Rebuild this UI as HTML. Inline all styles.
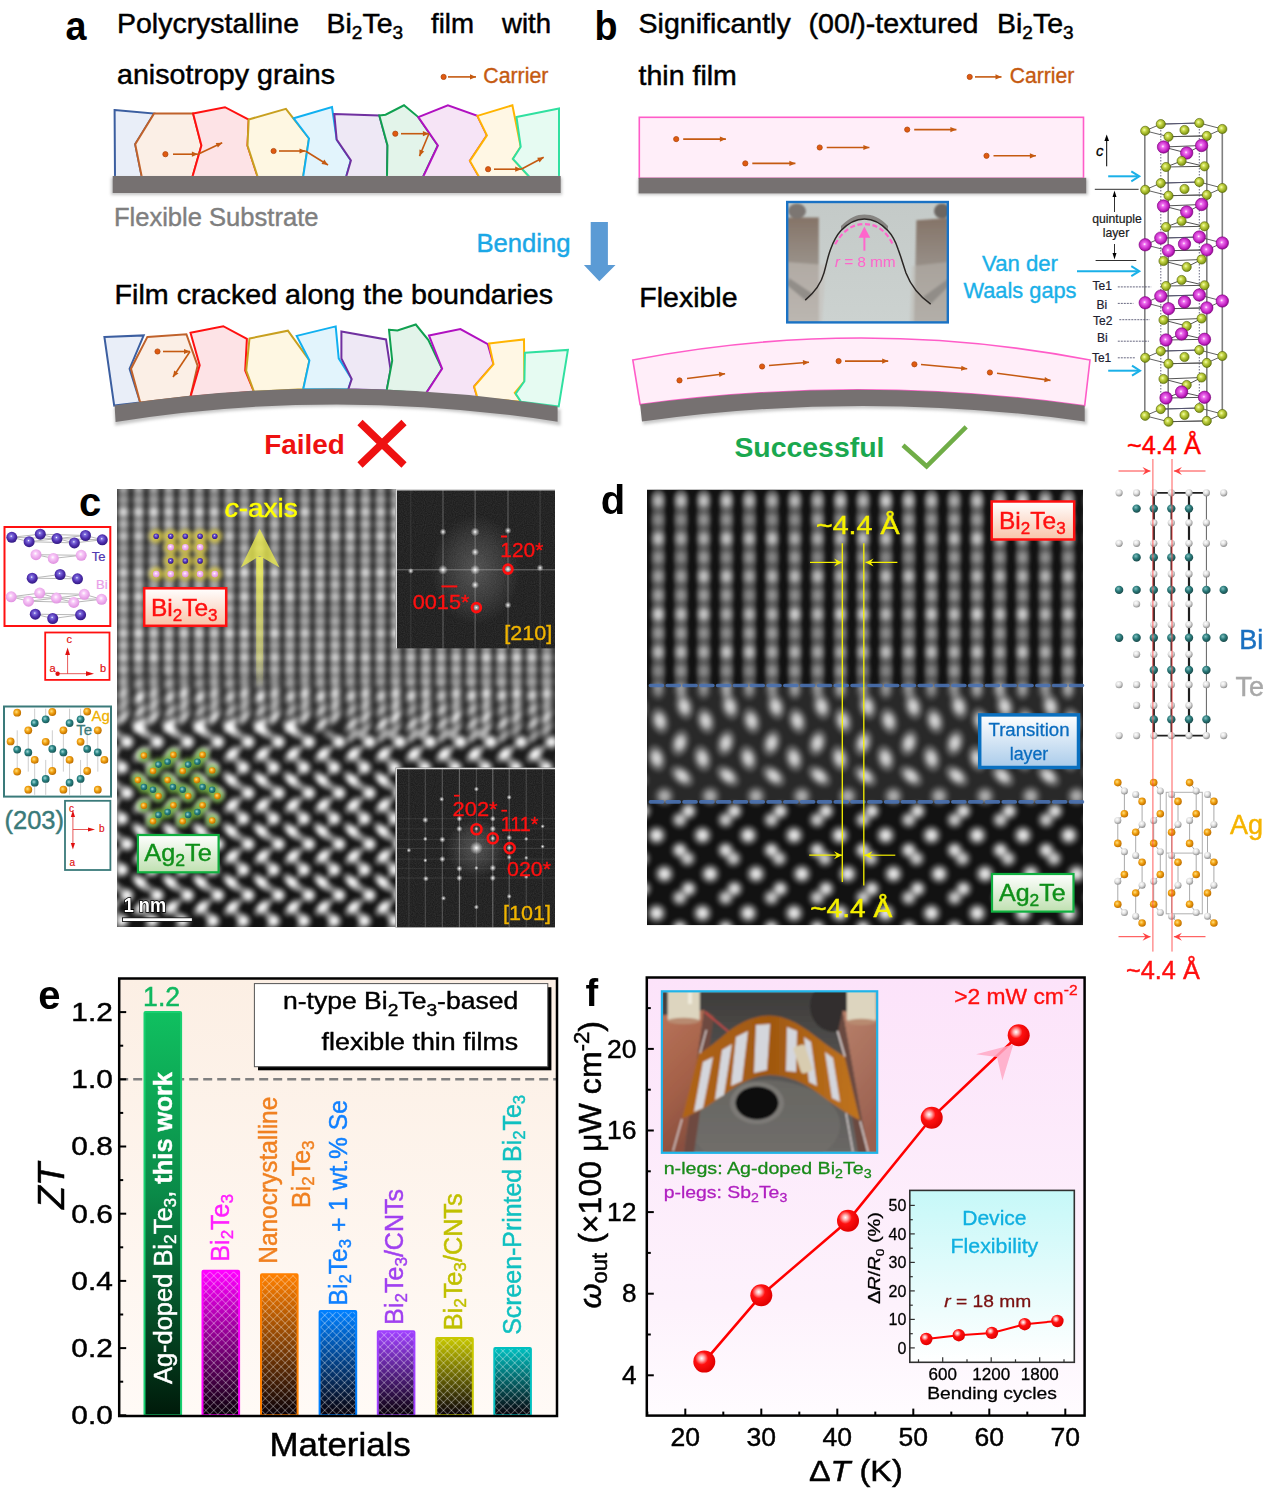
<!DOCTYPE html>
<html><head><meta charset="utf-8"><style>
html,body{margin:0;padding:0;background:#fff;width:1268px;height:1492px;overflow:hidden}
svg{display:block}
text{font-family:"Liberation Sans",sans-serif}
</style></head><body>
<svg width="1268" height="1492" viewBox="0 0 1268 1492">
<text x="65.5" y="40" font-size="40" fill="#000" font-weight="bold" textLength="21" lengthAdjust="spacingAndGlyphs">a</text>
<text x="117" y="33" font-size="28.5" fill="#000" textLength="182" lengthAdjust="spacingAndGlyphs" stroke="#000" stroke-width="0.48">Polycrystalline</text>
<text x="326.5" y="33" font-size="28.5" fill="#000" stroke="#000" stroke-width="0.48">Bi<tspan font-size="19" dy="6">2</tspan><tspan dy="-6">Te</tspan><tspan font-size="19" dy="6">3</tspan></text>
<text x="431" y="33" font-size="28.5" fill="#000" textLength="43" lengthAdjust="spacingAndGlyphs" stroke="#000" stroke-width="0.48">film</text>
<text x="502" y="33" font-size="28.5" fill="#000" textLength="49" lengthAdjust="spacingAndGlyphs" stroke="#000" stroke-width="0.48">with</text>
<text x="117" y="84" font-size="28.5" fill="#000" textLength="218" lengthAdjust="spacingAndGlyphs" stroke="#000" stroke-width="0.48">anisotropy grains</text>
<circle cx="443.6" cy="76.9" r="2.6" fill="#e05a10" stroke="#b04a10" stroke-width="0.8"/><line x1="448" y1="76.9" x2="476" y2="76.9" stroke="#c55a11" stroke-width="1.6"/><polygon points="476,76.9 470.0,79.5 470.0,74.30000000000001" fill="#c55a11"/>
<text x="483.3" y="83.3" font-size="21.3" fill="#c55a11" textLength="65" lengthAdjust="spacingAndGlyphs" stroke="#c55a11" stroke-width="0.36">Carrier</text>
<polygon points="114.6,110 154.1,113.6 135.2,144.3 141.8,177 115,177" fill="#e9eef8" stroke="#3b5ea0" stroke-width="2" stroke-linejoin="miter"/>
<polygon points="154.1,113.6 193.1,113.6 201.4,145.5 192.4,177 141.8,177 135.2,144.3" fill="#fbefe6" stroke="#c0622b" stroke-width="2" stroke-linejoin="miter"/>
<polygon points="193.1,113.6 225,107.2 248.7,119.5 247.5,145.5 257.7,177 192.4,177 201.4,145.5" fill="#fde3e6" stroke="#ff1010" stroke-width="2" stroke-linejoin="miter"/>
<polygon points="248.7,119.5 285.9,108.8 309,138.4 303.1,177 257.7,177 247.5,145.5" fill="#fef7e2" stroke="#c8a020" stroke-width="2" stroke-linejoin="miter"/>
<polygon points="293.7,118.3 332,107 336.7,139.6 350.9,160.4 346.1,177 303.1,177 309,138.4" fill="#e2f4fc" stroke="#10b0f0" stroke-width="2" stroke-linejoin="miter"/>
<polygon points="334.3,114 379.3,115.4 387.5,145.5 387,177 346.1,177 350.9,160.4 336.7,139.6" fill="#eee8f5" stroke="#7030a0" stroke-width="2" stroke-linejoin="miter"/>
<polygon points="379.3,115.4 385.6,114.7 404,105.3 418.3,117.1 437.9,145.5 423,177 387,177 387.5,145.5" fill="#e3f4ea" stroke="#10a050" stroke-width="2" stroke-linejoin="miter"/>
<polygon points="418.3,117.1 447.9,105.3 477.4,115.9 486.9,135.3 469.9,160.9 479.1,177 423,177 437.9,145.5" fill="#f6e4f6" stroke="#b010c0" stroke-width="2" stroke-linejoin="miter"/>
<polygon points="477.4,115.9 512.4,105.3 520.7,146.7 512.9,159 529.5,177 479.1,177 469.9,160.9 486.9,135.3" fill="#fff7e4" stroke="#ffb400" stroke-width="2" stroke-linejoin="miter"/>
<polygon points="516.5,117.1 559,108.4 559,177 529.5,177 512.9,159 520.7,146.7" fill="#e6fbf2" stroke="#30e0a0" stroke-width="2" stroke-linejoin="miter"/>
<defs><filter id="shd" x="-5%" y="-50%" width="110%" height="200%"><feGaussianBlur stdDeviation="1.5"/></filter></defs>
<rect x="111" y="177.5" width="451" height="17.5" fill="#c8c8c8" filter="url(#shd)"/>
<rect x="112.7" y="176" width="448" height="17" fill="#767171"/>
<circle cx="165.4" cy="154.2" r="2.6" fill="#e05a10" stroke="#b04a10" stroke-width="0.8"/><line x1="173" y1="154.2" x2="197.9" y2="154.2" stroke="#c55a11" stroke-width="1.6"/><polygon points="197.9,154.2 191.9,156.79999999999998 191.9,151.6" fill="#c55a11"/><line x1="197.9" y1="154.2" x2="222.2" y2="142.7" stroke="#c55a11" stroke-width="1.6"/><polygon points="222.2,142.7 217.888857380269,147.61671122930144 215.6644714556796,142.91648705821254" fill="#c55a11"/>
<circle cx="273.6" cy="151" r="2.6" fill="#e05a10" stroke="#b04a10" stroke-width="0.8"/><line x1="279" y1="151" x2="305.5" y2="151" stroke="#c55a11" stroke-width="1.6"/><polygon points="305.5,151 299.5,153.6 299.5,148.4" fill="#c55a11"/><line x1="305.5" y1="151" x2="328" y2="165" stroke="#c55a11" stroke-width="1.6"/><polygon points="328,165 321.53207547169814,164.03773584905662 324.2792452830189,159.62264150943395" fill="#c55a11"/>
<circle cx="395.3" cy="133.7" r="2.6" fill="#e05a10" stroke="#b04a10" stroke-width="0.8"/><line x1="401" y1="133.7" x2="428.9" y2="133.7" stroke="#c55a11" stroke-width="1.6"/><polygon points="428.9,133.7 422.9,136.29999999999998 422.9,131.1" fill="#c55a11"/><line x1="428.9" y1="133.7" x2="419.5" y2="156.1" stroke="#c55a11" stroke-width="1.6"/><polygon points="419.5,156.1 419.4242561011752,149.56132560362644 424.21917421808274,151.57347874197157" fill="#c55a11"/>
<circle cx="488.1" cy="169.2" r="2.6" fill="#e05a10" stroke="#b04a10" stroke-width="0.8"/><line x1="494" y1="169.2" x2="521.2" y2="169.2" stroke="#c55a11" stroke-width="1.6"/><polygon points="521.2,169.2 515.2,171.79999999999998 515.2,166.6" fill="#c55a11"/><line x1="521.2" y1="169.2" x2="543.7" y2="157.3" stroke="#c55a11" stroke-width="1.6"/><polygon points="543.7,157.3 539.6116954688488,162.40350527192524 537.1805568527847,157.80681461129976" fill="#c55a11"/>
<text x="113.9" y="226" font-size="25.5" fill="#7f7f7f" textLength="204.6" lengthAdjust="spacingAndGlyphs" stroke="#7f7f7f" stroke-width="0.43">Flexible Substrate</text>
<text x="476.4" y="252" font-size="25.7" fill="#1aa7e6" textLength="94.2" lengthAdjust="spacingAndGlyphs" stroke="#1aa7e6" stroke-width="0.44">Bending</text>
<polygon points="590.7,222 607.9,222 607.9,265 615.5,265 599.3,281.3 583.9,265 590.7,265" fill="#5b9bd5"/>
<text x="114.6" y="304.3" font-size="28.5" fill="#000" textLength="438.4" lengthAdjust="spacingAndGlyphs" stroke="#000" stroke-width="0.48">Film cracked along the boundaries</text>
<polygon points="104.4,336.9 143.7,335.4 129.6,368.7 140.2,402.5 114.2,405.6" fill="#e9eef8" stroke="#3b5ea0" stroke-width="2" stroke-linejoin="miter"/>
<polygon points="147.4,336.9 186.4,334.2 197.6,365.6 190.5,396.7 140.2,402.5 131,368.7" fill="#fbefe6" stroke="#c0622b" stroke-width="2" stroke-linejoin="miter"/>
<polygon points="190.5,332.8 223.3,326.2 246.9,338.9 245.2,370.7 254,391.8 190.5,396.7 199.7,365.2" fill="#fde3e6" stroke="#ff1010" stroke-width="2" stroke-linejoin="miter"/>
<polygon points="249.5,338.5 287.9,330.7 309.4,360.5 303.2,389.2 254,391.8 246.2,370.7" fill="#fef7e2" stroke="#c8a020" stroke-width="2" stroke-linejoin="miter"/>
<polygon points="296.7,335.9 335.7,326.4 338.7,358.4 351.7,379 348.3,389.3 303.2,389.2 309.4,360.5" fill="#e2f4fc" stroke="#10b0f0" stroke-width="2" stroke-linejoin="miter"/>
<polygon points="341.4,331.4 386,339.4 390.6,369.8 386.7,390.4 348.3,389.3 351.7,379 341.4,358.4" fill="#eee8f5" stroke="#7030a0" stroke-width="2" stroke-linejoin="miter"/>
<polygon points="389,329.8 397.5,330.5 415.8,324.5 428.4,340.1 442.1,368.7 426,393.4 386.7,390.4 392.2,360.7" fill="#e3f4ea" stroke="#10a050" stroke-width="2" stroke-linejoin="miter"/>
<polygon points="429,335.5 460.4,329.1 487.8,344.2 493.5,364.1 474.1,386.5 477.5,398 426,393.4 442.1,368.7" fill="#f6e4f6" stroke="#b010c0" stroke-width="2" stroke-linejoin="miter"/>
<polygon points="489,343.5 524,339.4 524.4,381.3 514.8,392.7 521,401.8 477.5,398 474.1,386.5 493.5,364.1" fill="#fff7e4" stroke="#ffb400" stroke-width="2" stroke-linejoin="miter"/>
<polygon points="524.9,352.7 567.9,349.9 558.7,406.4 521,401.8 515.7,393.8 524.4,381.3" fill="#e6fbf2" stroke="#30e0a0" stroke-width="2" stroke-linejoin="miter"/>
<path d="M113,407 Q335,370 559.5,408 L559.5,424 Q335,386 114,424 Z" fill="#c8c8c8" filter="url(#shd)" transform="translate(1,1.5)"/>
<path d="M114.6,405.6 Q335,371 557.6,406.4 L557.6,421.7 Q335,387 115.6,422 Z" fill="#767171"/>
<circle cx="157.5" cy="351.5" r="2.6" fill="#e05a10" stroke="#b04a10" stroke-width="0.8"/><line x1="163" y1="351.5" x2="190" y2="351.5" stroke="#c55a11" stroke-width="1.6"/><polygon points="190,351.5 184.0,354.1 184.0,348.9" fill="#c55a11"/><line x1="190" y1="351.5" x2="173" y2="377" stroke="#c55a11" stroke-width="1.6"/><polygon points="173,377 174.16487041207296,370.5654777237873 178.49153194262976,373.44991874415854" fill="#c55a11"/>
<text x="264.3" y="453.8" font-size="27.9" fill="#ee1111" font-weight="bold" textLength="80.6" lengthAdjust="spacingAndGlyphs">Failed</text>
<path d="M360,422.5 L404,465 M404,422.5 L360,465" stroke="#ee1111" stroke-width="7.5"/>
<text x="594.5" y="39.5" font-size="40" fill="#000" font-weight="bold" textLength="23" lengthAdjust="spacingAndGlyphs">b</text>
<text x="638.6" y="33" font-size="28.5" fill="#000" stroke="#000" stroke-width="0.48">Significantly</text>
<text x="808.5" y="33" font-size="28.5" fill="#000" textLength="170" lengthAdjust="spacingAndGlyphs" stroke="#000" stroke-width="0.48">(00<tspan font-style="italic">l</tspan>)-textured</text>
<text x="997" y="33" font-size="28.5" fill="#000" stroke="#000" stroke-width="0.48">Bi<tspan font-size="19" dy="6">2</tspan><tspan dy="-6">Te</tspan><tspan font-size="19" dy="6">3</tspan></text>
<text x="638.6" y="85" font-size="28.5" fill="#000" stroke="#000" stroke-width="0.48">thin film</text>
<circle cx="969.7" cy="76.9" r="2.6" fill="#e05a10" stroke="#b04a10" stroke-width="0.8"/><line x1="975" y1="76.9" x2="1001.5" y2="76.9" stroke="#c55a11" stroke-width="1.6"/><polygon points="1001.5,76.9 995.5,79.5 995.5,74.30000000000001" fill="#c55a11"/>
<text x="1009.7" y="83.3" font-size="21.3" fill="#c55a11" textLength="64.6" lengthAdjust="spacingAndGlyphs" stroke="#c55a11" stroke-width="0.36">Carrier</text>
<rect x="639.3" y="117.3" width="444.2" height="61" fill="#ffeef9" stroke="#ff5cc8" stroke-width="1.6"/>
<rect x="638" y="179" width="450" height="16" fill="#c8c8c8" filter="url(#shd)"/>
<rect x="638.6" y="177.8" width="447.6" height="15.6" fill="#767171"/>
<circle cx="676.2" cy="139.1" r="2.6" fill="#e05a10" stroke="#b04a10" stroke-width="0.8"/><line x1="683.2" y1="139.1" x2="725.9" y2="139.1" stroke="#c55a11" stroke-width="1.6"/><polygon points="725.9,139.1 719.9,141.7 719.9,136.5" fill="#c55a11"/>
<circle cx="745.3" cy="163.4" r="2.6" fill="#e05a10" stroke="#b04a10" stroke-width="0.8"/><line x1="752.3" y1="163.4" x2="795.4" y2="163.4" stroke="#c55a11" stroke-width="1.6"/><polygon points="795.4,163.4 789.4,166.0 789.4,160.8" fill="#c55a11"/>
<circle cx="819.7" cy="147.5" r="2.6" fill="#e05a10" stroke="#b04a10" stroke-width="0.8"/><line x1="826.7" y1="147.5" x2="869.4" y2="147.5" stroke="#c55a11" stroke-width="1.6"/><polygon points="869.4,147.5 863.4,150.1 863.4,144.9" fill="#c55a11"/>
<circle cx="907.2" cy="129.6" r="2.6" fill="#e05a10" stroke="#b04a10" stroke-width="0.8"/><line x1="914.2" y1="129.6" x2="956.4" y2="129.6" stroke="#c55a11" stroke-width="1.6"/><polygon points="956.4,129.6 950.4,132.2 950.4,127.0" fill="#c55a11"/>
<circle cx="986.5" cy="155.8" r="2.6" fill="#e05a10" stroke="#b04a10" stroke-width="0.8"/><line x1="993.5" y1="155.8" x2="1035.9" y2="155.8" stroke="#c55a11" stroke-width="1.6"/><polygon points="1035.9,155.8 1029.9,158.4 1029.9,153.20000000000002" fill="#c55a11"/>
<defs><clipPath id="phc"><rect x="787.2" y="202" width="160.5999999999999" height="120.39999999999998"/></clipPath><linearGradient id="phbg" x1="0" y1="0" x2="0" y2="1"><stop offset="0" stop-color="#c4cac8"/><stop offset="1" stop-color="#ccd2d0"/></linearGradient><linearGradient id="blkL" x1="0" y1="0" x2="0" y2="1"><stop offset="0" stop-color="#857468"/><stop offset="0.45" stop-color="#9a928a"/><stop offset="1" stop-color="#b0aca6"/></linearGradient><linearGradient id="blkR" x1="0" y1="0" x2="0" y2="1"><stop offset="0" stop-color="#857468"/><stop offset="0.4" stop-color="#958c84"/><stop offset="1" stop-color="#aaa6a0"/></linearGradient><filter id="phb" x="-10%" y="-10%" width="120%" height="120%"><feGaussianBlur stdDeviation="1.3"/></filter></defs>
<g clip-path="url(#phc)">
<rect x="787.2" y="202" width="160.5999999999999" height="120.39999999999998" fill="url(#phbg)"/>
<g filter="url(#phb)">
<polygon points="787,217.6 818.8,217.6 818.8,322.4 787,322.4" fill="url(#blkL)"/>
<polygon points="787,262 826,265 822,322.4 787,322.4" fill="#c4c0ba" opacity="0.55"/>
<polygon points="916.4,220.2 947.8,218 947.8,322.4 914,322.4" fill="url(#blkR)"/>
<polygon points="912,266 947.8,262 947.8,322.4 910,322.4" fill="#bcb8b2" opacity="0.5"/>
<ellipse cx="797" cy="211" rx="9" ry="7.5" fill="#7c7672"/>
<ellipse cx="942" cy="211" rx="8" ry="7.5" fill="#6c6662"/>
<path d="M787,285 L805.2,300.2 L813,294 L789,278 Z" fill="#8c8884" opacity="0.85"/>
<path d="M947.8,287 L930.7,304.1 L923,297 L947.8,279 Z" fill="#8c8884" opacity="0.85"/>
</g>
<path d="M841,226 C850,217 857,214.5 864.4,214.5 C872,214.5 880,217 888,226 L887.8,230.6 C880,222 872,218.9 864.4,218.9 C857,218.9 849,222 841,230.6 Z" fill="#777370" opacity="0.8"/>
<path d="M805.2,300.2 C815,292 821,284 824,272.9 C827,262 828,256 830.5,249.4 C834,240 837,235 841,230.6 C849,222 857,218.9 864.4,218.9 C872,218.9 880,222 887.8,230.6 C892,235 895,240 898.2,249.4 C901,257 903,264 906,272.9 C911,286 918,295 930.7,304.1" fill="none" stroke="#2a2624" stroke-width="1.5"/>
</g>
<rect x="787.2" y="202" width="160.5999999999999" height="120.39999999999998" fill="none" stroke="#1a72c4" stroke-width="2.4"/>
<path d="M835.1,244.3 C843,230 853,224.1 864.4,224.1 C876,224.1 886,230 893,244.9" fill="none" stroke="#ff66cc" stroke-width="2.2" stroke-dasharray="5,2.6"/>
<line x1="864.4" y1="250.7" x2="864.4" y2="234" stroke="#ff66cc" stroke-width="2"/>
<polygon points="864.4,226.5 870.2,237.7 858.6,237.7" fill="#ff66cc"/>
<text x="835.1" y="267" font-size="15.5" fill="#ff66cc" textLength="60.5" lengthAdjust="spacingAndGlyphs"><tspan font-style="italic">r</tspan> = 8 mm</text>
<text x="639.3" y="306.5" font-size="28.5" fill="#000" stroke="#000" stroke-width="0.48">Flexible</text>
<path d="M632.8,360 Q861,316 1090,360 L1084.7,405.7 Q862,374.6 640.1,404.5 Z" fill="#ffeef9" stroke="#ff5cc8" stroke-width="1.6"/>
<path d="M641,406 Q861,375 1086,407 L1086,423 Q861,391 642,423 Z" fill="#c8c8c8" filter="url(#shd)" transform="translate(1,1.5)"/>
<path d="M640.1,404.5 Q862,374.6 1084.7,405.7 L1084.7,421.5 Q862,390.3 642,421.5 Z" fill="#767171"/>
<circle cx="679.5" cy="380.4" r="2.6" fill="#e05a10" stroke="#b04a10" stroke-width="0.8"/><line x1="687" y1="378.5" x2="725.1" y2="373.7" stroke="#c55a11" stroke-width="1.6"/><polygon points="725.1,373.7 719.4720467488825,377.02958589065287 718.8220665844002,371.8703683350753" fill="#c55a11"/>
<circle cx="762.1" cy="366.5" r="2.6" fill="#e05a10" stroke="#b04a10" stroke-width="0.8"/><line x1="769" y1="365.5" x2="809" y2="362.2" stroke="#c55a11" stroke-width="1.6"/><polygon points="809,362.2 803.2340888412978,365.2845207909745 802.8065413714019,360.1021272164777" fill="#c55a11"/>
<circle cx="838.6" cy="361.1" r="2.6" fill="#e05a10" stroke="#b04a10" stroke-width="0.8"/><line x1="845" y1="361.1" x2="888.2" y2="361.1" stroke="#c55a11" stroke-width="1.6"/><polygon points="888.2,361.1 882.2,363.70000000000005 882.2,358.5" fill="#c55a11"/>
<circle cx="914.4" cy="364.3" r="2.6" fill="#e05a10" stroke="#b04a10" stroke-width="0.8"/><line x1="921" y1="364.5" x2="967.2" y2="368.8" stroke="#c55a11" stroke-width="1.6"/><polygon points="967.2,368.8 960.9848704911994,370.8327727833764 961.4667704004053,365.6551505030717" fill="#c55a11"/>
<circle cx="989.9" cy="372.5" r="2.6" fill="#e05a10" stroke="#b04a10" stroke-width="0.8"/><line x1="997" y1="373.2" x2="1050.5" y2="380.4" stroke="#c55a11" stroke-width="1.6"/><polygon points="1050.5,380.4 1044.20682751571,382.1765078336377 1044.9003880296975,377.0229679033143" fill="#c55a11"/>
<text x="734.4" y="457.3" font-size="28.4" fill="#1aa84f" font-weight="bold" textLength="150" lengthAdjust="spacingAndGlyphs">Successful</text>
<path d="M903,445.2 L926.6,466.3 L966.2,426.8" fill="none" stroke="#70ad47" stroke-width="4.5"/>
<defs><radialGradient id="gTe" cx="0.4" cy="0.4" r="0.6"><stop offset="0" stop-color="#f4ffb0"/><stop offset="0.35" stop-color="#c8d848"/><stop offset="1" stop-color="#7a9010"/></radialGradient><radialGradient id="gBi" cx="0.45" cy="0.45" r="0.6"><stop offset="0" stop-color="#ffffff"/><stop offset="0.2" stop-color="#f070f0"/><stop offset="0.7" stop-color="#c020c0"/><stop offset="1" stop-color="#800080"/></radialGradient></defs>
<g stroke="#808080" stroke-width="1.6"><line x1="1144.8" y1="131" x2="1144.8" y2="415"/><line x1="1222.3" y1="129" x2="1222.3" y2="414"/><line x1="1168.2" y1="137" x2="1168.2" y2="421"/><line x1="1206.8" y1="136" x2="1206.8" y2="420"/></g>
<g stroke="#404060" stroke-width="0.8" stroke-dasharray="1.5,1.5"><line x1="1160.8" y1="124" x2="1160.8" y2="408"/><line x1="1199.3" y1="123" x2="1199.3" y2="407"/></g>
<polyline points="1145.2,130.8 1160.8,124.1 1199.3,123 1222.3,129 1206.8,135.9 1168.5,136.7 1145.2,130.8" fill="none" stroke="#505050" stroke-width="0.9"/>
<line x1="1160.8" y1="124.1" x2="1199.3" y2="123" stroke="#505070" stroke-width="0.9"/>
<line x1="1168.5" y1="136.7" x2="1206.8" y2="135.9" stroke="#505050" stroke-width="0.9"/>
<polygon points="1163.5,147 1201.6,145.5 1186.7,153" fill="none" stroke="#404040" stroke-width="0.9"/>
<polygon points="1181.6,161 1166,167 1204.5,166.3" fill="none" stroke="#404040" stroke-width="0.9"/>
<polyline points="1145.2,189.8 1160.8,183.1 1199.3,182 1222.3,188 1206.8,194.9 1168.5,195.7 1145.2,189.8" fill="none" stroke="#505050" stroke-width="0.9"/>
<line x1="1160.8" y1="183.1" x2="1199.3" y2="182" stroke="#505070" stroke-width="0.9"/>
<line x1="1168.5" y1="195.7" x2="1206.8" y2="194.9" stroke="#505050" stroke-width="0.9"/>
<polygon points="1163.5,206 1201.6,204.5 1186.7,212" fill="none" stroke="#404040" stroke-width="0.9"/>
<polygon points="1181.6,221 1166,227 1204.5,226.3" fill="none" stroke="#404040" stroke-width="0.9"/>
<polyline points="1145.2,244.8 1160.8,238.1 1199.3,237 1222.3,243 1206.8,249.9 1168.5,250.7 1145.2,244.8" fill="none" stroke="#505050" stroke-width="0.9"/>
<line x1="1160.8" y1="238.1" x2="1199.3" y2="237" stroke="#505070" stroke-width="0.9"/>
<line x1="1168.5" y1="250.7" x2="1206.8" y2="249.9" stroke="#505050" stroke-width="0.9"/>
<polygon points="1163.5,261 1201.6,259.5 1186.7,267" fill="none" stroke="#404040" stroke-width="0.9"/>
<polygon points="1181.6,280 1166,286 1204.5,285.3" fill="none" stroke="#404040" stroke-width="0.9"/>
<polyline points="1145.2,302.8 1160.8,296.1 1199.3,295 1222.3,301 1206.8,307.9 1168.5,308.7 1145.2,302.8" fill="none" stroke="#505050" stroke-width="0.9"/>
<line x1="1160.8" y1="296.1" x2="1199.3" y2="295" stroke="#505070" stroke-width="0.9"/>
<line x1="1168.5" y1="308.7" x2="1206.8" y2="307.9" stroke="#505050" stroke-width="0.9"/>
<polygon points="1163.5,320 1201.6,318.5 1186.7,326" fill="none" stroke="#404040" stroke-width="0.9"/>
<polygon points="1181.6,334 1166,340 1204.5,339.3" fill="none" stroke="#404040" stroke-width="0.9"/>
<polyline points="1145.2,357.8 1160.8,351.1 1199.3,350 1222.3,356 1206.8,362.9 1168.5,363.7 1145.2,357.8" fill="none" stroke="#505050" stroke-width="0.9"/>
<line x1="1160.8" y1="351.1" x2="1199.3" y2="350" stroke="#505070" stroke-width="0.9"/>
<line x1="1168.5" y1="363.7" x2="1206.8" y2="362.9" stroke="#505050" stroke-width="0.9"/>
<polygon points="1163.5,379 1201.6,377.5 1186.7,385" fill="none" stroke="#404040" stroke-width="0.9"/>
<polygon points="1181.6,392 1166,398 1204.5,397.3" fill="none" stroke="#404040" stroke-width="0.9"/>
<polyline points="1145.2,415.8 1160.8,409.1 1199.3,408 1222.3,414 1206.8,420.9 1168.5,421.7 1145.2,415.8" fill="none" stroke="#505050" stroke-width="0.9"/>
<line x1="1160.8" y1="409.1" x2="1199.3" y2="408" stroke="#505070" stroke-width="0.9"/>
<line x1="1168.5" y1="421.7" x2="1206.8" y2="420.9" stroke="#505050" stroke-width="0.9"/>
<circle cx="1145.2" cy="130.8" r="4.6" fill="url(#gTe)" stroke="#506000" stroke-width="0.6"/>
<circle cx="1160.8" cy="124.1" r="4.6" fill="url(#gTe)" stroke="#506000" stroke-width="0.6"/>
<circle cx="1199.3" cy="123" r="4.6" fill="url(#gTe)" stroke="#506000" stroke-width="0.6"/>
<circle cx="1222.3" cy="129" r="4.6" fill="url(#gTe)" stroke="#506000" stroke-width="0.6"/>
<circle cx="1206.8" cy="135.9" r="4.6" fill="url(#gTe)" stroke="#506000" stroke-width="0.6"/>
<circle cx="1168.5" cy="136.7" r="4.6" fill="url(#gTe)" stroke="#506000" stroke-width="0.6"/>
<circle cx="1184.5" cy="130" r="4.6" fill="url(#gTe)" stroke="#506000" stroke-width="0.6"/>
<circle cx="1163.5" cy="147" r="6.2" fill="url(#gBi)" stroke="#7a007a" stroke-width="0.6"/>
<circle cx="1201.6" cy="145.5" r="6.2" fill="url(#gBi)" stroke="#7a007a" stroke-width="0.6"/>
<circle cx="1186.7" cy="153" r="6.2" fill="url(#gBi)" stroke="#7a007a" stroke-width="0.6"/>
<circle cx="1181.6" cy="161" r="4.6" fill="url(#gTe)" stroke="#506000" stroke-width="0.6"/>
<circle cx="1166" cy="167" r="4.6" fill="url(#gTe)" stroke="#506000" stroke-width="0.6"/>
<circle cx="1204.5" cy="166.3" r="4.6" fill="url(#gTe)" stroke="#506000" stroke-width="0.6"/>
<circle cx="1145.2" cy="189.8" r="4.6" fill="url(#gTe)" stroke="#506000" stroke-width="0.6"/>
<circle cx="1160.8" cy="183.1" r="4.6" fill="url(#gTe)" stroke="#506000" stroke-width="0.6"/>
<circle cx="1199.3" cy="182" r="4.6" fill="url(#gTe)" stroke="#506000" stroke-width="0.6"/>
<circle cx="1222.3" cy="188" r="4.6" fill="url(#gTe)" stroke="#506000" stroke-width="0.6"/>
<circle cx="1206.8" cy="194.9" r="4.6" fill="url(#gTe)" stroke="#506000" stroke-width="0.6"/>
<circle cx="1168.5" cy="195.7" r="4.6" fill="url(#gTe)" stroke="#506000" stroke-width="0.6"/>
<circle cx="1184.5" cy="189" r="4.6" fill="url(#gTe)" stroke="#506000" stroke-width="0.6"/>
<circle cx="1163.5" cy="206" r="6.2" fill="url(#gBi)" stroke="#7a007a" stroke-width="0.6"/>
<circle cx="1201.6" cy="204.5" r="6.2" fill="url(#gBi)" stroke="#7a007a" stroke-width="0.6"/>
<circle cx="1186.7" cy="212" r="6.2" fill="url(#gBi)" stroke="#7a007a" stroke-width="0.6"/>
<circle cx="1181.6" cy="221" r="4.6" fill="url(#gTe)" stroke="#506000" stroke-width="0.6"/>
<circle cx="1166" cy="227" r="4.6" fill="url(#gTe)" stroke="#506000" stroke-width="0.6"/>
<circle cx="1204.5" cy="226.3" r="4.6" fill="url(#gTe)" stroke="#506000" stroke-width="0.6"/>
<circle cx="1145.2" cy="244.8" r="6.2" fill="url(#gBi)" stroke="#7a007a" stroke-width="0.6"/>
<circle cx="1160.8" cy="238.1" r="6.2" fill="url(#gBi)" stroke="#7a007a" stroke-width="0.6"/>
<circle cx="1199.3" cy="237" r="6.2" fill="url(#gBi)" stroke="#7a007a" stroke-width="0.6"/>
<circle cx="1222.3" cy="243" r="6.2" fill="url(#gBi)" stroke="#7a007a" stroke-width="0.6"/>
<circle cx="1206.8" cy="249.9" r="6.2" fill="url(#gBi)" stroke="#7a007a" stroke-width="0.6"/>
<circle cx="1168.5" cy="250.7" r="6.2" fill="url(#gBi)" stroke="#7a007a" stroke-width="0.6"/>
<circle cx="1184.5" cy="244" r="6.2" fill="url(#gBi)" stroke="#7a007a" stroke-width="0.6"/>
<circle cx="1163.5" cy="261" r="4.6" fill="url(#gTe)" stroke="#506000" stroke-width="0.6"/>
<circle cx="1201.6" cy="259.5" r="4.6" fill="url(#gTe)" stroke="#506000" stroke-width="0.6"/>
<circle cx="1186.7" cy="267" r="4.6" fill="url(#gTe)" stroke="#506000" stroke-width="0.6"/>
<circle cx="1181.6" cy="280" r="4.6" fill="url(#gTe)" stroke="#506000" stroke-width="0.6"/>
<circle cx="1166" cy="286" r="4.6" fill="url(#gTe)" stroke="#506000" stroke-width="0.6"/>
<circle cx="1204.5" cy="285.3" r="4.6" fill="url(#gTe)" stroke="#506000" stroke-width="0.6"/>
<circle cx="1145.2" cy="302.8" r="6.2" fill="url(#gBi)" stroke="#7a007a" stroke-width="0.6"/>
<circle cx="1160.8" cy="296.1" r="6.2" fill="url(#gBi)" stroke="#7a007a" stroke-width="0.6"/>
<circle cx="1199.3" cy="295" r="6.2" fill="url(#gBi)" stroke="#7a007a" stroke-width="0.6"/>
<circle cx="1222.3" cy="301" r="6.2" fill="url(#gBi)" stroke="#7a007a" stroke-width="0.6"/>
<circle cx="1206.8" cy="307.9" r="6.2" fill="url(#gBi)" stroke="#7a007a" stroke-width="0.6"/>
<circle cx="1168.5" cy="308.7" r="6.2" fill="url(#gBi)" stroke="#7a007a" stroke-width="0.6"/>
<circle cx="1184.5" cy="302" r="6.2" fill="url(#gBi)" stroke="#7a007a" stroke-width="0.6"/>
<circle cx="1163.5" cy="320" r="4.6" fill="url(#gTe)" stroke="#506000" stroke-width="0.6"/>
<circle cx="1201.6" cy="318.5" r="4.6" fill="url(#gTe)" stroke="#506000" stroke-width="0.6"/>
<circle cx="1186.7" cy="326" r="4.6" fill="url(#gTe)" stroke="#506000" stroke-width="0.6"/>
<circle cx="1181.6" cy="334" r="6.2" fill="url(#gBi)" stroke="#7a007a" stroke-width="0.6"/>
<circle cx="1166" cy="340" r="6.2" fill="url(#gBi)" stroke="#7a007a" stroke-width="0.6"/>
<circle cx="1204.5" cy="339.3" r="6.2" fill="url(#gBi)" stroke="#7a007a" stroke-width="0.6"/>
<circle cx="1145.2" cy="357.8" r="4.6" fill="url(#gTe)" stroke="#506000" stroke-width="0.6"/>
<circle cx="1160.8" cy="351.1" r="4.6" fill="url(#gTe)" stroke="#506000" stroke-width="0.6"/>
<circle cx="1199.3" cy="350" r="4.6" fill="url(#gTe)" stroke="#506000" stroke-width="0.6"/>
<circle cx="1222.3" cy="356" r="4.6" fill="url(#gTe)" stroke="#506000" stroke-width="0.6"/>
<circle cx="1206.8" cy="362.9" r="4.6" fill="url(#gTe)" stroke="#506000" stroke-width="0.6"/>
<circle cx="1168.5" cy="363.7" r="4.6" fill="url(#gTe)" stroke="#506000" stroke-width="0.6"/>
<circle cx="1184.5" cy="357" r="4.6" fill="url(#gTe)" stroke="#506000" stroke-width="0.6"/>
<circle cx="1163.5" cy="379" r="4.6" fill="url(#gTe)" stroke="#506000" stroke-width="0.6"/>
<circle cx="1201.6" cy="377.5" r="4.6" fill="url(#gTe)" stroke="#506000" stroke-width="0.6"/>
<circle cx="1186.7" cy="385" r="4.6" fill="url(#gTe)" stroke="#506000" stroke-width="0.6"/>
<circle cx="1181.6" cy="392" r="6.2" fill="url(#gBi)" stroke="#7a007a" stroke-width="0.6"/>
<circle cx="1166" cy="398" r="6.2" fill="url(#gBi)" stroke="#7a007a" stroke-width="0.6"/>
<circle cx="1204.5" cy="397.3" r="6.2" fill="url(#gBi)" stroke="#7a007a" stroke-width="0.6"/>
<circle cx="1145.2" cy="415.8" r="4.6" fill="url(#gTe)" stroke="#506000" stroke-width="0.6"/>
<circle cx="1160.8" cy="409.1" r="4.6" fill="url(#gTe)" stroke="#506000" stroke-width="0.6"/>
<circle cx="1199.3" cy="408" r="4.6" fill="url(#gTe)" stroke="#506000" stroke-width="0.6"/>
<circle cx="1222.3" cy="414" r="4.6" fill="url(#gTe)" stroke="#506000" stroke-width="0.6"/>
<circle cx="1206.8" cy="420.9" r="4.6" fill="url(#gTe)" stroke="#506000" stroke-width="0.6"/>
<circle cx="1168.5" cy="421.7" r="4.6" fill="url(#gTe)" stroke="#506000" stroke-width="0.6"/>
<circle cx="1184.5" cy="415" r="4.6" fill="url(#gTe)" stroke="#506000" stroke-width="0.6"/>
<text x="1096" y="156" font-size="15" fill="#000" font-style="italic" stroke="#000" stroke-width="0.26">c</text>
<line x1="1106.7" y1="166.3" x2="1106.7" y2="139" stroke="#000" stroke-width="1"/><polygon points="1106.7,134.5 1109,141 1104.4,141" fill="#000"/>
<line x1="1108.2" y1="176.3" x2="1137.3" y2="176.3" stroke="#1ab0e8" stroke-width="2"/><path d="M1131.3,171.3 L1139.3,176.3 L1131.3,181.3" fill="none" stroke="#1ab0e8" stroke-width="2"/>
<line x1="1077" y1="271.2" x2="1137.3" y2="271.2" stroke="#1ab0e8" stroke-width="2"/><path d="M1131.3,266.2 L1139.3,271.2 L1131.3,276.2" fill="none" stroke="#1ab0e8" stroke-width="2"/>
<line x1="1108.2" y1="370.7" x2="1138" y2="370.7" stroke="#1ab0e8" stroke-width="2"/><path d="M1132,365.7 L1140,370.7 L1132,375.7" fill="none" stroke="#1ab0e8" stroke-width="2"/>
<g stroke="#303030" stroke-width="1"><line x1="1094.8" y1="189.3" x2="1138.6" y2="189.3"/><line x1="1095.6" y1="260.5" x2="1136.3" y2="260.5"/><line x1="1114.5" y1="193" x2="1114.5" y2="212"/><line x1="1114.5" y1="244" x2="1114.5" y2="257"/></g><polygon points="1114.5,190.5 1116.5,197 1112.5,197" fill="#000"/><polygon points="1114.5,259.5 1116.5,253 1112.5,253" fill="#000"/>
<text x="1117" y="222.7" font-size="12.2" fill="#202020" text-anchor="middle" stroke="#202020" stroke-width="0.21">quintuple</text>
<text x="1116" y="236.8" font-size="12.2" fill="#202020" text-anchor="middle" stroke="#202020" stroke-width="0.21">layer</text>
<text x="1092.6" y="290.4" font-size="12" fill="#202030" stroke="#202030" stroke-width="0.20">Te1</text>
<line x1="1117.8" y1="286.9" x2="1151.2" y2="286.9" stroke="#404060" stroke-width="0.8" stroke-dasharray="2,1"/>
<text x="1096.6" y="308.9" font-size="12" fill="#202030" stroke="#202030" stroke-width="0.20">Bi</text>
<line x1="1117.8" y1="303.4" x2="1133.4" y2="303.4" stroke="#404060" stroke-width="0.8" stroke-dasharray="2,1"/>
<text x="1093" y="324.5" font-size="12" fill="#202030" stroke="#202030" stroke-width="0.20">Te2</text>
<line x1="1119.3" y1="319.7" x2="1149.7" y2="319.7" stroke="#404060" stroke-width="0.8" stroke-dasharray="2,1"/>
<text x="1097" y="342.3" font-size="12" fill="#202030" stroke="#202030" stroke-width="0.20">Bi</text>
<line x1="1117.8" y1="341.2" x2="1148.9" y2="341.2" stroke="#404060" stroke-width="0.8" stroke-dasharray="2,1"/>
<text x="1091.9" y="361.5" font-size="12" fill="#202030" stroke="#202030" stroke-width="0.20">Te1</text>
<line x1="1117.8" y1="357.8" x2="1135.6" y2="357.8" stroke="#404060" stroke-width="0.8" stroke-dasharray="2,1"/>
<text x="1020" y="271.3" font-size="22" fill="#1ab0e8" text-anchor="middle" textLength="76" lengthAdjust="spacingAndGlyphs" stroke="#1ab0e8" stroke-width="0.37">Van der</text>
<text x="1020" y="297.7" font-size="22" fill="#1ab0e8" text-anchor="middle" textLength="113" lengthAdjust="spacingAndGlyphs" stroke="#1ab0e8" stroke-width="0.37">Waals gaps</text>
<text x="1127" y="453.5" font-size="25.3" fill="#ff0000" textLength="73.8" lengthAdjust="spacingAndGlyphs" stroke="#ff0000" stroke-width="0.43">~4.4 Å</text>
<defs><radialGradient id="gPu" cx="0.45" cy="0.4" r="0.6"><stop offset="0" stop-color="#ffffff"/><stop offset="0.18" stop-color="#8070e0"/><stop offset="0.6" stop-color="#5030b0"/><stop offset="1" stop-color="#301880"/></radialGradient><radialGradient id="gPk" cx="0.45" cy="0.4" r="0.6"><stop offset="0" stop-color="#ffffff"/><stop offset="0.3" stop-color="#f8c8f8"/><stop offset="1" stop-color="#e090e0"/></radialGradient><radialGradient id="gOr" cx="0.4" cy="0.4" r="0.6"><stop offset="0" stop-color="#ffe080"/><stop offset="0.5" stop-color="#f0a010"/><stop offset="1" stop-color="#c07000"/></radialGradient><radialGradient id="gTl" cx="0.4" cy="0.4" r="0.6"><stop offset="0" stop-color="#a0d8d8"/><stop offset="0.5" stop-color="#2a8484"/><stop offset="1" stop-color="#1a5a5a"/></radialGradient></defs>
<text x="79" y="516" font-size="40" fill="#000" font-weight="bold">c</text>
<rect x="4.5" y="527" width="105.8" height="99" fill="#fff" stroke="#ff1010" stroke-width="2"/>
<line x1="11.8" y1="537.3" x2="29.1" y2="541.7" stroke="#b8b8b8" stroke-width="1"/><line x1="29.1" y1="541.7" x2="74.4" y2="542.9" stroke="#b8b8b8" stroke-width="1"/><line x1="74.4" y1="542.9" x2="102.3" y2="539.8" stroke="#b8b8b8" stroke-width="1"/><line x1="102.3" y1="539.8" x2="85.5" y2="535.5" stroke="#b8b8b8" stroke-width="1"/><line x1="85.5" y1="535.5" x2="40.3" y2="534.2" stroke="#b8b8b8" stroke-width="1"/><line x1="40.3" y1="534.2" x2="11.8" y2="537.3" stroke="#b8b8b8" stroke-width="1"/><line x1="11.8" y1="537.3" x2="57" y2="538.6" stroke="#b8b8b8" stroke-width="1"/><line x1="57" y1="538.6" x2="102.3" y2="539.8" stroke="#b8b8b8" stroke-width="1"/><line x1="40.3" y1="534.2" x2="57" y2="538.6" stroke="#b8b8b8" stroke-width="1"/><line x1="57" y1="538.6" x2="85.5" y2="535.5" stroke="#b8b8b8" stroke-width="1"/><line x1="29.1" y1="541.7" x2="57" y2="538.6" stroke="#b8b8b8" stroke-width="1"/><line x1="57" y1="538.6" x2="74.4" y2="542.9" stroke="#b8b8b8" stroke-width="1"/><line x1="11.2" y1="596.8" x2="28.5" y2="601.2" stroke="#b8b8b8" stroke-width="1"/><line x1="28.5" y1="601.2" x2="73.8" y2="602.4" stroke="#b8b8b8" stroke-width="1"/><line x1="73.8" y1="602.4" x2="101.6" y2="599.3" stroke="#b8b8b8" stroke-width="1"/><line x1="101.6" y1="599.3" x2="84.3" y2="594.3" stroke="#b8b8b8" stroke-width="1"/><line x1="84.3" y1="594.3" x2="39.7" y2="593.1" stroke="#b8b8b8" stroke-width="1"/><line x1="39.7" y1="593.1" x2="11.2" y2="596.8" stroke="#b8b8b8" stroke-width="1"/><line x1="11.2" y1="596.8" x2="56.4" y2="598.1" stroke="#b8b8b8" stroke-width="1"/><line x1="56.4" y1="598.1" x2="101.6" y2="599.3" stroke="#b8b8b8" stroke-width="1"/><line x1="39.7" y1="593.1" x2="56.4" y2="598.1" stroke="#b8b8b8" stroke-width="1"/><line x1="56.4" y1="598.1" x2="84.3" y2="594.3" stroke="#b8b8b8" stroke-width="1"/><line x1="28.5" y1="601.2" x2="56.4" y2="598.1" stroke="#b8b8b8" stroke-width="1"/><line x1="56.4" y1="598.1" x2="73.8" y2="602.4" stroke="#b8b8b8" stroke-width="1"/><polygon points="36,554.7 53.3,558.4 81.2,555.3" fill="none" stroke="#b8b8b8" stroke-width="1"/><polygon points="32.2,578.2 60.1,574.5 77.5,578.8" fill="none" stroke="#b8b8b8" stroke-width="1"/><polygon points="35.3,614.2 52.7,618.5 80.6,614.8" fill="none" stroke="#b8b8b8" stroke-width="1"/>
<circle cx="40.3" cy="534.2" r="5.5" fill="url(#gPu)"/>
<circle cx="85.5" cy="535.5" r="5.5" fill="url(#gPu)"/>
<circle cx="11.8" cy="537.3" r="5.5" fill="url(#gPu)"/>
<circle cx="57" cy="538.6" r="5.5" fill="url(#gPu)"/>
<circle cx="102.3" cy="539.8" r="5.5" fill="url(#gPu)"/>
<circle cx="29.1" cy="541.7" r="5.5" fill="url(#gPu)"/>
<circle cx="74.4" cy="542.9" r="5.5" fill="url(#gPu)"/>
<circle cx="36" cy="554.7" r="5.5" fill="url(#gPk)"/>
<circle cx="81.2" cy="555.3" r="5.5" fill="url(#gPk)"/>
<circle cx="53.3" cy="558.4" r="5.5" fill="url(#gPk)"/>
<circle cx="60.1" cy="574.5" r="5.5" fill="url(#gPu)"/>
<circle cx="32.2" cy="578.2" r="5.5" fill="url(#gPu)"/>
<circle cx="77.5" cy="578.8" r="5.5" fill="url(#gPu)"/>
<circle cx="39.7" cy="593.1" r="5.5" fill="url(#gPk)"/>
<circle cx="84.3" cy="594.3" r="5.5" fill="url(#gPk)"/>
<circle cx="11.2" cy="596.8" r="5.5" fill="url(#gPk)"/>
<circle cx="56.4" cy="598.1" r="5.5" fill="url(#gPk)"/>
<circle cx="101.6" cy="599.3" r="5.5" fill="url(#gPk)"/>
<circle cx="28.5" cy="601.2" r="5.5" fill="url(#gPk)"/>
<circle cx="73.8" cy="602.4" r="5.5" fill="url(#gPk)"/>
<circle cx="35.3" cy="614.2" r="5.5" fill="url(#gPu)"/>
<circle cx="80.6" cy="614.8" r="5.5" fill="url(#gPu)"/>
<circle cx="52.7" cy="618.5" r="5.5" fill="url(#gPu)"/>
<text x="91.7" y="560.9" font-size="13" fill="#5038b0" stroke="#5038b0" stroke-width="0.22">Te</text>
<text x="96" y="588.8" font-size="13" fill="#e8a0e8" stroke="#e8a0e8" stroke-width="0.22">Bi</text>
<rect x="45.2" y="632.5" width="64.3" height="47.4" fill="#fff" stroke="#ff1010" stroke-width="1.8"/>
<text x="66.5" y="643" font-size="11" fill="#e01010" stroke="#e01010" stroke-width="0.19">c</text>
<line x1="67.6" y1="673.7" x2="67.6" y2="652" stroke="#e03030" stroke-width="0.8"/><polygon points="67.6,647.5 70,655 65.2,655" fill="#e01010"/>
<line x1="57.6" y1="673.7" x2="90" y2="673.7" stroke="#e03030" stroke-width="0.8"/><polygon points="94,673.7 86,671.3 86,676.1" fill="#e01010"/>
<circle cx="57.6" cy="673.7" r="2.2" fill="#e01010"/>
<text x="49.5" y="672" font-size="11" fill="#e01010" stroke="#e01010" stroke-width="0.19">a</text>
<text x="100" y="672" font-size="11" fill="#e01010" stroke="#e01010" stroke-width="0.19">b</text>
<rect x="4" y="706.5" width="107" height="90.1" fill="#fff" stroke="#3a7a7a" stroke-width="2"/>
<line x1="34.66548907043497" y1="708.703908147494" x2="34.66548907043497" y2="723.0558622212409" stroke="#c0c0c0" stroke-width="0.8"/>
<line x1="45.70545374254802" y1="708.703908147494" x2="45.70545374254802" y2="723.0558622212409" stroke="#c0c0c0" stroke-width="0.8"/>
<line x1="69.55177743431221" y1="708.703908147494" x2="69.55177743431221" y2="723.0558622212409" stroke="#c0c0c0" stroke-width="0.8"/>
<line x1="80.59174210642526" y1="708.703908147494" x2="80.59174210642526" y2="723.0558622212409" stroke="#c0c0c0" stroke-width="0.8"/>
<line x1="17.22234488849636" y1="730.3422389048355" x2="17.22234488849636" y2="771.6317067785383" stroke="#c0c0c0" stroke-width="0.8"/>
<line x1="28.262309560609406" y1="730.3422389048355" x2="28.262309560609406" y2="771.6317067785383" stroke="#c0c0c0" stroke-width="0.8"/>
<line x1="52.329432545815855" y1="730.3422389048355" x2="52.329432545815855" y2="771.6317067785383" stroke="#c0c0c0" stroke-width="0.8"/>
<line x1="63.369397217928906" y1="730.3422389048355" x2="63.369397217928906" y2="771.6317067785383" stroke="#c0c0c0" stroke-width="0.8"/>
<line x1="87.21572090969309" y1="730.3422389048355" x2="87.21572090969309" y2="771.6317067785383" stroke="#c0c0c0" stroke-width="0.8"/>
<line x1="97.81408699492162" y1="730.3422389048355" x2="97.81408699492162" y2="771.6317067785383" stroke="#c0c0c0" stroke-width="0.8"/>
<line x1="34.66548907043497" y1="759.9293442260985" x2="34.66548907043497" y2="794.8156325899757" stroke="#c0c0c0" stroke-width="0.8"/>
<line x1="45.70545374254802" y1="759.9293442260985" x2="45.70545374254802" y2="794.8156325899757" stroke="#c0c0c0" stroke-width="0.8"/>
<line x1="69.55177743431221" y1="759.9293442260985" x2="69.55177743431221" y2="794.8156325899757" stroke="#c0c0c0" stroke-width="0.8"/>
<line x1="80.59174210642526" y1="759.9293442260985" x2="80.59174210642526" y2="794.8156325899757" stroke="#c0c0c0" stroke-width="0.8"/>
<circle cx="17.2" cy="712.7" r="3.9" fill="url(#gOr)"/>
<circle cx="52.3" cy="712.0" r="3.9" fill="url(#gOr)"/>
<circle cx="87.2" cy="711.6" r="3.9" fill="url(#gOr)"/>
<circle cx="28.3" cy="730.3" r="3.9" fill="url(#gOr)"/>
<circle cx="63.4" cy="730.3" r="3.9" fill="url(#gOr)"/>
<circle cx="97.8" cy="730.3" r="3.9" fill="url(#gOr)"/>
<circle cx="10.6" cy="741.4" r="3.9" fill="url(#gOr)"/>
<circle cx="45.7" cy="741.8" r="3.9" fill="url(#gOr)"/>
<circle cx="80.6" cy="741.8" r="3.9" fill="url(#gOr)"/>
<circle cx="34.7" cy="759.9" r="3.9" fill="url(#gOr)"/>
<circle cx="69.6" cy="759.9" r="3.9" fill="url(#gOr)"/>
<circle cx="104.4" cy="759.9" r="3.9" fill="url(#gOr)"/>
<circle cx="17.2" cy="771.6" r="3.9" fill="url(#gOr)"/>
<circle cx="52.3" cy="771.0" r="3.9" fill="url(#gOr)"/>
<circle cx="87.2" cy="771.0" r="3.9" fill="url(#gOr)"/>
<circle cx="28.3" cy="789.7" r="3.9" fill="url(#gOr)"/>
<circle cx="63.4" cy="789.7" r="3.9" fill="url(#gOr)"/>
<circle cx="97.8" cy="789.7" r="3.9" fill="url(#gOr)"/>
<circle cx="34.7" cy="723.1" r="3.9" fill="url(#gTl)"/>
<circle cx="45.7" cy="719.3" r="3.9" fill="url(#gTl)"/>
<circle cx="69.6" cy="723.1" r="3.9" fill="url(#gTl)"/>
<circle cx="80.6" cy="719.3" r="3.9" fill="url(#gTl)"/>
<circle cx="17.2" cy="749.6" r="3.9" fill="url(#gTl)"/>
<circle cx="28.3" cy="752.4" r="3.9" fill="url(#gTl)"/>
<circle cx="52.3" cy="748.9" r="3.9" fill="url(#gTl)"/>
<circle cx="63.4" cy="752.4" r="3.9" fill="url(#gTl)"/>
<circle cx="87.2" cy="748.9" r="3.9" fill="url(#gTl)"/>
<circle cx="97.8" cy="752.4" r="3.9" fill="url(#gTl)"/>
<circle cx="34.7" cy="782.7" r="3.9" fill="url(#gTl)"/>
<circle cx="45.7" cy="778.9" r="3.9" fill="url(#gTl)"/>
<circle cx="69.6" cy="782.7" r="3.9" fill="url(#gTl)"/>
<circle cx="80.6" cy="778.9" r="3.9" fill="url(#gTl)"/>
<text x="91.6" y="720.8" font-size="15" fill="#f0b000" stroke="#f0b000" stroke-width="0.26">Ag</text>
<text x="76.2" y="735.2" font-size="15" fill="#3a7a7a" stroke="#3a7a7a" stroke-width="0.26">Te</text>
<text x="4.5" y="829" font-size="25" fill="#3a7a7a" textLength="59.5" lengthAdjust="spacingAndGlyphs" stroke="#3a7a7a" stroke-width="0.43">(203)</text>
<rect x="65" y="800.8" width="45.4" height="69.2" fill="#fff" stroke="#3a7a7a" stroke-width="1.8"/>
<text x="69" y="812" font-size="10" fill="#e01010" stroke="#e01010" stroke-width="0.17">c</text>
<text x="69.5" y="866" font-size="10" fill="#e01010" stroke="#e01010" stroke-width="0.17">a</text>
<text x="99" y="832" font-size="10" fill="#e01010" stroke="#e01010" stroke-width="0.17">b</text>
<g stroke="#e03030" stroke-width="0.8"><line x1="72.9" y1="815" x2="72.9" y2="845"/><line x1="72.9" y1="829.5" x2="91" y2="829.5"/></g><polygon points="72.9,810.3 75,817 70.8,817" fill="#e01010"/><polygon points="72.9,849.6 75,843 70.8,843" fill="#e01010"/><polygon points="95,829.5 88,827.4 88,831.6" fill="#e01010"/>
<defs><radialGradient id="sp"><stop offset="0" stop-color="#fff" stop-opacity="1"/><stop offset="0.35" stop-color="#fff" stop-opacity="0.75"/><stop offset="0.65" stop-color="#fff" stop-opacity="0.3"/><stop offset="1" stop-color="#fff" stop-opacity="0"/></radialGradient><radialGradient id="spg"><stop offset="0" stop-color="#fff" stop-opacity="0.5"/><stop offset="0.5" stop-color="#fff" stop-opacity="0.25"/><stop offset="1" stop-color="#fff" stop-opacity="0"/></radialGradient><clipPath id="cc"><rect x="117" y="489" width="438" height="438"/></clipPath><linearGradient id="cbg" x1="0" y1="0" x2="0" y2="1"><stop offset="0" stop-color="#323232"/><stop offset="0.48" stop-color="#353535"/><stop offset="0.58" stop-color="#1c1c1c"/><stop offset="1" stop-color="#121212"/></linearGradient><filter id="tb" x="0" y="0" width="1" height="1"><feGaussianBlur stdDeviation="1.4"/></filter></defs>
<g clip-path="url(#cc)">
<rect x="117" y="489" width="438" height="438" fill="url(#cbg)"/>
<g filter="url(#tb)">
<rect x="103.3" y="489" width="10" height="184.7" fill="#8a8a8a" opacity="0.25" rx="5"/>
<ellipse cx="108.3" cy="487.8" rx="8.5" ry="9.5" fill="url(#sp)" opacity="0.55"/>
<ellipse cx="108.3" cy="499.9" rx="8.5" ry="9.5" fill="url(#sp)" opacity="0.55"/>
<ellipse cx="108.3" cy="512.0" rx="8.5" ry="9.5" fill="url(#sp)" opacity="0.76"/>
<ellipse cx="108.3" cy="524.1" rx="8.5" ry="9.5" fill="url(#sp)" opacity="0.64"/>
<ellipse cx="108.3" cy="536.2" rx="8.5" ry="9.5" fill="url(#sp)" opacity="0.77"/>
<ellipse cx="108.3" cy="548.4" rx="8.5" ry="9.5" fill="url(#sp)" opacity="0.52"/>
<ellipse cx="108.3" cy="560.5" rx="8.5" ry="9.5" fill="url(#sp)" opacity="0.48"/>
<ellipse cx="108.3" cy="572.6" rx="8.5" ry="9.5" fill="url(#sp)" opacity="0.85"/>
<ellipse cx="108.3" cy="584.7" rx="8.5" ry="9.5" fill="url(#sp)" opacity="0.59"/>
<ellipse cx="108.3" cy="596.8" rx="8.5" ry="9.5" fill="url(#sp)" opacity="0.70"/>
<ellipse cx="108.3" cy="609.0" rx="8.5" ry="9.5" fill="url(#sp)" opacity="0.66"/>
<ellipse cx="108.3" cy="621.1" rx="8.5" ry="9.5" fill="url(#sp)" opacity="0.54"/>
<ellipse cx="108.3" cy="633.2" rx="8.5" ry="9.5" fill="url(#sp)" opacity="0.85"/>
<ellipse cx="108.3" cy="645.3" rx="8.5" ry="9.5" fill="url(#sp)" opacity="0.62"/>
<ellipse cx="108.3" cy="657.4" rx="8.5" ry="9.5" fill="url(#sp)" opacity="0.77"/>
<ellipse cx="108.4" cy="669.7" rx="8.5" ry="9.6" fill="url(#sp)" transform="rotate(1 108.4 669.7)" opacity="0.54"/>
<ellipse cx="109.0" cy="683.6" rx="8.0" ry="10.8" fill="url(#sp)" transform="rotate(13 109.0 683.6)" opacity="0.59"/>
<ellipse cx="109.6" cy="697.6" rx="7.6" ry="12.0" fill="url(#sp)" transform="rotate(25 109.6 697.6)" opacity="0.92"/>
<ellipse cx="110.2" cy="711.5" rx="7.1" ry="13.2" fill="url(#sp)" transform="rotate(37 110.2 711.5)" opacity="0.70"/>
<ellipse cx="110.3" cy="724.0" rx="7.0" ry="13.5" fill="url(#sp)" transform="rotate(40 110.3 724.0)" opacity="0.88"/>
<rect x="118.4" y="489" width="10" height="185.2" fill="#8a8a8a" opacity="0.25" rx="5"/>
<ellipse cx="123.4" cy="487.8" rx="8.5" ry="9.5" fill="url(#sp)" opacity="0.61"/>
<ellipse cx="123.4" cy="499.9" rx="8.5" ry="9.5" fill="url(#sp)" opacity="0.49"/>
<ellipse cx="123.4" cy="512.0" rx="8.5" ry="9.5" fill="url(#sp)" opacity="0.83"/>
<ellipse cx="123.4" cy="524.1" rx="8.5" ry="9.5" fill="url(#sp)" opacity="0.64"/>
<ellipse cx="123.4" cy="536.2" rx="8.5" ry="9.5" fill="url(#sp)" opacity="0.71"/>
<ellipse cx="123.4" cy="548.4" rx="8.5" ry="9.5" fill="url(#sp)" opacity="0.52"/>
<ellipse cx="123.4" cy="560.5" rx="8.5" ry="9.5" fill="url(#sp)" opacity="0.60"/>
<ellipse cx="123.4" cy="572.6" rx="8.5" ry="9.5" fill="url(#sp)" opacity="0.78"/>
<ellipse cx="123.4" cy="584.7" rx="8.5" ry="9.5" fill="url(#sp)" opacity="0.66"/>
<ellipse cx="123.4" cy="596.8" rx="8.5" ry="9.5" fill="url(#sp)" opacity="0.81"/>
<ellipse cx="123.4" cy="609.0" rx="8.5" ry="9.5" fill="url(#sp)" opacity="0.62"/>
<ellipse cx="123.4" cy="621.1" rx="8.5" ry="9.5" fill="url(#sp)" opacity="0.61"/>
<ellipse cx="123.4" cy="633.2" rx="8.5" ry="9.5" fill="url(#sp)" opacity="0.76"/>
<ellipse cx="123.4" cy="645.3" rx="8.5" ry="9.5" fill="url(#sp)" opacity="0.67"/>
<ellipse cx="123.4" cy="657.4" rx="8.5" ry="9.5" fill="url(#sp)" opacity="0.73"/>
<ellipse cx="123.4" cy="669.6" rx="8.5" ry="9.5" fill="url(#sp)" transform="rotate(0 123.4 669.6)" opacity="0.65"/>
<ellipse cx="123.4" cy="681.4" rx="8.0" ry="10.7" fill="url(#sp)" transform="rotate(11 123.4 681.4)" opacity="0.62"/>
<ellipse cx="123.4" cy="693.2" rx="7.6" ry="12.0" fill="url(#sp)" transform="rotate(21 123.4 693.2)" opacity="0.75"/>
<ellipse cx="123.4" cy="705.0" rx="7.1" ry="13.2" fill="url(#sp)" transform="rotate(32 123.4 705.0)" opacity="0.63"/>
<ellipse cx="123.4" cy="717.0" rx="7.0" ry="13.5" fill="url(#sp)" transform="rotate(35 123.4 717.0)" opacity="0.77"/>
<rect x="133.6" y="489" width="10" height="185.8" fill="#8a8a8a" opacity="0.25" rx="5"/>
<ellipse cx="138.6" cy="487.8" rx="8.5" ry="9.5" fill="url(#sp)" opacity="0.65"/>
<ellipse cx="138.6" cy="499.9" rx="8.5" ry="9.5" fill="url(#sp)" opacity="0.54"/>
<ellipse cx="138.6" cy="512.0" rx="8.5" ry="9.5" fill="url(#sp)" opacity="0.81"/>
<ellipse cx="138.6" cy="524.1" rx="8.5" ry="9.5" fill="url(#sp)" opacity="0.60"/>
<ellipse cx="138.6" cy="536.2" rx="8.5" ry="9.5" fill="url(#sp)" opacity="0.75"/>
<ellipse cx="138.6" cy="548.4" rx="8.5" ry="9.5" fill="url(#sp)" opacity="0.57"/>
<ellipse cx="138.6" cy="560.5" rx="8.5" ry="9.5" fill="url(#sp)" opacity="0.53"/>
<ellipse cx="138.6" cy="572.6" rx="8.5" ry="9.5" fill="url(#sp)" opacity="0.80"/>
<ellipse cx="138.6" cy="584.7" rx="8.5" ry="9.5" fill="url(#sp)" opacity="0.64"/>
<ellipse cx="138.6" cy="596.8" rx="8.5" ry="9.5" fill="url(#sp)" opacity="0.82"/>
<ellipse cx="138.6" cy="609.0" rx="8.5" ry="9.5" fill="url(#sp)" opacity="0.61"/>
<ellipse cx="138.6" cy="621.1" rx="8.5" ry="9.5" fill="url(#sp)" opacity="0.61"/>
<ellipse cx="138.6" cy="633.2" rx="8.5" ry="9.5" fill="url(#sp)" opacity="0.85"/>
<ellipse cx="138.6" cy="645.3" rx="8.5" ry="9.5" fill="url(#sp)" opacity="0.70"/>
<ellipse cx="138.6" cy="657.4" rx="8.5" ry="9.5" fill="url(#sp)" opacity="0.78"/>
<ellipse cx="138.6" cy="669.6" rx="8.5" ry="9.5" fill="url(#sp)" opacity="0.54"/>
<ellipse cx="139.2" cy="683.5" rx="8.1" ry="10.7" fill="url(#sp)" transform="rotate(12 139.2 683.5)" opacity="0.62"/>
<ellipse cx="139.8" cy="697.4" rx="7.6" ry="11.9" fill="url(#sp)" transform="rotate(24 139.8 697.4)" opacity="0.93"/>
<ellipse cx="140.4" cy="711.3" rx="7.1" ry="13.1" fill="url(#sp)" transform="rotate(36 140.4 711.3)" opacity="0.76"/>
<ellipse cx="140.6" cy="724.0" rx="7.0" ry="13.5" fill="url(#sp)" transform="rotate(40 140.6 724.0)" opacity="0.84"/>
<rect x="148.7" y="489" width="10" height="186.3" fill="#8a8a8a" opacity="0.25" rx="5"/>
<ellipse cx="153.7" cy="487.8" rx="8.5" ry="9.5" fill="url(#sp)" opacity="0.62"/>
<ellipse cx="153.7" cy="499.9" rx="8.5" ry="9.5" fill="url(#sp)" opacity="0.51"/>
<ellipse cx="153.7" cy="512.0" rx="8.5" ry="9.5" fill="url(#sp)" opacity="0.85"/>
<ellipse cx="153.7" cy="524.1" rx="8.5" ry="9.5" fill="url(#sp)" opacity="0.64"/>
<ellipse cx="153.7" cy="536.2" rx="8.5" ry="9.5" fill="url(#sp)" opacity="0.70"/>
<ellipse cx="153.7" cy="548.4" rx="8.5" ry="9.5" fill="url(#sp)" opacity="0.52"/>
<ellipse cx="153.7" cy="560.5" rx="8.5" ry="9.5" fill="url(#sp)" opacity="0.60"/>
<ellipse cx="153.7" cy="572.6" rx="8.5" ry="9.5" fill="url(#sp)" opacity="0.88"/>
<ellipse cx="153.7" cy="584.7" rx="8.5" ry="9.5" fill="url(#sp)" opacity="0.56"/>
<ellipse cx="153.7" cy="596.8" rx="8.5" ry="9.5" fill="url(#sp)" opacity="0.80"/>
<ellipse cx="153.7" cy="609.0" rx="8.5" ry="9.5" fill="url(#sp)" opacity="0.57"/>
<ellipse cx="153.7" cy="621.1" rx="8.5" ry="9.5" fill="url(#sp)" opacity="0.50"/>
<ellipse cx="153.7" cy="633.2" rx="8.5" ry="9.5" fill="url(#sp)" opacity="0.74"/>
<ellipse cx="153.7" cy="645.3" rx="8.5" ry="9.5" fill="url(#sp)" opacity="0.67"/>
<ellipse cx="153.7" cy="657.4" rx="8.5" ry="9.5" fill="url(#sp)" opacity="0.81"/>
<ellipse cx="153.7" cy="669.6" rx="8.5" ry="9.5" fill="url(#sp)" opacity="0.52"/>
<ellipse cx="153.7" cy="681.4" rx="8.1" ry="10.6" fill="url(#sp)" transform="rotate(10 153.7 681.4)" opacity="0.58"/>
<ellipse cx="153.7" cy="693.2" rx="7.6" ry="11.8" fill="url(#sp)" transform="rotate(21 153.7 693.2)" opacity="0.74"/>
<ellipse cx="153.7" cy="705.0" rx="7.2" ry="13.1" fill="url(#sp)" transform="rotate(31 153.7 705.0)" opacity="0.73"/>
<ellipse cx="153.7" cy="717.0" rx="7.0" ry="13.5" fill="url(#sp)" transform="rotate(35 153.7 717.0)" opacity="0.79"/>
<rect x="163.8" y="489" width="10" height="186.9" fill="#8a8a8a" opacity="0.25" rx="5"/>
<ellipse cx="168.8" cy="487.8" rx="8.5" ry="9.5" fill="url(#sp)" opacity="0.64"/>
<ellipse cx="168.8" cy="499.9" rx="8.5" ry="9.5" fill="url(#sp)" opacity="0.61"/>
<ellipse cx="168.8" cy="512.0" rx="8.5" ry="9.5" fill="url(#sp)" opacity="0.78"/>
<ellipse cx="168.8" cy="524.1" rx="8.5" ry="9.5" fill="url(#sp)" opacity="0.70"/>
<ellipse cx="168.8" cy="536.2" rx="8.5" ry="9.5" fill="url(#sp)" opacity="0.71"/>
<ellipse cx="168.8" cy="548.4" rx="8.5" ry="9.5" fill="url(#sp)" opacity="0.53"/>
<ellipse cx="168.8" cy="560.5" rx="8.5" ry="9.5" fill="url(#sp)" opacity="0.56"/>
<ellipse cx="168.8" cy="572.6" rx="8.5" ry="9.5" fill="url(#sp)" opacity="0.69"/>
<ellipse cx="168.8" cy="584.7" rx="8.5" ry="9.5" fill="url(#sp)" opacity="0.58"/>
<ellipse cx="168.8" cy="596.8" rx="8.5" ry="9.5" fill="url(#sp)" opacity="0.73"/>
<ellipse cx="168.8" cy="609.0" rx="8.5" ry="9.5" fill="url(#sp)" opacity="0.60"/>
<ellipse cx="168.8" cy="621.1" rx="8.5" ry="9.5" fill="url(#sp)" opacity="0.50"/>
<ellipse cx="168.8" cy="633.2" rx="8.5" ry="9.5" fill="url(#sp)" opacity="0.69"/>
<ellipse cx="168.8" cy="645.3" rx="8.5" ry="9.5" fill="url(#sp)" opacity="0.68"/>
<ellipse cx="168.8" cy="657.4" rx="8.5" ry="9.5" fill="url(#sp)" opacity="0.71"/>
<ellipse cx="168.8" cy="669.6" rx="8.5" ry="9.5" fill="url(#sp)" opacity="0.65"/>
<ellipse cx="169.3" cy="683.3" rx="8.1" ry="10.6" fill="url(#sp)" transform="rotate(11 169.3 683.3)" opacity="0.62"/>
<ellipse cx="169.9" cy="697.2" rx="7.6" ry="11.8" fill="url(#sp)" transform="rotate(23 169.9 697.2)" opacity="0.81"/>
<ellipse cx="170.6" cy="711.2" rx="7.2" ry="13.0" fill="url(#sp)" transform="rotate(35 170.6 711.2)" opacity="0.68"/>
<ellipse cx="170.8" cy="724.0" rx="7.0" ry="13.5" fill="url(#sp)" transform="rotate(40 170.8 724.0)" opacity="0.83"/>
<rect x="178.9" y="489" width="10" height="187.4" fill="#8a8a8a" opacity="0.25" rx="5"/>
<ellipse cx="183.9" cy="487.8" rx="8.5" ry="9.5" fill="url(#sp)" opacity="0.61"/>
<ellipse cx="183.9" cy="499.9" rx="8.5" ry="9.5" fill="url(#sp)" opacity="0.56"/>
<ellipse cx="183.9" cy="512.0" rx="8.5" ry="9.5" fill="url(#sp)" opacity="0.79"/>
<ellipse cx="183.9" cy="524.1" rx="8.5" ry="9.5" fill="url(#sp)" opacity="0.65"/>
<ellipse cx="183.9" cy="536.2" rx="8.5" ry="9.5" fill="url(#sp)" opacity="0.83"/>
<ellipse cx="183.9" cy="548.4" rx="8.5" ry="9.5" fill="url(#sp)" opacity="0.59"/>
<ellipse cx="183.9" cy="560.5" rx="8.5" ry="9.5" fill="url(#sp)" opacity="0.54"/>
<ellipse cx="183.9" cy="572.6" rx="8.5" ry="9.5" fill="url(#sp)" opacity="0.83"/>
<ellipse cx="183.9" cy="584.7" rx="8.5" ry="9.5" fill="url(#sp)" opacity="0.59"/>
<ellipse cx="183.9" cy="596.8" rx="8.5" ry="9.5" fill="url(#sp)" opacity="0.71"/>
<ellipse cx="183.9" cy="609.0" rx="8.5" ry="9.5" fill="url(#sp)" opacity="0.66"/>
<ellipse cx="183.9" cy="621.1" rx="8.5" ry="9.5" fill="url(#sp)" opacity="0.55"/>
<ellipse cx="183.9" cy="633.2" rx="8.5" ry="9.5" fill="url(#sp)" opacity="0.79"/>
<ellipse cx="183.9" cy="645.3" rx="8.5" ry="9.5" fill="url(#sp)" opacity="0.55"/>
<ellipse cx="183.9" cy="657.4" rx="8.5" ry="9.5" fill="url(#sp)" opacity="0.73"/>
<ellipse cx="183.9" cy="669.6" rx="8.5" ry="9.5" fill="url(#sp)" opacity="0.60"/>
<ellipse cx="183.9" cy="681.4" rx="8.1" ry="10.5" fill="url(#sp)" transform="rotate(9 183.9 681.4)" opacity="0.50"/>
<ellipse cx="183.9" cy="693.2" rx="7.7" ry="11.7" fill="url(#sp)" transform="rotate(20 183.9 693.2)" opacity="0.86"/>
<ellipse cx="183.9" cy="705.1" rx="7.2" ry="12.9" fill="url(#sp)" transform="rotate(30 183.9 705.1)" opacity="0.71"/>
<ellipse cx="183.9" cy="717.0" rx="7.0" ry="13.5" fill="url(#sp)" transform="rotate(35 183.9 717.0)" opacity="0.74"/>
<rect x="194.0" y="489" width="10" height="188.0" fill="#8a8a8a" opacity="0.25" rx="5"/>
<ellipse cx="199.0" cy="487.8" rx="8.5" ry="9.5" fill="url(#sp)" opacity="0.61"/>
<ellipse cx="199.0" cy="499.9" rx="8.5" ry="9.5" fill="url(#sp)" opacity="0.54"/>
<ellipse cx="199.0" cy="512.0" rx="8.5" ry="9.5" fill="url(#sp)" opacity="0.82"/>
<ellipse cx="199.0" cy="524.1" rx="8.5" ry="9.5" fill="url(#sp)" opacity="0.60"/>
<ellipse cx="199.0" cy="536.2" rx="8.5" ry="9.5" fill="url(#sp)" opacity="0.78"/>
<ellipse cx="199.0" cy="548.4" rx="8.5" ry="9.5" fill="url(#sp)" opacity="0.62"/>
<ellipse cx="199.0" cy="560.5" rx="8.5" ry="9.5" fill="url(#sp)" opacity="0.48"/>
<ellipse cx="199.0" cy="572.6" rx="8.5" ry="9.5" fill="url(#sp)" opacity="0.70"/>
<ellipse cx="199.0" cy="584.7" rx="8.5" ry="9.5" fill="url(#sp)" opacity="0.65"/>
<ellipse cx="199.0" cy="596.8" rx="8.5" ry="9.5" fill="url(#sp)" opacity="0.83"/>
<ellipse cx="199.0" cy="609.0" rx="8.5" ry="9.5" fill="url(#sp)" opacity="0.55"/>
<ellipse cx="199.0" cy="621.1" rx="8.5" ry="9.5" fill="url(#sp)" opacity="0.54"/>
<ellipse cx="199.0" cy="633.2" rx="8.5" ry="9.5" fill="url(#sp)" opacity="0.80"/>
<ellipse cx="199.0" cy="645.3" rx="8.5" ry="9.5" fill="url(#sp)" opacity="0.60"/>
<ellipse cx="199.0" cy="657.4" rx="8.5" ry="9.5" fill="url(#sp)" opacity="0.72"/>
<ellipse cx="199.0" cy="669.6" rx="8.5" ry="9.5" fill="url(#sp)" opacity="0.56"/>
<ellipse cx="199.5" cy="683.1" rx="8.1" ry="10.5" fill="url(#sp)" transform="rotate(10 199.5 683.1)" opacity="0.55"/>
<ellipse cx="200.1" cy="697.1" rx="7.7" ry="11.7" fill="url(#sp)" transform="rotate(22 200.1 697.1)" opacity="0.85"/>
<ellipse cx="200.7" cy="711.0" rx="7.2" ry="12.9" fill="url(#sp)" transform="rotate(34 200.7 711.0)" opacity="0.65"/>
<ellipse cx="201.0" cy="724.0" rx="7.0" ry="13.5" fill="url(#sp)" transform="rotate(40 201.0 724.0)" opacity="0.80"/>
<rect x="209.2" y="489" width="10" height="188.5" fill="#8a8a8a" opacity="0.25" rx="5"/>
<ellipse cx="214.2" cy="487.8" rx="8.5" ry="9.5" fill="url(#sp)" opacity="0.63"/>
<ellipse cx="214.2" cy="499.9" rx="8.5" ry="9.5" fill="url(#sp)" opacity="0.48"/>
<ellipse cx="214.2" cy="512.0" rx="8.5" ry="9.5" fill="url(#sp)" opacity="0.80"/>
<ellipse cx="214.2" cy="524.1" rx="8.5" ry="9.5" fill="url(#sp)" opacity="0.66"/>
<ellipse cx="214.2" cy="536.2" rx="8.5" ry="9.5" fill="url(#sp)" opacity="0.71"/>
<ellipse cx="214.2" cy="548.4" rx="8.5" ry="9.5" fill="url(#sp)" opacity="0.55"/>
<ellipse cx="214.2" cy="560.5" rx="8.5" ry="9.5" fill="url(#sp)" opacity="0.59"/>
<ellipse cx="214.2" cy="572.6" rx="8.5" ry="9.5" fill="url(#sp)" opacity="0.73"/>
<ellipse cx="214.2" cy="584.7" rx="8.5" ry="9.5" fill="url(#sp)" opacity="0.58"/>
<ellipse cx="214.2" cy="596.8" rx="8.5" ry="9.5" fill="url(#sp)" opacity="0.73"/>
<ellipse cx="214.2" cy="609.0" rx="8.5" ry="9.5" fill="url(#sp)" opacity="0.62"/>
<ellipse cx="214.2" cy="621.1" rx="8.5" ry="9.5" fill="url(#sp)" opacity="0.49"/>
<ellipse cx="214.2" cy="633.2" rx="8.5" ry="9.5" fill="url(#sp)" opacity="0.75"/>
<ellipse cx="214.2" cy="645.3" rx="8.5" ry="9.5" fill="url(#sp)" opacity="0.60"/>
<ellipse cx="214.2" cy="657.4" rx="8.5" ry="9.5" fill="url(#sp)" opacity="0.81"/>
<ellipse cx="214.2" cy="669.6" rx="8.5" ry="9.5" fill="url(#sp)" opacity="0.58"/>
<ellipse cx="214.2" cy="681.5" rx="8.2" ry="10.4" fill="url(#sp)" transform="rotate(8 214.2 681.5)" opacity="0.61"/>
<ellipse cx="214.2" cy="693.3" rx="7.7" ry="11.6" fill="url(#sp)" transform="rotate(19 214.2 693.3)" opacity="0.76"/>
<ellipse cx="214.2" cy="705.1" rx="7.2" ry="12.8" fill="url(#sp)" transform="rotate(29 214.2 705.1)" opacity="0.66"/>
<ellipse cx="214.2" cy="717.0" rx="7.0" ry="13.5" fill="url(#sp)" transform="rotate(35 214.2 717.0)" opacity="0.86"/>
<rect x="224.3" y="489" width="10" height="189.1" fill="#8a8a8a" opacity="0.25" rx="5"/>
<ellipse cx="229.3" cy="487.8" rx="8.5" ry="9.5" fill="url(#sp)" opacity="0.64"/>
<ellipse cx="229.3" cy="499.9" rx="8.5" ry="9.5" fill="url(#sp)" opacity="0.54"/>
<ellipse cx="229.3" cy="512.0" rx="8.5" ry="9.5" fill="url(#sp)" opacity="0.73"/>
<ellipse cx="229.3" cy="524.1" rx="8.5" ry="9.5" fill="url(#sp)" opacity="0.57"/>
<ellipse cx="229.3" cy="536.2" rx="8.5" ry="9.5" fill="url(#sp)" opacity="0.75"/>
<ellipse cx="229.3" cy="548.4" rx="8.5" ry="9.5" fill="url(#sp)" opacity="0.54"/>
<ellipse cx="229.3" cy="560.5" rx="8.5" ry="9.5" fill="url(#sp)" opacity="0.59"/>
<ellipse cx="229.3" cy="572.6" rx="8.5" ry="9.5" fill="url(#sp)" opacity="0.85"/>
<ellipse cx="229.3" cy="584.7" rx="8.5" ry="9.5" fill="url(#sp)" opacity="0.58"/>
<ellipse cx="229.3" cy="596.8" rx="8.5" ry="9.5" fill="url(#sp)" opacity="0.70"/>
<ellipse cx="229.3" cy="609.0" rx="8.5" ry="9.5" fill="url(#sp)" opacity="0.63"/>
<ellipse cx="229.3" cy="621.1" rx="8.5" ry="9.5" fill="url(#sp)" opacity="0.57"/>
<ellipse cx="229.3" cy="633.2" rx="8.5" ry="9.5" fill="url(#sp)" opacity="0.84"/>
<ellipse cx="229.3" cy="645.3" rx="8.5" ry="9.5" fill="url(#sp)" opacity="0.60"/>
<ellipse cx="229.3" cy="657.4" rx="8.5" ry="9.5" fill="url(#sp)" opacity="0.68"/>
<ellipse cx="229.3" cy="669.6" rx="8.5" ry="9.5" fill="url(#sp)" opacity="0.56"/>
<ellipse cx="229.7" cy="683.0" rx="8.2" ry="10.4" fill="url(#sp)" transform="rotate(9 229.7 683.0)" opacity="0.60"/>
<ellipse cx="230.3" cy="696.9" rx="7.7" ry="11.6" fill="url(#sp)" transform="rotate(21 230.3 696.9)" opacity="0.78"/>
<ellipse cx="230.9" cy="710.8" rx="7.3" ry="12.8" fill="url(#sp)" transform="rotate(33 230.9 710.8)" opacity="0.66"/>
<ellipse cx="231.3" cy="724.0" rx="7.0" ry="13.5" fill="url(#sp)" transform="rotate(40 231.3 724.0)" opacity="0.81"/>
<rect x="239.4" y="489" width="10" height="189.7" fill="#8a8a8a" opacity="0.25" rx="5"/>
<ellipse cx="244.4" cy="487.8" rx="8.5" ry="9.5" fill="url(#sp)" opacity="0.58"/>
<ellipse cx="244.4" cy="499.9" rx="8.5" ry="9.5" fill="url(#sp)" opacity="0.54"/>
<ellipse cx="244.4" cy="512.0" rx="8.5" ry="9.5" fill="url(#sp)" opacity="0.86"/>
<ellipse cx="244.4" cy="524.1" rx="8.5" ry="9.5" fill="url(#sp)" opacity="0.57"/>
<ellipse cx="244.4" cy="536.2" rx="8.5" ry="9.5" fill="url(#sp)" opacity="0.65"/>
<ellipse cx="244.4" cy="548.4" rx="8.5" ry="9.5" fill="url(#sp)" opacity="0.65"/>
<ellipse cx="244.4" cy="560.5" rx="8.5" ry="9.5" fill="url(#sp)" opacity="0.60"/>
<ellipse cx="244.4" cy="572.6" rx="8.5" ry="9.5" fill="url(#sp)" opacity="0.88"/>
<ellipse cx="244.4" cy="584.7" rx="8.5" ry="9.5" fill="url(#sp)" opacity="0.62"/>
<ellipse cx="244.4" cy="596.8" rx="8.5" ry="9.5" fill="url(#sp)" opacity="0.83"/>
<ellipse cx="244.4" cy="609.0" rx="8.5" ry="9.5" fill="url(#sp)" opacity="0.65"/>
<ellipse cx="244.4" cy="621.1" rx="8.5" ry="9.5" fill="url(#sp)" opacity="0.51"/>
<ellipse cx="244.4" cy="633.2" rx="8.5" ry="9.5" fill="url(#sp)" opacity="0.83"/>
<ellipse cx="244.4" cy="645.3" rx="8.5" ry="9.5" fill="url(#sp)" opacity="0.68"/>
<ellipse cx="244.4" cy="657.4" rx="8.5" ry="9.5" fill="url(#sp)" opacity="0.77"/>
<ellipse cx="244.4" cy="669.6" rx="8.5" ry="9.5" fill="url(#sp)" opacity="0.59"/>
<ellipse cx="244.4" cy="681.5" rx="8.2" ry="10.3" fill="url(#sp)" transform="rotate(7 244.4 681.5)" opacity="0.53"/>
<ellipse cx="244.4" cy="693.3" rx="7.7" ry="11.5" fill="url(#sp)" transform="rotate(18 244.4 693.3)" opacity="0.80"/>
<ellipse cx="244.4" cy="705.1" rx="7.3" ry="12.7" fill="url(#sp)" transform="rotate(28 244.4 705.1)" opacity="0.64"/>
<ellipse cx="244.4" cy="717.0" rx="7.0" ry="13.5" fill="url(#sp)" transform="rotate(35 244.4 717.0)" opacity="0.74"/>
<rect x="254.5" y="489" width="10" height="190.2" fill="#8a8a8a" opacity="0.25" rx="5"/>
<ellipse cx="259.5" cy="487.8" rx="8.5" ry="9.5" fill="url(#sp)" opacity="0.60"/>
<ellipse cx="259.5" cy="499.9" rx="8.5" ry="9.5" fill="url(#sp)" opacity="0.52"/>
<ellipse cx="259.5" cy="512.0" rx="8.5" ry="9.5" fill="url(#sp)" opacity="0.84"/>
<ellipse cx="259.5" cy="524.1" rx="8.5" ry="9.5" fill="url(#sp)" opacity="0.56"/>
<ellipse cx="259.5" cy="536.2" rx="8.5" ry="9.5" fill="url(#sp)" opacity="0.82"/>
<ellipse cx="259.5" cy="548.4" rx="8.5" ry="9.5" fill="url(#sp)" opacity="0.62"/>
<ellipse cx="259.5" cy="560.5" rx="8.5" ry="9.5" fill="url(#sp)" opacity="0.61"/>
<ellipse cx="259.5" cy="572.6" rx="8.5" ry="9.5" fill="url(#sp)" opacity="0.86"/>
<ellipse cx="259.5" cy="584.7" rx="8.5" ry="9.5" fill="url(#sp)" opacity="0.69"/>
<ellipse cx="259.5" cy="596.8" rx="8.5" ry="9.5" fill="url(#sp)" opacity="0.76"/>
<ellipse cx="259.5" cy="609.0" rx="8.5" ry="9.5" fill="url(#sp)" opacity="0.52"/>
<ellipse cx="259.5" cy="621.1" rx="8.5" ry="9.5" fill="url(#sp)" opacity="0.58"/>
<ellipse cx="259.5" cy="633.2" rx="8.5" ry="9.5" fill="url(#sp)" opacity="0.72"/>
<ellipse cx="259.5" cy="645.3" rx="8.5" ry="9.5" fill="url(#sp)" opacity="0.60"/>
<ellipse cx="259.5" cy="657.4" rx="8.5" ry="9.5" fill="url(#sp)" opacity="0.77"/>
<ellipse cx="259.5" cy="669.6" rx="8.5" ry="9.5" fill="url(#sp)" opacity="0.59"/>
<ellipse cx="259.9" cy="682.8" rx="8.2" ry="10.2" fill="url(#sp)" transform="rotate(7 259.9 682.8)" opacity="0.55"/>
<ellipse cx="260.5" cy="696.7" rx="7.8" ry="11.5" fill="url(#sp)" transform="rotate(20 260.5 696.7)" opacity="0.92"/>
<ellipse cx="261.1" cy="710.7" rx="7.3" ry="12.7" fill="url(#sp)" transform="rotate(32 261.1 710.7)" opacity="0.70"/>
<ellipse cx="261.5" cy="724.0" rx="7.0" ry="13.5" fill="url(#sp)" transform="rotate(40 261.5 724.0)" opacity="0.80"/>
<rect x="269.6" y="489" width="10" height="190.8" fill="#8a8a8a" opacity="0.25" rx="5"/>
<ellipse cx="274.6" cy="487.8" rx="8.5" ry="9.5" fill="url(#sp)" opacity="0.55"/>
<ellipse cx="274.6" cy="499.9" rx="8.5" ry="9.5" fill="url(#sp)" opacity="0.60"/>
<ellipse cx="274.6" cy="512.0" rx="8.5" ry="9.5" fill="url(#sp)" opacity="0.78"/>
<ellipse cx="274.6" cy="524.1" rx="8.5" ry="9.5" fill="url(#sp)" opacity="0.67"/>
<ellipse cx="274.6" cy="536.2" rx="8.5" ry="9.5" fill="url(#sp)" opacity="0.72"/>
<ellipse cx="274.6" cy="548.4" rx="8.5" ry="9.5" fill="url(#sp)" opacity="0.54"/>
<ellipse cx="274.6" cy="560.5" rx="8.5" ry="9.5" fill="url(#sp)" opacity="0.55"/>
<ellipse cx="274.6" cy="572.6" rx="8.5" ry="9.5" fill="url(#sp)" opacity="0.84"/>
<ellipse cx="274.6" cy="584.7" rx="8.5" ry="9.5" fill="url(#sp)" opacity="0.58"/>
<ellipse cx="274.6" cy="596.8" rx="8.5" ry="9.5" fill="url(#sp)" opacity="0.80"/>
<ellipse cx="274.6" cy="609.0" rx="8.5" ry="9.5" fill="url(#sp)" opacity="0.65"/>
<ellipse cx="274.6" cy="621.1" rx="8.5" ry="9.5" fill="url(#sp)" opacity="0.59"/>
<ellipse cx="274.6" cy="633.2" rx="8.5" ry="9.5" fill="url(#sp)" opacity="0.85"/>
<ellipse cx="274.6" cy="645.3" rx="8.5" ry="9.5" fill="url(#sp)" opacity="0.55"/>
<ellipse cx="274.6" cy="657.4" rx="8.5" ry="9.5" fill="url(#sp)" opacity="0.77"/>
<ellipse cx="274.6" cy="669.6" rx="8.5" ry="9.5" fill="url(#sp)" opacity="0.64"/>
<ellipse cx="274.6" cy="681.5" rx="8.2" ry="10.2" fill="url(#sp)" transform="rotate(6 274.6 681.5)" opacity="0.50"/>
<ellipse cx="274.6" cy="693.3" rx="7.8" ry="11.4" fill="url(#sp)" transform="rotate(17 274.6 693.3)" opacity="0.78"/>
<ellipse cx="274.6" cy="705.1" rx="7.3" ry="12.6" fill="url(#sp)" transform="rotate(27 274.6 705.1)" opacity="0.64"/>
<ellipse cx="274.6" cy="717.0" rx="7.0" ry="13.5" fill="url(#sp)" transform="rotate(35 274.6 717.0)" opacity="0.83"/>
<rect x="284.8" y="489" width="10" height="191.3" fill="#8a8a8a" opacity="0.25" rx="5"/>
<ellipse cx="289.8" cy="487.8" rx="8.5" ry="9.5" fill="url(#sp)" opacity="0.58"/>
<ellipse cx="289.8" cy="499.9" rx="8.5" ry="9.5" fill="url(#sp)" opacity="0.54"/>
<ellipse cx="289.8" cy="512.0" rx="8.5" ry="9.5" fill="url(#sp)" opacity="0.84"/>
<ellipse cx="289.8" cy="524.1" rx="8.5" ry="9.5" fill="url(#sp)" opacity="0.55"/>
<ellipse cx="289.8" cy="536.2" rx="8.5" ry="9.5" fill="url(#sp)" opacity="0.66"/>
<ellipse cx="289.8" cy="548.4" rx="8.5" ry="9.5" fill="url(#sp)" opacity="0.53"/>
<ellipse cx="289.8" cy="560.5" rx="8.5" ry="9.5" fill="url(#sp)" opacity="0.50"/>
<ellipse cx="289.8" cy="572.6" rx="8.5" ry="9.5" fill="url(#sp)" opacity="0.70"/>
<ellipse cx="289.8" cy="584.7" rx="8.5" ry="9.5" fill="url(#sp)" opacity="0.70"/>
<ellipse cx="289.8" cy="596.8" rx="8.5" ry="9.5" fill="url(#sp)" opacity="0.81"/>
<ellipse cx="289.8" cy="609.0" rx="8.5" ry="9.5" fill="url(#sp)" opacity="0.53"/>
<ellipse cx="289.8" cy="621.1" rx="8.5" ry="9.5" fill="url(#sp)" opacity="0.55"/>
<ellipse cx="289.8" cy="633.2" rx="8.5" ry="9.5" fill="url(#sp)" opacity="0.75"/>
<ellipse cx="289.8" cy="645.3" rx="8.5" ry="9.5" fill="url(#sp)" opacity="0.60"/>
<ellipse cx="289.8" cy="657.4" rx="8.5" ry="9.5" fill="url(#sp)" opacity="0.72"/>
<ellipse cx="289.8" cy="669.6" rx="8.5" ry="9.5" fill="url(#sp)" opacity="0.61"/>
<ellipse cx="290.1" cy="682.6" rx="8.3" ry="10.1" fill="url(#sp)" transform="rotate(6 290.1 682.6)" opacity="0.57"/>
<ellipse cx="290.7" cy="696.6" rx="7.8" ry="11.3" fill="url(#sp)" transform="rotate(18 290.7 696.6)" opacity="0.80"/>
<ellipse cx="291.3" cy="710.5" rx="7.4" ry="12.6" fill="url(#sp)" transform="rotate(31 291.3 710.5)" opacity="0.63"/>
<ellipse cx="291.8" cy="724.0" rx="7.0" ry="13.5" fill="url(#sp)" transform="rotate(40 291.8 724.0)" opacity="0.79"/>
<rect x="299.9" y="489" width="10" height="191.9" fill="#8a8a8a" opacity="0.25" rx="5"/>
<ellipse cx="304.9" cy="487.8" rx="8.5" ry="9.5" fill="url(#sp)" opacity="0.53"/>
<ellipse cx="304.9" cy="499.9" rx="8.5" ry="9.5" fill="url(#sp)" opacity="0.56"/>
<ellipse cx="304.9" cy="512.0" rx="8.5" ry="9.5" fill="url(#sp)" opacity="0.83"/>
<ellipse cx="304.9" cy="524.1" rx="8.5" ry="9.5" fill="url(#sp)" opacity="0.61"/>
<ellipse cx="304.9" cy="536.2" rx="8.5" ry="9.5" fill="url(#sp)" opacity="0.67"/>
<ellipse cx="304.9" cy="548.4" rx="8.5" ry="9.5" fill="url(#sp)" opacity="0.54"/>
<ellipse cx="304.9" cy="560.5" rx="8.5" ry="9.5" fill="url(#sp)" opacity="0.53"/>
<ellipse cx="304.9" cy="572.6" rx="8.5" ry="9.5" fill="url(#sp)" opacity="0.80"/>
<ellipse cx="304.9" cy="584.7" rx="8.5" ry="9.5" fill="url(#sp)" opacity="0.67"/>
<ellipse cx="304.9" cy="596.8" rx="8.5" ry="9.5" fill="url(#sp)" opacity="0.72"/>
<ellipse cx="304.9" cy="609.0" rx="8.5" ry="9.5" fill="url(#sp)" opacity="0.63"/>
<ellipse cx="304.9" cy="621.1" rx="8.5" ry="9.5" fill="url(#sp)" opacity="0.56"/>
<ellipse cx="304.9" cy="633.2" rx="8.5" ry="9.5" fill="url(#sp)" opacity="0.77"/>
<ellipse cx="304.9" cy="645.3" rx="8.5" ry="9.5" fill="url(#sp)" opacity="0.61"/>
<ellipse cx="304.9" cy="657.4" rx="8.5" ry="9.5" fill="url(#sp)" opacity="0.74"/>
<ellipse cx="304.9" cy="669.6" rx="8.5" ry="9.5" fill="url(#sp)" opacity="0.62"/>
<ellipse cx="304.9" cy="681.5" rx="8.3" ry="10.1" fill="url(#sp)" transform="rotate(5 304.9 681.5)" opacity="0.55"/>
<ellipse cx="304.9" cy="693.4" rx="7.8" ry="11.3" fill="url(#sp)" transform="rotate(16 304.9 693.4)" opacity="0.86"/>
<ellipse cx="304.9" cy="705.2" rx="7.4" ry="12.5" fill="url(#sp)" transform="rotate(26 304.9 705.2)" opacity="0.67"/>
<ellipse cx="304.9" cy="717.0" rx="7.0" ry="13.5" fill="url(#sp)" transform="rotate(35 304.9 717.0)" opacity="0.78"/>
<rect x="315.0" y="489" width="10" height="192.4" fill="#8a8a8a" opacity="0.25" rx="5"/>
<ellipse cx="320.0" cy="487.8" rx="8.5" ry="9.5" fill="url(#sp)" opacity="0.59"/>
<ellipse cx="320.0" cy="499.9" rx="8.5" ry="9.5" fill="url(#sp)" opacity="0.57"/>
<ellipse cx="320.0" cy="512.0" rx="8.5" ry="9.5" fill="url(#sp)" opacity="0.70"/>
<ellipse cx="320.0" cy="524.1" rx="8.5" ry="9.5" fill="url(#sp)" opacity="0.61"/>
<ellipse cx="320.0" cy="536.2" rx="8.5" ry="9.5" fill="url(#sp)" opacity="0.73"/>
<ellipse cx="320.0" cy="548.4" rx="8.5" ry="9.5" fill="url(#sp)" opacity="0.64"/>
<ellipse cx="320.0" cy="560.5" rx="8.5" ry="9.5" fill="url(#sp)" opacity="0.61"/>
<ellipse cx="320.0" cy="572.6" rx="8.5" ry="9.5" fill="url(#sp)" opacity="0.76"/>
<ellipse cx="320.0" cy="584.7" rx="8.5" ry="9.5" fill="url(#sp)" opacity="0.69"/>
<ellipse cx="320.0" cy="596.8" rx="8.5" ry="9.5" fill="url(#sp)" opacity="0.80"/>
<ellipse cx="320.0" cy="609.0" rx="8.5" ry="9.5" fill="url(#sp)" opacity="0.55"/>
<ellipse cx="320.0" cy="621.1" rx="8.5" ry="9.5" fill="url(#sp)" opacity="0.54"/>
<ellipse cx="320.0" cy="633.2" rx="8.5" ry="9.5" fill="url(#sp)" opacity="0.71"/>
<ellipse cx="320.0" cy="645.3" rx="8.5" ry="9.5" fill="url(#sp)" opacity="0.68"/>
<ellipse cx="320.0" cy="657.4" rx="8.5" ry="9.5" fill="url(#sp)" opacity="0.77"/>
<ellipse cx="320.0" cy="669.6" rx="8.5" ry="9.5" fill="url(#sp)" opacity="0.64"/>
<ellipse cx="320.3" cy="682.5" rx="8.3" ry="10.0" fill="url(#sp)" transform="rotate(5 320.3 682.5)" opacity="0.60"/>
<ellipse cx="320.9" cy="696.4" rx="7.8" ry="11.2" fill="url(#sp)" transform="rotate(17 320.9 696.4)" opacity="0.86"/>
<ellipse cx="321.5" cy="710.3" rx="7.4" ry="12.5" fill="url(#sp)" transform="rotate(30 321.5 710.3)" opacity="0.72"/>
<ellipse cx="322.0" cy="724.0" rx="7.0" ry="13.5" fill="url(#sp)" transform="rotate(40 322.0 724.0)" opacity="0.84"/>
<rect x="330.1" y="489" width="10" height="193.0" fill="#8a8a8a" opacity="0.25" rx="5"/>
<ellipse cx="335.1" cy="487.8" rx="8.5" ry="9.5" fill="url(#sp)" opacity="0.53"/>
<ellipse cx="335.1" cy="499.9" rx="8.5" ry="9.5" fill="url(#sp)" opacity="0.56"/>
<ellipse cx="335.1" cy="512.0" rx="8.5" ry="9.5" fill="url(#sp)" opacity="0.69"/>
<ellipse cx="335.1" cy="524.1" rx="8.5" ry="9.5" fill="url(#sp)" opacity="0.57"/>
<ellipse cx="335.1" cy="536.2" rx="8.5" ry="9.5" fill="url(#sp)" opacity="0.79"/>
<ellipse cx="335.1" cy="548.4" rx="8.5" ry="9.5" fill="url(#sp)" opacity="0.52"/>
<ellipse cx="335.1" cy="560.5" rx="8.5" ry="9.5" fill="url(#sp)" opacity="0.49"/>
<ellipse cx="335.1" cy="572.6" rx="8.5" ry="9.5" fill="url(#sp)" opacity="0.71"/>
<ellipse cx="335.1" cy="584.7" rx="8.5" ry="9.5" fill="url(#sp)" opacity="0.69"/>
<ellipse cx="335.1" cy="596.8" rx="8.5" ry="9.5" fill="url(#sp)" opacity="0.69"/>
<ellipse cx="335.1" cy="609.0" rx="8.5" ry="9.5" fill="url(#sp)" opacity="0.52"/>
<ellipse cx="335.1" cy="621.1" rx="8.5" ry="9.5" fill="url(#sp)" opacity="0.59"/>
<ellipse cx="335.1" cy="633.2" rx="8.5" ry="9.5" fill="url(#sp)" opacity="0.71"/>
<ellipse cx="335.1" cy="645.3" rx="8.5" ry="9.5" fill="url(#sp)" opacity="0.68"/>
<ellipse cx="335.1" cy="657.4" rx="8.5" ry="9.5" fill="url(#sp)" opacity="0.78"/>
<ellipse cx="335.1" cy="669.6" rx="8.5" ry="9.5" fill="url(#sp)" opacity="0.64"/>
<ellipse cx="335.1" cy="681.6" rx="8.3" ry="10.0" fill="url(#sp)" transform="rotate(4 335.1 681.6)" opacity="0.62"/>
<ellipse cx="335.1" cy="693.4" rx="7.9" ry="11.2" fill="url(#sp)" transform="rotate(15 335.1 693.4)" opacity="0.84"/>
<ellipse cx="335.1" cy="705.2" rx="7.4" ry="12.4" fill="url(#sp)" transform="rotate(25 335.1 705.2)" opacity="0.73"/>
<ellipse cx="335.1" cy="717.0" rx="7.0" ry="13.5" fill="url(#sp)" transform="rotate(35 335.1 717.0)" opacity="0.73"/>
<rect x="345.2" y="489" width="10" height="193.5" fill="#8a8a8a" opacity="0.25" rx="5"/>
<ellipse cx="350.2" cy="487.8" rx="8.5" ry="9.5" fill="url(#sp)" opacity="0.63"/>
<ellipse cx="350.2" cy="499.9" rx="8.5" ry="9.5" fill="url(#sp)" opacity="0.55"/>
<ellipse cx="350.2" cy="512.0" rx="8.5" ry="9.5" fill="url(#sp)" opacity="0.82"/>
<ellipse cx="350.2" cy="524.1" rx="8.5" ry="9.5" fill="url(#sp)" opacity="0.57"/>
<ellipse cx="350.2" cy="536.2" rx="8.5" ry="9.5" fill="url(#sp)" opacity="0.79"/>
<ellipse cx="350.2" cy="548.4" rx="8.5" ry="9.5" fill="url(#sp)" opacity="0.65"/>
<ellipse cx="350.2" cy="560.5" rx="8.5" ry="9.5" fill="url(#sp)" opacity="0.49"/>
<ellipse cx="350.2" cy="572.6" rx="8.5" ry="9.5" fill="url(#sp)" opacity="0.75"/>
<ellipse cx="350.2" cy="584.7" rx="8.5" ry="9.5" fill="url(#sp)" opacity="0.64"/>
<ellipse cx="350.2" cy="596.8" rx="8.5" ry="9.5" fill="url(#sp)" opacity="0.80"/>
<ellipse cx="350.2" cy="609.0" rx="8.5" ry="9.5" fill="url(#sp)" opacity="0.55"/>
<ellipse cx="350.2" cy="621.1" rx="8.5" ry="9.5" fill="url(#sp)" opacity="0.50"/>
<ellipse cx="350.2" cy="633.2" rx="8.5" ry="9.5" fill="url(#sp)" opacity="0.73"/>
<ellipse cx="350.2" cy="645.3" rx="8.5" ry="9.5" fill="url(#sp)" opacity="0.64"/>
<ellipse cx="350.2" cy="657.4" rx="8.5" ry="9.5" fill="url(#sp)" opacity="0.79"/>
<ellipse cx="350.2" cy="669.6" rx="8.5" ry="9.5" fill="url(#sp)" opacity="0.57"/>
<ellipse cx="350.4" cy="682.3" rx="8.3" ry="9.9" fill="url(#sp)" transform="rotate(4 350.4 682.3)" opacity="0.54"/>
<ellipse cx="351.1" cy="696.2" rx="7.9" ry="11.1" fill="url(#sp)" transform="rotate(16 351.1 696.2)" opacity="0.80"/>
<ellipse cx="351.7" cy="710.2" rx="7.4" ry="12.3" fill="url(#sp)" transform="rotate(28 351.7 710.2)" opacity="0.65"/>
<ellipse cx="352.2" cy="724.0" rx="7.0" ry="13.5" fill="url(#sp)" transform="rotate(40 352.2 724.0)" opacity="0.81"/>
<ellipse cx="352.2" cy="736.2" rx="7.0" ry="13.5" fill="url(#sp)" transform="rotate(40 352.2 736.2)" opacity="0.59"/>
<rect x="360.4" y="489" width="10" height="194.1" fill="#8a8a8a" opacity="0.25" rx="5"/>
<ellipse cx="365.4" cy="487.8" rx="8.5" ry="9.5" fill="url(#sp)" opacity="0.59"/>
<ellipse cx="365.4" cy="499.9" rx="8.5" ry="9.5" fill="url(#sp)" opacity="0.61"/>
<ellipse cx="365.4" cy="512.0" rx="8.5" ry="9.5" fill="url(#sp)" opacity="0.77"/>
<ellipse cx="365.4" cy="524.1" rx="8.5" ry="9.5" fill="url(#sp)" opacity="0.66"/>
<ellipse cx="365.4" cy="536.2" rx="8.5" ry="9.5" fill="url(#sp)" opacity="0.68"/>
<ellipse cx="365.4" cy="548.4" rx="8.5" ry="9.5" fill="url(#sp)" opacity="0.62"/>
<ellipse cx="365.4" cy="560.5" rx="8.5" ry="9.5" fill="url(#sp)" opacity="0.58"/>
<ellipse cx="365.4" cy="572.6" rx="8.5" ry="9.5" fill="url(#sp)" opacity="0.82"/>
<ellipse cx="365.4" cy="584.7" rx="8.5" ry="9.5" fill="url(#sp)" opacity="0.63"/>
<ellipse cx="365.4" cy="596.8" rx="8.5" ry="9.5" fill="url(#sp)" opacity="0.74"/>
<ellipse cx="365.4" cy="609.0" rx="8.5" ry="9.5" fill="url(#sp)" opacity="0.61"/>
<ellipse cx="365.4" cy="621.1" rx="8.5" ry="9.5" fill="url(#sp)" opacity="0.60"/>
<ellipse cx="365.4" cy="633.2" rx="8.5" ry="9.5" fill="url(#sp)" opacity="0.72"/>
<ellipse cx="365.4" cy="645.3" rx="8.5" ry="9.5" fill="url(#sp)" opacity="0.56"/>
<ellipse cx="365.4" cy="657.4" rx="8.5" ry="9.5" fill="url(#sp)" opacity="0.79"/>
<ellipse cx="365.4" cy="669.6" rx="8.5" ry="9.5" fill="url(#sp)" opacity="0.65"/>
<ellipse cx="365.4" cy="681.6" rx="8.4" ry="9.9" fill="url(#sp)" transform="rotate(3 365.4 681.6)" opacity="0.56"/>
<ellipse cx="365.4" cy="693.4" rx="7.9" ry="11.1" fill="url(#sp)" transform="rotate(14 365.4 693.4)" opacity="0.81"/>
<ellipse cx="365.4" cy="705.2" rx="7.5" ry="12.3" fill="url(#sp)" transform="rotate(24 365.4 705.2)" opacity="0.71"/>
<ellipse cx="365.4" cy="717.0" rx="7.0" ry="13.5" fill="url(#sp)" transform="rotate(35 365.4 717.0)" opacity="0.76"/>
<ellipse cx="365.4" cy="729.2" rx="7.0" ry="13.5" fill="url(#sp)" transform="rotate(35 365.4 729.2)" opacity="0.62"/>
<rect x="375.5" y="489" width="10" height="194.6" fill="#8a8a8a" opacity="0.25" rx="5"/>
<ellipse cx="380.5" cy="487.8" rx="8.5" ry="9.5" fill="url(#sp)" opacity="0.54"/>
<ellipse cx="380.5" cy="499.9" rx="8.5" ry="9.5" fill="url(#sp)" opacity="0.56"/>
<ellipse cx="380.5" cy="512.0" rx="8.5" ry="9.5" fill="url(#sp)" opacity="0.75"/>
<ellipse cx="380.5" cy="524.1" rx="8.5" ry="9.5" fill="url(#sp)" opacity="0.59"/>
<ellipse cx="380.5" cy="536.2" rx="8.5" ry="9.5" fill="url(#sp)" opacity="0.78"/>
<ellipse cx="380.5" cy="548.4" rx="8.5" ry="9.5" fill="url(#sp)" opacity="0.65"/>
<ellipse cx="380.5" cy="560.5" rx="8.5" ry="9.5" fill="url(#sp)" opacity="0.52"/>
<ellipse cx="380.5" cy="572.6" rx="8.5" ry="9.5" fill="url(#sp)" opacity="0.82"/>
<ellipse cx="380.5" cy="584.7" rx="8.5" ry="9.5" fill="url(#sp)" opacity="0.61"/>
<ellipse cx="380.5" cy="596.8" rx="8.5" ry="9.5" fill="url(#sp)" opacity="0.81"/>
<ellipse cx="380.5" cy="609.0" rx="8.5" ry="9.5" fill="url(#sp)" opacity="0.60"/>
<ellipse cx="380.5" cy="621.1" rx="8.5" ry="9.5" fill="url(#sp)" opacity="0.52"/>
<ellipse cx="380.5" cy="633.2" rx="8.5" ry="9.5" fill="url(#sp)" opacity="0.73"/>
<ellipse cx="380.5" cy="645.3" rx="8.5" ry="9.5" fill="url(#sp)" opacity="0.55"/>
<ellipse cx="380.5" cy="657.4" rx="8.5" ry="9.5" fill="url(#sp)" opacity="0.74"/>
<ellipse cx="380.5" cy="669.6" rx="8.5" ry="9.5" fill="url(#sp)" opacity="0.57"/>
<ellipse cx="380.6" cy="682.1" rx="8.4" ry="9.8" fill="url(#sp)" transform="rotate(3 380.6 682.1)" opacity="0.51"/>
<ellipse cx="381.2" cy="696.1" rx="7.9" ry="11.0" fill="url(#sp)" transform="rotate(15 381.2 696.1)" opacity="0.79"/>
<ellipse cx="381.8" cy="710.0" rx="7.5" ry="12.2" fill="url(#sp)" transform="rotate(27 381.8 710.0)" opacity="0.65"/>
<ellipse cx="382.5" cy="724.0" rx="7.0" ry="13.4" fill="url(#sp)" transform="rotate(39 382.5 724.0)" opacity="0.88"/>
<ellipse cx="382.5" cy="736.2" rx="7.0" ry="13.5" fill="url(#sp)" transform="rotate(40 382.5 736.2)" opacity="0.60"/>
<rect x="390.6" y="489" width="10" height="195.2" fill="#8a8a8a" opacity="0.25" rx="5"/>
<ellipse cx="395.6" cy="487.8" rx="8.5" ry="9.5" fill="url(#sp)" opacity="0.66"/>
<ellipse cx="395.6" cy="499.9" rx="8.5" ry="9.5" fill="url(#sp)" opacity="0.55"/>
<ellipse cx="395.6" cy="512.0" rx="8.5" ry="9.5" fill="url(#sp)" opacity="0.80"/>
<ellipse cx="395.6" cy="524.1" rx="8.5" ry="9.5" fill="url(#sp)" opacity="0.62"/>
<ellipse cx="395.6" cy="536.2" rx="8.5" ry="9.5" fill="url(#sp)" opacity="0.81"/>
<ellipse cx="395.6" cy="548.4" rx="8.5" ry="9.5" fill="url(#sp)" opacity="0.63"/>
<ellipse cx="395.6" cy="560.5" rx="8.5" ry="9.5" fill="url(#sp)" opacity="0.56"/>
<ellipse cx="395.6" cy="572.6" rx="8.5" ry="9.5" fill="url(#sp)" opacity="0.78"/>
<ellipse cx="395.6" cy="584.7" rx="8.5" ry="9.5" fill="url(#sp)" opacity="0.66"/>
<ellipse cx="395.6" cy="596.8" rx="8.5" ry="9.5" fill="url(#sp)" opacity="0.81"/>
<ellipse cx="395.6" cy="609.0" rx="8.5" ry="9.5" fill="url(#sp)" opacity="0.57"/>
<ellipse cx="395.6" cy="621.1" rx="8.5" ry="9.5" fill="url(#sp)" opacity="0.58"/>
<ellipse cx="395.6" cy="633.2" rx="8.5" ry="9.5" fill="url(#sp)" opacity="0.87"/>
<ellipse cx="395.6" cy="645.3" rx="8.5" ry="9.5" fill="url(#sp)" opacity="0.62"/>
<ellipse cx="395.6" cy="657.4" rx="8.5" ry="9.5" fill="url(#sp)" opacity="0.69"/>
<ellipse cx="395.6" cy="669.6" rx="8.5" ry="9.5" fill="url(#sp)" opacity="0.55"/>
<ellipse cx="395.6" cy="681.6" rx="8.4" ry="9.8" fill="url(#sp)" transform="rotate(2 395.6 681.6)" opacity="0.58"/>
<ellipse cx="395.6" cy="693.4" rx="8.0" ry="11.0" fill="url(#sp)" transform="rotate(13 395.6 693.4)" opacity="0.85"/>
<ellipse cx="395.6" cy="705.3" rx="7.5" ry="12.2" fill="url(#sp)" transform="rotate(23 395.6 705.3)" opacity="0.75"/>
<ellipse cx="395.6" cy="717.1" rx="7.0" ry="13.4" fill="url(#sp)" transform="rotate(34 395.6 717.1)" opacity="0.90"/>
<ellipse cx="395.6" cy="729.2" rx="7.0" ry="13.5" fill="url(#sp)" transform="rotate(35 395.6 729.2)" opacity="0.61"/>
<rect x="405.7" y="489" width="10" height="195.7" fill="#8a8a8a" opacity="0.25" rx="5"/>
<ellipse cx="410.7" cy="487.8" rx="8.5" ry="9.5" fill="url(#sp)" opacity="0.54"/>
<ellipse cx="410.7" cy="499.9" rx="8.5" ry="9.5" fill="url(#sp)" opacity="0.52"/>
<ellipse cx="410.7" cy="512.0" rx="8.5" ry="9.5" fill="url(#sp)" opacity="0.72"/>
<ellipse cx="410.7" cy="524.1" rx="8.5" ry="9.5" fill="url(#sp)" opacity="0.66"/>
<ellipse cx="410.7" cy="536.2" rx="8.5" ry="9.5" fill="url(#sp)" opacity="0.81"/>
<ellipse cx="410.7" cy="548.4" rx="8.5" ry="9.5" fill="url(#sp)" opacity="0.65"/>
<ellipse cx="410.7" cy="560.5" rx="8.5" ry="9.5" fill="url(#sp)" opacity="0.52"/>
<ellipse cx="410.7" cy="572.6" rx="8.5" ry="9.5" fill="url(#sp)" opacity="0.85"/>
<ellipse cx="410.7" cy="584.7" rx="8.5" ry="9.5" fill="url(#sp)" opacity="0.60"/>
<ellipse cx="410.7" cy="596.8" rx="8.5" ry="9.5" fill="url(#sp)" opacity="0.73"/>
<ellipse cx="410.7" cy="609.0" rx="8.5" ry="9.5" fill="url(#sp)" opacity="0.62"/>
<ellipse cx="410.7" cy="621.1" rx="8.5" ry="9.5" fill="url(#sp)" opacity="0.49"/>
<ellipse cx="410.7" cy="633.2" rx="8.5" ry="9.5" fill="url(#sp)" opacity="0.70"/>
<ellipse cx="410.7" cy="645.3" rx="8.5" ry="9.5" fill="url(#sp)" opacity="0.68"/>
<ellipse cx="410.7" cy="657.4" rx="8.5" ry="9.5" fill="url(#sp)" opacity="0.71"/>
<ellipse cx="410.7" cy="669.6" rx="8.5" ry="9.5" fill="url(#sp)" opacity="0.57"/>
<ellipse cx="410.8" cy="682.0" rx="8.4" ry="9.7" fill="url(#sp)" transform="rotate(2 410.8 682.0)" opacity="0.56"/>
<ellipse cx="411.4" cy="695.9" rx="8.0" ry="10.9" fill="url(#sp)" transform="rotate(14 411.4 695.9)" opacity="0.85"/>
<ellipse cx="412.0" cy="709.8" rx="7.5" ry="12.1" fill="url(#sp)" transform="rotate(26 412.0 709.8)" opacity="0.59"/>
<ellipse cx="412.6" cy="723.8" rx="7.1" ry="13.3" fill="url(#sp)" transform="rotate(38 412.6 723.8)" opacity="0.79"/>
<ellipse cx="412.7" cy="736.2" rx="7.0" ry="13.5" fill="url(#sp)" transform="rotate(40 412.7 736.2)" opacity="0.64"/>
<rect x="420.8" y="489" width="10" height="196.3" fill="#8a8a8a" opacity="0.25" rx="5"/>
<ellipse cx="425.8" cy="487.8" rx="8.5" ry="9.5" fill="url(#sp)" opacity="0.59"/>
<ellipse cx="425.8" cy="499.9" rx="8.5" ry="9.5" fill="url(#sp)" opacity="0.51"/>
<ellipse cx="425.8" cy="512.0" rx="8.5" ry="9.5" fill="url(#sp)" opacity="0.80"/>
<ellipse cx="425.8" cy="524.1" rx="8.5" ry="9.5" fill="url(#sp)" opacity="0.70"/>
<ellipse cx="425.8" cy="536.2" rx="8.5" ry="9.5" fill="url(#sp)" opacity="0.72"/>
<ellipse cx="425.8" cy="548.4" rx="8.5" ry="9.5" fill="url(#sp)" opacity="0.59"/>
<ellipse cx="425.8" cy="560.5" rx="8.5" ry="9.5" fill="url(#sp)" opacity="0.50"/>
<ellipse cx="425.8" cy="572.6" rx="8.5" ry="9.5" fill="url(#sp)" opacity="0.74"/>
<ellipse cx="425.8" cy="584.7" rx="8.5" ry="9.5" fill="url(#sp)" opacity="0.65"/>
<ellipse cx="425.8" cy="596.8" rx="8.5" ry="9.5" fill="url(#sp)" opacity="0.67"/>
<ellipse cx="425.8" cy="609.0" rx="8.5" ry="9.5" fill="url(#sp)" opacity="0.64"/>
<ellipse cx="425.8" cy="621.1" rx="8.5" ry="9.5" fill="url(#sp)" opacity="0.60"/>
<ellipse cx="425.8" cy="633.2" rx="8.5" ry="9.5" fill="url(#sp)" opacity="0.71"/>
<ellipse cx="425.8" cy="645.3" rx="8.5" ry="9.5" fill="url(#sp)" opacity="0.69"/>
<ellipse cx="425.8" cy="657.4" rx="8.5" ry="9.5" fill="url(#sp)" opacity="0.72"/>
<ellipse cx="425.8" cy="669.6" rx="8.5" ry="9.5" fill="url(#sp)" opacity="0.63"/>
<ellipse cx="425.8" cy="681.6" rx="8.4" ry="9.6" fill="url(#sp)" transform="rotate(1 425.8 681.6)" opacity="0.59"/>
<ellipse cx="425.8" cy="693.5" rx="8.0" ry="10.9" fill="url(#sp)" transform="rotate(12 425.8 693.5)" opacity="0.77"/>
<ellipse cx="425.8" cy="705.3" rx="7.5" ry="12.1" fill="url(#sp)" transform="rotate(22 425.8 705.3)" opacity="0.70"/>
<ellipse cx="425.8" cy="717.1" rx="7.1" ry="13.3" fill="url(#sp)" transform="rotate(33 425.8 717.1)" opacity="0.86"/>
<ellipse cx="425.8" cy="729.2" rx="7.0" ry="13.5" fill="url(#sp)" transform="rotate(35 425.8 729.2)" opacity="0.70"/>
<rect x="436.0" y="489" width="10" height="196.8" fill="#8a8a8a" opacity="0.25" rx="5"/>
<ellipse cx="441.0" cy="487.8" rx="8.5" ry="9.5" fill="url(#sp)" opacity="0.55"/>
<ellipse cx="441.0" cy="499.9" rx="8.5" ry="9.5" fill="url(#sp)" opacity="0.58"/>
<ellipse cx="441.0" cy="512.0" rx="8.5" ry="9.5" fill="url(#sp)" opacity="0.87"/>
<ellipse cx="441.0" cy="524.1" rx="8.5" ry="9.5" fill="url(#sp)" opacity="0.65"/>
<ellipse cx="441.0" cy="536.2" rx="8.5" ry="9.5" fill="url(#sp)" opacity="0.75"/>
<ellipse cx="441.0" cy="548.4" rx="8.5" ry="9.5" fill="url(#sp)" opacity="0.53"/>
<ellipse cx="441.0" cy="560.5" rx="8.5" ry="9.5" fill="url(#sp)" opacity="0.55"/>
<ellipse cx="441.0" cy="572.6" rx="8.5" ry="9.5" fill="url(#sp)" opacity="0.75"/>
<ellipse cx="441.0" cy="584.7" rx="8.5" ry="9.5" fill="url(#sp)" opacity="0.66"/>
<ellipse cx="441.0" cy="596.8" rx="8.5" ry="9.5" fill="url(#sp)" opacity="0.78"/>
<ellipse cx="441.0" cy="609.0" rx="8.5" ry="9.5" fill="url(#sp)" opacity="0.60"/>
<ellipse cx="441.0" cy="621.1" rx="8.5" ry="9.5" fill="url(#sp)" opacity="0.51"/>
<ellipse cx="441.0" cy="633.2" rx="8.5" ry="9.5" fill="url(#sp)" opacity="0.81"/>
<ellipse cx="441.0" cy="645.3" rx="8.5" ry="9.5" fill="url(#sp)" opacity="0.65"/>
<ellipse cx="441.0" cy="657.4" rx="8.5" ry="9.5" fill="url(#sp)" opacity="0.69"/>
<ellipse cx="441.0" cy="669.6" rx="8.5" ry="9.5" fill="url(#sp)" opacity="0.64"/>
<ellipse cx="441.0" cy="681.8" rx="8.5" ry="9.6" fill="url(#sp)" transform="rotate(1 441.0 681.8)" opacity="0.57"/>
<ellipse cx="441.6" cy="695.7" rx="8.0" ry="10.8" fill="url(#sp)" transform="rotate(13 441.6 695.7)" opacity="0.74"/>
<ellipse cx="442.2" cy="709.7" rx="7.6" ry="12.0" fill="url(#sp)" transform="rotate(25 442.2 709.7)" opacity="0.74"/>
<ellipse cx="442.8" cy="723.6" rx="7.1" ry="13.2" fill="url(#sp)" transform="rotate(37 442.8 723.6)" opacity="0.75"/>
<ellipse cx="443.0" cy="736.2" rx="7.0" ry="13.5" fill="url(#sp)" transform="rotate(40 443.0 736.2)" opacity="0.63"/>
<rect x="451.1" y="489" width="10" height="197.4" fill="#8a8a8a" opacity="0.25" rx="5"/>
<ellipse cx="456.1" cy="487.8" rx="8.5" ry="9.5" fill="url(#sp)" opacity="0.62"/>
<ellipse cx="456.1" cy="499.9" rx="8.5" ry="9.5" fill="url(#sp)" opacity="0.56"/>
<ellipse cx="456.1" cy="512.0" rx="8.5" ry="9.5" fill="url(#sp)" opacity="0.79"/>
<ellipse cx="456.1" cy="524.1" rx="8.5" ry="9.5" fill="url(#sp)" opacity="0.65"/>
<ellipse cx="456.1" cy="536.2" rx="8.5" ry="9.5" fill="url(#sp)" opacity="0.74"/>
<ellipse cx="456.1" cy="548.4" rx="8.5" ry="9.5" fill="url(#sp)" opacity="0.56"/>
<ellipse cx="456.1" cy="560.5" rx="8.5" ry="9.5" fill="url(#sp)" opacity="0.50"/>
<ellipse cx="456.1" cy="572.6" rx="8.5" ry="9.5" fill="url(#sp)" opacity="0.70"/>
<ellipse cx="456.1" cy="584.7" rx="8.5" ry="9.5" fill="url(#sp)" opacity="0.66"/>
<ellipse cx="456.1" cy="596.8" rx="8.5" ry="9.5" fill="url(#sp)" opacity="0.79"/>
<ellipse cx="456.1" cy="609.0" rx="8.5" ry="9.5" fill="url(#sp)" opacity="0.59"/>
<ellipse cx="456.1" cy="621.1" rx="8.5" ry="9.5" fill="url(#sp)" opacity="0.58"/>
<ellipse cx="456.1" cy="633.2" rx="8.5" ry="9.5" fill="url(#sp)" opacity="0.76"/>
<ellipse cx="456.1" cy="645.3" rx="8.5" ry="9.5" fill="url(#sp)" opacity="0.59"/>
<ellipse cx="456.1" cy="657.4" rx="8.5" ry="9.5" fill="url(#sp)" opacity="0.72"/>
<ellipse cx="456.1" cy="669.6" rx="8.5" ry="9.5" fill="url(#sp)" opacity="0.64"/>
<ellipse cx="456.1" cy="681.7" rx="8.5" ry="9.5" fill="url(#sp)" transform="rotate(0 456.1 681.7)" opacity="0.49"/>
<ellipse cx="456.1" cy="693.5" rx="8.0" ry="10.7" fill="url(#sp)" transform="rotate(11 456.1 693.5)" opacity="0.81"/>
<ellipse cx="456.1" cy="705.3" rx="7.6" ry="12.0" fill="url(#sp)" transform="rotate(21 456.1 705.3)" opacity="0.63"/>
<ellipse cx="456.1" cy="717.1" rx="7.1" ry="13.2" fill="url(#sp)" transform="rotate(32 456.1 717.1)" opacity="0.88"/>
<ellipse cx="456.1" cy="729.2" rx="7.0" ry="13.5" fill="url(#sp)" transform="rotate(35 456.1 729.2)" opacity="0.63"/>
<rect x="466.2" y="489" width="10" height="197.9" fill="#8a8a8a" opacity="0.25" rx="5"/>
<ellipse cx="471.2" cy="487.8" rx="8.5" ry="9.5" fill="url(#sp)" opacity="0.56"/>
<ellipse cx="471.2" cy="499.9" rx="8.5" ry="9.5" fill="url(#sp)" opacity="0.54"/>
<ellipse cx="471.2" cy="512.0" rx="8.5" ry="9.5" fill="url(#sp)" opacity="0.79"/>
<ellipse cx="471.2" cy="524.1" rx="8.5" ry="9.5" fill="url(#sp)" opacity="0.67"/>
<ellipse cx="471.2" cy="536.2" rx="8.5" ry="9.5" fill="url(#sp)" opacity="0.72"/>
<ellipse cx="471.2" cy="548.4" rx="8.5" ry="9.5" fill="url(#sp)" opacity="0.64"/>
<ellipse cx="471.2" cy="560.5" rx="8.5" ry="9.5" fill="url(#sp)" opacity="0.50"/>
<ellipse cx="471.2" cy="572.6" rx="8.5" ry="9.5" fill="url(#sp)" opacity="0.74"/>
<ellipse cx="471.2" cy="584.7" rx="8.5" ry="9.5" fill="url(#sp)" opacity="0.56"/>
<ellipse cx="471.2" cy="596.8" rx="8.5" ry="9.5" fill="url(#sp)" opacity="0.67"/>
<ellipse cx="471.2" cy="609.0" rx="8.5" ry="9.5" fill="url(#sp)" opacity="0.63"/>
<ellipse cx="471.2" cy="621.1" rx="8.5" ry="9.5" fill="url(#sp)" opacity="0.58"/>
<ellipse cx="471.2" cy="633.2" rx="8.5" ry="9.5" fill="url(#sp)" opacity="0.72"/>
<ellipse cx="471.2" cy="645.3" rx="8.5" ry="9.5" fill="url(#sp)" opacity="0.58"/>
<ellipse cx="471.2" cy="657.4" rx="8.5" ry="9.5" fill="url(#sp)" opacity="0.73"/>
<ellipse cx="471.2" cy="669.6" rx="8.5" ry="9.5" fill="url(#sp)" opacity="0.62"/>
<ellipse cx="471.2" cy="681.7" rx="8.5" ry="9.5" fill="url(#sp)" opacity="0.59"/>
<ellipse cx="471.8" cy="695.6" rx="8.1" ry="10.7" fill="url(#sp)" transform="rotate(12 471.8 695.6)" opacity="0.86"/>
<ellipse cx="472.4" cy="709.5" rx="7.6" ry="11.9" fill="url(#sp)" transform="rotate(24 472.4 709.5)" opacity="0.68"/>
<ellipse cx="473.0" cy="723.5" rx="7.1" ry="13.1" fill="url(#sp)" transform="rotate(36 473.0 723.5)" opacity="0.75"/>
<ellipse cx="473.2" cy="736.2" rx="7.0" ry="13.5" fill="url(#sp)" transform="rotate(40 473.2 736.2)" opacity="0.64"/>
<rect x="481.3" y="489" width="10" height="198.5" fill="#8a8a8a" opacity="0.25" rx="5"/>
<ellipse cx="486.3" cy="487.8" rx="8.5" ry="9.5" fill="url(#sp)" opacity="0.54"/>
<ellipse cx="486.3" cy="499.9" rx="8.5" ry="9.5" fill="url(#sp)" opacity="0.55"/>
<ellipse cx="486.3" cy="512.0" rx="8.5" ry="9.5" fill="url(#sp)" opacity="0.80"/>
<ellipse cx="486.3" cy="524.1" rx="8.5" ry="9.5" fill="url(#sp)" opacity="0.58"/>
<ellipse cx="486.3" cy="536.2" rx="8.5" ry="9.5" fill="url(#sp)" opacity="0.70"/>
<ellipse cx="486.3" cy="548.4" rx="8.5" ry="9.5" fill="url(#sp)" opacity="0.63"/>
<ellipse cx="486.3" cy="560.5" rx="8.5" ry="9.5" fill="url(#sp)" opacity="0.48"/>
<ellipse cx="486.3" cy="572.6" rx="8.5" ry="9.5" fill="url(#sp)" opacity="0.84"/>
<ellipse cx="486.3" cy="584.7" rx="8.5" ry="9.5" fill="url(#sp)" opacity="0.69"/>
<ellipse cx="486.3" cy="596.8" rx="8.5" ry="9.5" fill="url(#sp)" opacity="0.83"/>
<ellipse cx="486.3" cy="609.0" rx="8.5" ry="9.5" fill="url(#sp)" opacity="0.57"/>
<ellipse cx="486.3" cy="621.1" rx="8.5" ry="9.5" fill="url(#sp)" opacity="0.56"/>
<ellipse cx="486.3" cy="633.2" rx="8.5" ry="9.5" fill="url(#sp)" opacity="0.80"/>
<ellipse cx="486.3" cy="645.3" rx="8.5" ry="9.5" fill="url(#sp)" opacity="0.65"/>
<ellipse cx="486.3" cy="657.4" rx="8.5" ry="9.5" fill="url(#sp)" opacity="0.83"/>
<ellipse cx="486.3" cy="669.6" rx="8.5" ry="9.5" fill="url(#sp)" opacity="0.61"/>
<ellipse cx="486.3" cy="681.7" rx="8.5" ry="9.5" fill="url(#sp)" opacity="0.52"/>
<ellipse cx="486.3" cy="693.5" rx="8.1" ry="10.6" fill="url(#sp)" transform="rotate(10 486.3 693.5)" opacity="0.88"/>
<ellipse cx="486.3" cy="705.3" rx="7.6" ry="11.8" fill="url(#sp)" transform="rotate(21 486.3 705.3)" opacity="0.67"/>
<ellipse cx="486.3" cy="717.2" rx="7.2" ry="13.1" fill="url(#sp)" transform="rotate(31 486.3 717.2)" opacity="0.84"/>
<ellipse cx="486.3" cy="729.2" rx="7.0" ry="13.5" fill="url(#sp)" transform="rotate(35 486.3 729.2)" opacity="0.69"/>
<rect x="496.4" y="489" width="10" height="199.0" fill="#8a8a8a" opacity="0.25" rx="5"/>
<ellipse cx="501.4" cy="487.8" rx="8.5" ry="9.5" fill="url(#sp)" opacity="0.52"/>
<ellipse cx="501.4" cy="499.9" rx="8.5" ry="9.5" fill="url(#sp)" opacity="0.58"/>
<ellipse cx="501.4" cy="512.0" rx="8.5" ry="9.5" fill="url(#sp)" opacity="0.81"/>
<ellipse cx="501.4" cy="524.1" rx="8.5" ry="9.5" fill="url(#sp)" opacity="0.63"/>
<ellipse cx="501.4" cy="536.2" rx="8.5" ry="9.5" fill="url(#sp)" opacity="0.75"/>
<ellipse cx="501.4" cy="548.4" rx="8.5" ry="9.5" fill="url(#sp)" opacity="0.58"/>
<ellipse cx="501.4" cy="560.5" rx="8.5" ry="9.5" fill="url(#sp)" opacity="0.51"/>
<ellipse cx="501.4" cy="572.6" rx="8.5" ry="9.5" fill="url(#sp)" opacity="0.79"/>
<ellipse cx="501.4" cy="584.7" rx="8.5" ry="9.5" fill="url(#sp)" opacity="0.55"/>
<ellipse cx="501.4" cy="596.8" rx="8.5" ry="9.5" fill="url(#sp)" opacity="0.74"/>
<ellipse cx="501.4" cy="609.0" rx="8.5" ry="9.5" fill="url(#sp)" opacity="0.61"/>
<ellipse cx="501.4" cy="621.1" rx="8.5" ry="9.5" fill="url(#sp)" opacity="0.54"/>
<ellipse cx="501.4" cy="633.2" rx="8.5" ry="9.5" fill="url(#sp)" opacity="0.80"/>
<ellipse cx="501.4" cy="645.3" rx="8.5" ry="9.5" fill="url(#sp)" opacity="0.70"/>
<ellipse cx="501.4" cy="657.4" rx="8.5" ry="9.5" fill="url(#sp)" opacity="0.82"/>
<ellipse cx="501.4" cy="669.6" rx="8.5" ry="9.5" fill="url(#sp)" opacity="0.53"/>
<ellipse cx="501.4" cy="681.7" rx="8.5" ry="9.5" fill="url(#sp)" opacity="0.59"/>
<ellipse cx="502.0" cy="695.4" rx="8.1" ry="10.6" fill="url(#sp)" transform="rotate(11 502.0 695.4)" opacity="0.83"/>
<ellipse cx="502.6" cy="709.4" rx="7.6" ry="11.8" fill="url(#sp)" transform="rotate(23 502.6 709.4)" opacity="0.59"/>
<ellipse cx="503.2" cy="723.3" rx="7.2" ry="13.0" fill="url(#sp)" transform="rotate(35 503.2 723.3)" opacity="0.79"/>
<ellipse cx="503.4" cy="736.2" rx="7.0" ry="13.5" fill="url(#sp)" transform="rotate(40 503.4 736.2)" opacity="0.61"/>
<rect x="511.6" y="489" width="10" height="199.6" fill="#8a8a8a" opacity="0.25" rx="5"/>
<ellipse cx="516.6" cy="487.8" rx="8.5" ry="9.5" fill="url(#sp)" opacity="0.53"/>
<ellipse cx="516.6" cy="499.9" rx="8.5" ry="9.5" fill="url(#sp)" opacity="0.55"/>
<ellipse cx="516.6" cy="512.0" rx="8.5" ry="9.5" fill="url(#sp)" opacity="0.87"/>
<ellipse cx="516.6" cy="524.1" rx="8.5" ry="9.5" fill="url(#sp)" opacity="0.60"/>
<ellipse cx="516.6" cy="536.2" rx="8.5" ry="9.5" fill="url(#sp)" opacity="0.81"/>
<ellipse cx="516.6" cy="548.4" rx="8.5" ry="9.5" fill="url(#sp)" opacity="0.62"/>
<ellipse cx="516.6" cy="560.5" rx="8.5" ry="9.5" fill="url(#sp)" opacity="0.50"/>
<ellipse cx="516.6" cy="572.6" rx="8.5" ry="9.5" fill="url(#sp)" opacity="0.85"/>
<ellipse cx="516.6" cy="584.7" rx="8.5" ry="9.5" fill="url(#sp)" opacity="0.64"/>
<ellipse cx="516.6" cy="596.8" rx="8.5" ry="9.5" fill="url(#sp)" opacity="0.82"/>
<ellipse cx="516.6" cy="609.0" rx="8.5" ry="9.5" fill="url(#sp)" opacity="0.62"/>
<ellipse cx="516.6" cy="621.1" rx="8.5" ry="9.5" fill="url(#sp)" opacity="0.58"/>
<ellipse cx="516.6" cy="633.2" rx="8.5" ry="9.5" fill="url(#sp)" opacity="0.75"/>
<ellipse cx="516.6" cy="645.3" rx="8.5" ry="9.5" fill="url(#sp)" opacity="0.67"/>
<ellipse cx="516.6" cy="657.4" rx="8.5" ry="9.5" fill="url(#sp)" opacity="0.82"/>
<ellipse cx="516.6" cy="669.6" rx="8.5" ry="9.5" fill="url(#sp)" opacity="0.64"/>
<ellipse cx="516.6" cy="681.7" rx="8.5" ry="9.5" fill="url(#sp)" opacity="0.54"/>
<ellipse cx="516.6" cy="693.5" rx="8.1" ry="10.5" fill="url(#sp)" transform="rotate(9 516.6 693.5)" opacity="0.86"/>
<ellipse cx="516.6" cy="705.4" rx="7.7" ry="11.7" fill="url(#sp)" transform="rotate(20 516.6 705.4)" opacity="0.66"/>
<ellipse cx="516.6" cy="717.2" rx="7.2" ry="12.9" fill="url(#sp)" transform="rotate(30 516.6 717.2)" opacity="0.74"/>
<ellipse cx="516.6" cy="729.2" rx="7.0" ry="13.5" fill="url(#sp)" transform="rotate(35 516.6 729.2)" opacity="0.58"/>
<rect x="526.7" y="489" width="10" height="200.1" fill="#8a8a8a" opacity="0.25" rx="5"/>
<ellipse cx="531.7" cy="487.8" rx="8.5" ry="9.5" fill="url(#sp)" opacity="0.53"/>
<ellipse cx="531.7" cy="499.9" rx="8.5" ry="9.5" fill="url(#sp)" opacity="0.51"/>
<ellipse cx="531.7" cy="512.0" rx="8.5" ry="9.5" fill="url(#sp)" opacity="0.72"/>
<ellipse cx="531.7" cy="524.1" rx="8.5" ry="9.5" fill="url(#sp)" opacity="0.63"/>
<ellipse cx="531.7" cy="536.2" rx="8.5" ry="9.5" fill="url(#sp)" opacity="0.78"/>
<ellipse cx="531.7" cy="548.4" rx="8.5" ry="9.5" fill="url(#sp)" opacity="0.59"/>
<ellipse cx="531.7" cy="560.5" rx="8.5" ry="9.5" fill="url(#sp)" opacity="0.54"/>
<ellipse cx="531.7" cy="572.6" rx="8.5" ry="9.5" fill="url(#sp)" opacity="0.81"/>
<ellipse cx="531.7" cy="584.7" rx="8.5" ry="9.5" fill="url(#sp)" opacity="0.60"/>
<ellipse cx="531.7" cy="596.8" rx="8.5" ry="9.5" fill="url(#sp)" opacity="0.74"/>
<ellipse cx="531.7" cy="609.0" rx="8.5" ry="9.5" fill="url(#sp)" opacity="0.62"/>
<ellipse cx="531.7" cy="621.1" rx="8.5" ry="9.5" fill="url(#sp)" opacity="0.53"/>
<ellipse cx="531.7" cy="633.2" rx="8.5" ry="9.5" fill="url(#sp)" opacity="0.72"/>
<ellipse cx="531.7" cy="645.3" rx="8.5" ry="9.5" fill="url(#sp)" opacity="0.69"/>
<ellipse cx="531.7" cy="657.4" rx="8.5" ry="9.5" fill="url(#sp)" opacity="0.78"/>
<ellipse cx="531.7" cy="669.6" rx="8.5" ry="9.5" fill="url(#sp)" opacity="0.57"/>
<ellipse cx="531.7" cy="681.7" rx="8.5" ry="9.5" fill="url(#sp)" opacity="0.53"/>
<ellipse cx="532.2" cy="695.2" rx="8.1" ry="10.5" fill="url(#sp)" transform="rotate(10 532.2 695.2)" opacity="0.81"/>
<ellipse cx="532.8" cy="709.2" rx="7.7" ry="11.7" fill="url(#sp)" transform="rotate(22 532.8 709.2)" opacity="0.68"/>
<ellipse cx="533.4" cy="723.1" rx="7.2" ry="12.9" fill="url(#sp)" transform="rotate(34 533.4 723.1)" opacity="0.76"/>
<ellipse cx="533.7" cy="736.2" rx="7.0" ry="13.5" fill="url(#sp)" transform="rotate(40 533.7 736.2)" opacity="0.57"/>
<rect x="541.8" y="489" width="10" height="200.7" fill="#8a8a8a" opacity="0.25" rx="5"/>
<ellipse cx="546.8" cy="487.8" rx="8.5" ry="9.5" fill="url(#sp)" opacity="0.55"/>
<ellipse cx="546.8" cy="499.9" rx="8.5" ry="9.5" fill="url(#sp)" opacity="0.59"/>
<ellipse cx="546.8" cy="512.0" rx="8.5" ry="9.5" fill="url(#sp)" opacity="0.71"/>
<ellipse cx="546.8" cy="524.1" rx="8.5" ry="9.5" fill="url(#sp)" opacity="0.62"/>
<ellipse cx="546.8" cy="536.2" rx="8.5" ry="9.5" fill="url(#sp)" opacity="0.69"/>
<ellipse cx="546.8" cy="548.4" rx="8.5" ry="9.5" fill="url(#sp)" opacity="0.55"/>
<ellipse cx="546.8" cy="560.5" rx="8.5" ry="9.5" fill="url(#sp)" opacity="0.50"/>
<ellipse cx="546.8" cy="572.6" rx="8.5" ry="9.5" fill="url(#sp)" opacity="0.76"/>
<ellipse cx="546.8" cy="584.7" rx="8.5" ry="9.5" fill="url(#sp)" opacity="0.58"/>
<ellipse cx="546.8" cy="596.8" rx="8.5" ry="9.5" fill="url(#sp)" opacity="0.66"/>
<ellipse cx="546.8" cy="609.0" rx="8.5" ry="9.5" fill="url(#sp)" opacity="0.53"/>
<ellipse cx="546.8" cy="621.1" rx="8.5" ry="9.5" fill="url(#sp)" opacity="0.50"/>
<ellipse cx="546.8" cy="633.2" rx="8.5" ry="9.5" fill="url(#sp)" opacity="0.78"/>
<ellipse cx="546.8" cy="645.3" rx="8.5" ry="9.5" fill="url(#sp)" opacity="0.56"/>
<ellipse cx="546.8" cy="657.4" rx="8.5" ry="9.5" fill="url(#sp)" opacity="0.66"/>
<ellipse cx="546.8" cy="669.6" rx="8.5" ry="9.5" fill="url(#sp)" opacity="0.58"/>
<ellipse cx="546.8" cy="681.7" rx="8.5" ry="9.5" fill="url(#sp)" opacity="0.54"/>
<ellipse cx="546.8" cy="693.6" rx="8.2" ry="10.4" fill="url(#sp)" transform="rotate(8 546.8 693.6)" opacity="0.84"/>
<ellipse cx="546.8" cy="705.4" rx="7.7" ry="11.6" fill="url(#sp)" transform="rotate(19 546.8 705.4)" opacity="0.59"/>
<ellipse cx="546.8" cy="717.2" rx="7.2" ry="12.8" fill="url(#sp)" transform="rotate(29 546.8 717.2)" opacity="0.80"/>
<ellipse cx="546.8" cy="729.2" rx="7.0" ry="13.5" fill="url(#sp)" transform="rotate(35 546.8 729.2)" opacity="0.64"/>
<rect x="556.9" y="489" width="10" height="201.3" fill="#8a8a8a" opacity="0.25" rx="5"/>
<ellipse cx="561.9" cy="487.8" rx="8.5" ry="9.5" fill="url(#sp)" opacity="0.52"/>
<ellipse cx="561.9" cy="499.9" rx="8.5" ry="9.5" fill="url(#sp)" opacity="0.61"/>
<ellipse cx="561.9" cy="512.0" rx="8.5" ry="9.5" fill="url(#sp)" opacity="0.73"/>
<ellipse cx="561.9" cy="524.1" rx="8.5" ry="9.5" fill="url(#sp)" opacity="0.56"/>
<ellipse cx="561.9" cy="536.2" rx="8.5" ry="9.5" fill="url(#sp)" opacity="0.74"/>
<ellipse cx="561.9" cy="548.4" rx="8.5" ry="9.5" fill="url(#sp)" opacity="0.54"/>
<ellipse cx="561.9" cy="560.5" rx="8.5" ry="9.5" fill="url(#sp)" opacity="0.56"/>
<ellipse cx="561.9" cy="572.6" rx="8.5" ry="9.5" fill="url(#sp)" opacity="0.75"/>
<ellipse cx="561.9" cy="584.7" rx="8.5" ry="9.5" fill="url(#sp)" opacity="0.57"/>
<ellipse cx="561.9" cy="596.8" rx="8.5" ry="9.5" fill="url(#sp)" opacity="0.66"/>
<ellipse cx="561.9" cy="609.0" rx="8.5" ry="9.5" fill="url(#sp)" opacity="0.62"/>
<ellipse cx="561.9" cy="621.1" rx="8.5" ry="9.5" fill="url(#sp)" opacity="0.52"/>
<ellipse cx="561.9" cy="633.2" rx="8.5" ry="9.5" fill="url(#sp)" opacity="0.84"/>
<ellipse cx="561.9" cy="645.3" rx="8.5" ry="9.5" fill="url(#sp)" opacity="0.62"/>
<ellipse cx="561.9" cy="657.4" rx="8.5" ry="9.5" fill="url(#sp)" opacity="0.82"/>
<ellipse cx="561.9" cy="669.6" rx="8.5" ry="9.5" fill="url(#sp)" opacity="0.56"/>
<ellipse cx="561.9" cy="681.7" rx="8.5" ry="9.5" fill="url(#sp)" opacity="0.51"/>
<ellipse cx="562.3" cy="695.1" rx="8.2" ry="10.4" fill="url(#sp)" transform="rotate(9 562.3 695.1)" opacity="0.76"/>
<ellipse cx="563.0" cy="709.0" rx="7.7" ry="11.6" fill="url(#sp)" transform="rotate(21 563.0 709.0)" opacity="0.71"/>
<ellipse cx="563.6" cy="723.0" rx="7.3" ry="12.8" fill="url(#sp)" transform="rotate(33 563.6 723.0)" opacity="0.84"/>
<ellipse cx="563.9" cy="736.2" rx="7.0" ry="13.5" fill="url(#sp)" transform="rotate(40 563.9 736.2)" opacity="0.63"/>
<ellipse cx="55.8" cy="723.4" rx="12.0" ry="5.0" fill="url(#spg)" transform="rotate(-50 55.8 723.4)" opacity="0.50"/>
<ellipse cx="58.3" cy="735.5" rx="15.0" ry="7.0" fill="url(#spg)" transform="rotate(35 58.3 735.5)"/>
<ellipse cx="55.3" cy="760.8" rx="13.0" ry="7.0" fill="url(#spg)" transform="rotate(45 55.3 760.8)"/>
<ellipse cx="58.8" cy="748.0" rx="12.0" ry="5.0" fill="url(#spg)" transform="rotate(-50 58.8 748.0)" opacity="0.55"/>
<ellipse cx="55.8" cy="774.5" rx="12.0" ry="5.0" fill="url(#spg)" transform="rotate(-50 55.8 774.5)" opacity="0.50"/>
<ellipse cx="48.8" cy="728.5" rx="13.5" ry="8.2" fill="url(#sp)" transform="rotate(45 48.8 728.5)"/>
<ellipse cx="66.6" cy="742.0" rx="9.8" ry="9.8" fill="url(#sp)"/>
<ellipse cx="50.2" cy="754.0" rx="13.5" ry="8.2" fill="url(#sp)" transform="rotate(-45 50.2 754.0)"/>
<ellipse cx="61.6" cy="767.6" rx="9.8" ry="9.8" fill="url(#sp)"/>
<ellipse cx="58.3" cy="786.6" rx="15.0" ry="7.0" fill="url(#spg)" transform="rotate(35 58.3 786.6)"/>
<ellipse cx="55.3" cy="811.9" rx="13.0" ry="7.0" fill="url(#spg)" transform="rotate(45 55.3 811.9)"/>
<ellipse cx="58.8" cy="799.1" rx="12.0" ry="5.0" fill="url(#spg)" transform="rotate(-50 58.8 799.1)" opacity="0.55"/>
<ellipse cx="55.8" cy="825.6" rx="12.0" ry="5.0" fill="url(#spg)" transform="rotate(-50 55.8 825.6)" opacity="0.50"/>
<ellipse cx="48.8" cy="779.6" rx="13.5" ry="8.2" fill="url(#sp)" transform="rotate(45 48.8 779.6)"/>
<ellipse cx="66.6" cy="793.1" rx="9.8" ry="9.8" fill="url(#sp)"/>
<ellipse cx="50.2" cy="805.1" rx="13.5" ry="8.2" fill="url(#sp)" transform="rotate(-45 50.2 805.1)"/>
<ellipse cx="61.6" cy="818.7" rx="9.8" ry="9.8" fill="url(#sp)"/>
<ellipse cx="58.3" cy="837.7" rx="15.0" ry="7.0" fill="url(#spg)" transform="rotate(35 58.3 837.7)"/>
<ellipse cx="55.3" cy="863.0" rx="13.0" ry="7.0" fill="url(#spg)" transform="rotate(45 55.3 863.0)"/>
<ellipse cx="58.8" cy="850.2" rx="12.0" ry="5.0" fill="url(#spg)" transform="rotate(-50 58.8 850.2)" opacity="0.55"/>
<ellipse cx="55.8" cy="876.7" rx="12.0" ry="5.0" fill="url(#spg)" transform="rotate(-50 55.8 876.7)" opacity="0.50"/>
<ellipse cx="48.8" cy="830.7" rx="13.5" ry="8.2" fill="url(#sp)" transform="rotate(45 48.8 830.7)"/>
<ellipse cx="66.6" cy="844.2" rx="9.8" ry="9.8" fill="url(#sp)"/>
<ellipse cx="50.2" cy="856.2" rx="13.5" ry="8.2" fill="url(#sp)" transform="rotate(-45 50.2 856.2)"/>
<ellipse cx="61.6" cy="869.8" rx="9.8" ry="9.8" fill="url(#sp)"/>
<ellipse cx="58.3" cy="888.8" rx="15.0" ry="7.0" fill="url(#spg)" transform="rotate(35 58.3 888.8)"/>
<ellipse cx="55.3" cy="914.1" rx="13.0" ry="7.0" fill="url(#spg)" transform="rotate(45 55.3 914.1)"/>
<ellipse cx="58.8" cy="901.3" rx="12.0" ry="5.0" fill="url(#spg)" transform="rotate(-50 58.8 901.3)" opacity="0.55"/>
<ellipse cx="55.8" cy="927.8" rx="12.0" ry="5.0" fill="url(#spg)" transform="rotate(-50 55.8 927.8)" opacity="0.50"/>
<ellipse cx="48.8" cy="881.8" rx="13.5" ry="8.2" fill="url(#sp)" transform="rotate(45 48.8 881.8)"/>
<ellipse cx="66.6" cy="895.3" rx="9.8" ry="9.8" fill="url(#sp)"/>
<ellipse cx="50.2" cy="907.3" rx="13.5" ry="8.2" fill="url(#sp)" transform="rotate(-45 50.2 907.3)"/>
<ellipse cx="61.6" cy="920.9" rx="9.8" ry="9.8" fill="url(#sp)"/>
<ellipse cx="86.1" cy="723.4" rx="12.0" ry="5.0" fill="url(#spg)" transform="rotate(-50 86.1 723.4)" opacity="0.50"/>
<ellipse cx="88.6" cy="735.5" rx="15.0" ry="7.0" fill="url(#spg)" transform="rotate(35 88.6 735.5)"/>
<ellipse cx="85.6" cy="760.8" rx="13.0" ry="7.0" fill="url(#spg)" transform="rotate(45 85.6 760.8)"/>
<ellipse cx="89.1" cy="748.0" rx="12.0" ry="5.0" fill="url(#spg)" transform="rotate(-50 89.1 748.0)" opacity="0.55"/>
<ellipse cx="86.1" cy="774.5" rx="12.0" ry="5.0" fill="url(#spg)" transform="rotate(-50 86.1 774.5)" opacity="0.50"/>
<ellipse cx="79.1" cy="728.5" rx="13.5" ry="8.2" fill="url(#sp)" transform="rotate(45 79.1 728.5)"/>
<ellipse cx="96.9" cy="742.0" rx="9.8" ry="9.8" fill="url(#sp)"/>
<ellipse cx="80.5" cy="754.0" rx="13.5" ry="8.2" fill="url(#sp)" transform="rotate(-45 80.5 754.0)"/>
<ellipse cx="91.9" cy="767.6" rx="9.8" ry="9.8" fill="url(#sp)"/>
<ellipse cx="88.6" cy="786.6" rx="15.0" ry="7.0" fill="url(#spg)" transform="rotate(35 88.6 786.6)"/>
<ellipse cx="85.6" cy="811.9" rx="13.0" ry="7.0" fill="url(#spg)" transform="rotate(45 85.6 811.9)"/>
<ellipse cx="89.1" cy="799.1" rx="12.0" ry="5.0" fill="url(#spg)" transform="rotate(-50 89.1 799.1)" opacity="0.55"/>
<ellipse cx="86.1" cy="825.6" rx="12.0" ry="5.0" fill="url(#spg)" transform="rotate(-50 86.1 825.6)" opacity="0.50"/>
<ellipse cx="79.1" cy="779.6" rx="13.5" ry="8.2" fill="url(#sp)" transform="rotate(45 79.1 779.6)"/>
<ellipse cx="96.9" cy="793.1" rx="9.8" ry="9.8" fill="url(#sp)"/>
<ellipse cx="80.5" cy="805.1" rx="13.5" ry="8.2" fill="url(#sp)" transform="rotate(-45 80.5 805.1)"/>
<ellipse cx="91.9" cy="818.7" rx="9.8" ry="9.8" fill="url(#sp)"/>
<ellipse cx="88.6" cy="837.7" rx="15.0" ry="7.0" fill="url(#spg)" transform="rotate(35 88.6 837.7)"/>
<ellipse cx="85.6" cy="863.0" rx="13.0" ry="7.0" fill="url(#spg)" transform="rotate(45 85.6 863.0)"/>
<ellipse cx="89.1" cy="850.2" rx="12.0" ry="5.0" fill="url(#spg)" transform="rotate(-50 89.1 850.2)" opacity="0.55"/>
<ellipse cx="86.1" cy="876.7" rx="12.0" ry="5.0" fill="url(#spg)" transform="rotate(-50 86.1 876.7)" opacity="0.50"/>
<ellipse cx="79.1" cy="830.7" rx="13.5" ry="8.2" fill="url(#sp)" transform="rotate(45 79.1 830.7)"/>
<ellipse cx="96.9" cy="844.2" rx="9.8" ry="9.8" fill="url(#sp)"/>
<ellipse cx="80.5" cy="856.2" rx="13.5" ry="8.2" fill="url(#sp)" transform="rotate(-45 80.5 856.2)"/>
<ellipse cx="91.9" cy="869.8" rx="9.8" ry="9.8" fill="url(#sp)"/>
<ellipse cx="88.6" cy="888.8" rx="15.0" ry="7.0" fill="url(#spg)" transform="rotate(35 88.6 888.8)"/>
<ellipse cx="85.6" cy="914.1" rx="13.0" ry="7.0" fill="url(#spg)" transform="rotate(45 85.6 914.1)"/>
<ellipse cx="89.1" cy="901.3" rx="12.0" ry="5.0" fill="url(#spg)" transform="rotate(-50 89.1 901.3)" opacity="0.55"/>
<ellipse cx="86.1" cy="927.8" rx="12.0" ry="5.0" fill="url(#spg)" transform="rotate(-50 86.1 927.8)" opacity="0.50"/>
<ellipse cx="79.1" cy="881.8" rx="13.5" ry="8.2" fill="url(#sp)" transform="rotate(45 79.1 881.8)"/>
<ellipse cx="96.9" cy="895.3" rx="9.8" ry="9.8" fill="url(#sp)"/>
<ellipse cx="80.5" cy="907.3" rx="13.5" ry="8.2" fill="url(#sp)" transform="rotate(-45 80.5 907.3)"/>
<ellipse cx="91.9" cy="920.9" rx="9.8" ry="9.8" fill="url(#sp)"/>
<ellipse cx="116.4" cy="723.4" rx="12.0" ry="5.0" fill="url(#spg)" transform="rotate(-50 116.4 723.4)" opacity="0.50"/>
<ellipse cx="118.9" cy="735.5" rx="15.0" ry="7.0" fill="url(#spg)" transform="rotate(35 118.9 735.5)"/>
<ellipse cx="115.9" cy="760.8" rx="13.0" ry="7.0" fill="url(#spg)" transform="rotate(45 115.9 760.8)"/>
<ellipse cx="119.4" cy="748.0" rx="12.0" ry="5.0" fill="url(#spg)" transform="rotate(-50 119.4 748.0)" opacity="0.55"/>
<ellipse cx="116.4" cy="774.5" rx="12.0" ry="5.0" fill="url(#spg)" transform="rotate(-50 116.4 774.5)" opacity="0.50"/>
<ellipse cx="109.4" cy="728.5" rx="13.5" ry="8.2" fill="url(#sp)" transform="rotate(45 109.4 728.5)"/>
<ellipse cx="127.2" cy="742.0" rx="9.8" ry="9.8" fill="url(#sp)"/>
<ellipse cx="110.8" cy="754.0" rx="13.5" ry="8.2" fill="url(#sp)" transform="rotate(-45 110.8 754.0)"/>
<ellipse cx="122.2" cy="767.6" rx="9.8" ry="9.8" fill="url(#sp)"/>
<ellipse cx="118.9" cy="786.6" rx="15.0" ry="7.0" fill="url(#spg)" transform="rotate(35 118.9 786.6)"/>
<ellipse cx="115.9" cy="811.9" rx="13.0" ry="7.0" fill="url(#spg)" transform="rotate(45 115.9 811.9)"/>
<ellipse cx="119.4" cy="799.1" rx="12.0" ry="5.0" fill="url(#spg)" transform="rotate(-50 119.4 799.1)" opacity="0.55"/>
<ellipse cx="116.4" cy="825.6" rx="12.0" ry="5.0" fill="url(#spg)" transform="rotate(-50 116.4 825.6)" opacity="0.50"/>
<ellipse cx="109.4" cy="779.6" rx="13.5" ry="8.2" fill="url(#sp)" transform="rotate(45 109.4 779.6)"/>
<ellipse cx="127.2" cy="793.1" rx="9.8" ry="9.8" fill="url(#sp)"/>
<ellipse cx="110.8" cy="805.1" rx="13.5" ry="8.2" fill="url(#sp)" transform="rotate(-45 110.8 805.1)"/>
<ellipse cx="122.2" cy="818.7" rx="9.8" ry="9.8" fill="url(#sp)"/>
<ellipse cx="118.9" cy="837.7" rx="15.0" ry="7.0" fill="url(#spg)" transform="rotate(35 118.9 837.7)"/>
<ellipse cx="115.9" cy="863.0" rx="13.0" ry="7.0" fill="url(#spg)" transform="rotate(45 115.9 863.0)"/>
<ellipse cx="119.4" cy="850.2" rx="12.0" ry="5.0" fill="url(#spg)" transform="rotate(-50 119.4 850.2)" opacity="0.55"/>
<ellipse cx="116.4" cy="876.7" rx="12.0" ry="5.0" fill="url(#spg)" transform="rotate(-50 116.4 876.7)" opacity="0.50"/>
<ellipse cx="109.4" cy="830.7" rx="13.5" ry="8.2" fill="url(#sp)" transform="rotate(45 109.4 830.7)"/>
<ellipse cx="127.2" cy="844.2" rx="9.8" ry="9.8" fill="url(#sp)"/>
<ellipse cx="110.8" cy="856.2" rx="13.5" ry="8.2" fill="url(#sp)" transform="rotate(-45 110.8 856.2)"/>
<ellipse cx="122.2" cy="869.8" rx="9.8" ry="9.8" fill="url(#sp)"/>
<ellipse cx="118.9" cy="888.8" rx="15.0" ry="7.0" fill="url(#spg)" transform="rotate(35 118.9 888.8)"/>
<ellipse cx="115.9" cy="914.1" rx="13.0" ry="7.0" fill="url(#spg)" transform="rotate(45 115.9 914.1)"/>
<ellipse cx="119.4" cy="901.3" rx="12.0" ry="5.0" fill="url(#spg)" transform="rotate(-50 119.4 901.3)" opacity="0.55"/>
<ellipse cx="116.4" cy="927.8" rx="12.0" ry="5.0" fill="url(#spg)" transform="rotate(-50 116.4 927.8)" opacity="0.50"/>
<ellipse cx="109.4" cy="881.8" rx="13.5" ry="8.2" fill="url(#sp)" transform="rotate(45 109.4 881.8)"/>
<ellipse cx="127.2" cy="895.3" rx="9.8" ry="9.8" fill="url(#sp)"/>
<ellipse cx="110.8" cy="907.3" rx="13.5" ry="8.2" fill="url(#sp)" transform="rotate(-45 110.8 907.3)"/>
<ellipse cx="122.2" cy="920.9" rx="9.8" ry="9.8" fill="url(#sp)"/>
<ellipse cx="146.7" cy="723.4" rx="12.0" ry="5.0" fill="url(#spg)" transform="rotate(-50 146.7 723.4)" opacity="0.50"/>
<ellipse cx="149.2" cy="735.5" rx="15.0" ry="7.0" fill="url(#spg)" transform="rotate(35 149.2 735.5)"/>
<ellipse cx="146.2" cy="760.8" rx="13.0" ry="7.0" fill="url(#spg)" transform="rotate(45 146.2 760.8)"/>
<ellipse cx="149.7" cy="748.0" rx="12.0" ry="5.0" fill="url(#spg)" transform="rotate(-50 149.7 748.0)" opacity="0.55"/>
<ellipse cx="146.7" cy="774.5" rx="12.0" ry="5.0" fill="url(#spg)" transform="rotate(-50 146.7 774.5)" opacity="0.50"/>
<ellipse cx="139.7" cy="728.5" rx="13.5" ry="8.2" fill="url(#sp)" transform="rotate(45 139.7 728.5)"/>
<ellipse cx="157.5" cy="742.0" rx="9.8" ry="9.8" fill="url(#sp)"/>
<ellipse cx="141.1" cy="754.0" rx="13.5" ry="8.2" fill="url(#sp)" transform="rotate(-45 141.1 754.0)"/>
<ellipse cx="152.5" cy="767.6" rx="9.8" ry="9.8" fill="url(#sp)"/>
<ellipse cx="149.2" cy="786.6" rx="15.0" ry="7.0" fill="url(#spg)" transform="rotate(35 149.2 786.6)"/>
<ellipse cx="146.2" cy="811.9" rx="13.0" ry="7.0" fill="url(#spg)" transform="rotate(45 146.2 811.9)"/>
<ellipse cx="149.7" cy="799.1" rx="12.0" ry="5.0" fill="url(#spg)" transform="rotate(-50 149.7 799.1)" opacity="0.55"/>
<ellipse cx="146.7" cy="825.6" rx="12.0" ry="5.0" fill="url(#spg)" transform="rotate(-50 146.7 825.6)" opacity="0.50"/>
<ellipse cx="139.7" cy="779.6" rx="13.5" ry="8.2" fill="url(#sp)" transform="rotate(45 139.7 779.6)"/>
<ellipse cx="157.5" cy="793.1" rx="9.8" ry="9.8" fill="url(#sp)"/>
<ellipse cx="141.1" cy="805.1" rx="13.5" ry="8.2" fill="url(#sp)" transform="rotate(-45 141.1 805.1)"/>
<ellipse cx="152.5" cy="818.7" rx="9.8" ry="9.8" fill="url(#sp)"/>
<ellipse cx="149.2" cy="837.7" rx="15.0" ry="7.0" fill="url(#spg)" transform="rotate(35 149.2 837.7)"/>
<ellipse cx="146.2" cy="863.0" rx="13.0" ry="7.0" fill="url(#spg)" transform="rotate(45 146.2 863.0)"/>
<ellipse cx="149.7" cy="850.2" rx="12.0" ry="5.0" fill="url(#spg)" transform="rotate(-50 149.7 850.2)" opacity="0.55"/>
<ellipse cx="146.7" cy="876.7" rx="12.0" ry="5.0" fill="url(#spg)" transform="rotate(-50 146.7 876.7)" opacity="0.50"/>
<ellipse cx="139.7" cy="830.7" rx="13.5" ry="8.2" fill="url(#sp)" transform="rotate(45 139.7 830.7)"/>
<ellipse cx="157.5" cy="844.2" rx="9.8" ry="9.8" fill="url(#sp)"/>
<ellipse cx="141.1" cy="856.2" rx="13.5" ry="8.2" fill="url(#sp)" transform="rotate(-45 141.1 856.2)"/>
<ellipse cx="152.5" cy="869.8" rx="9.8" ry="9.8" fill="url(#sp)"/>
<ellipse cx="149.2" cy="888.8" rx="15.0" ry="7.0" fill="url(#spg)" transform="rotate(35 149.2 888.8)"/>
<ellipse cx="146.2" cy="914.1" rx="13.0" ry="7.0" fill="url(#spg)" transform="rotate(45 146.2 914.1)"/>
<ellipse cx="149.7" cy="901.3" rx="12.0" ry="5.0" fill="url(#spg)" transform="rotate(-50 149.7 901.3)" opacity="0.55"/>
<ellipse cx="146.7" cy="927.8" rx="12.0" ry="5.0" fill="url(#spg)" transform="rotate(-50 146.7 927.8)" opacity="0.50"/>
<ellipse cx="139.7" cy="881.8" rx="13.5" ry="8.2" fill="url(#sp)" transform="rotate(45 139.7 881.8)"/>
<ellipse cx="157.5" cy="895.3" rx="9.8" ry="9.8" fill="url(#sp)"/>
<ellipse cx="141.1" cy="907.3" rx="13.5" ry="8.2" fill="url(#sp)" transform="rotate(-45 141.1 907.3)"/>
<ellipse cx="152.5" cy="920.9" rx="9.8" ry="9.8" fill="url(#sp)"/>
<ellipse cx="179.5" cy="735.5" rx="15.0" ry="7.0" fill="url(#spg)" transform="rotate(35 179.5 735.5)"/>
<ellipse cx="176.5" cy="760.8" rx="13.0" ry="7.0" fill="url(#spg)" transform="rotate(45 176.5 760.8)"/>
<ellipse cx="180.0" cy="748.0" rx="12.0" ry="5.0" fill="url(#spg)" transform="rotate(-50 180.0 748.0)" opacity="0.55"/>
<ellipse cx="177.0" cy="774.5" rx="12.0" ry="5.0" fill="url(#spg)" transform="rotate(-50 177.0 774.5)" opacity="0.50"/>
<ellipse cx="170.0" cy="728.5" rx="13.5" ry="8.2" fill="url(#sp)" transform="rotate(45 170.0 728.5)"/>
<ellipse cx="187.8" cy="742.0" rx="9.8" ry="9.8" fill="url(#sp)"/>
<ellipse cx="171.4" cy="754.0" rx="13.5" ry="8.2" fill="url(#sp)" transform="rotate(-45 171.4 754.0)"/>
<ellipse cx="182.8" cy="767.6" rx="9.8" ry="9.8" fill="url(#sp)"/>
<ellipse cx="179.5" cy="786.6" rx="15.0" ry="7.0" fill="url(#spg)" transform="rotate(35 179.5 786.6)"/>
<ellipse cx="176.5" cy="811.9" rx="13.0" ry="7.0" fill="url(#spg)" transform="rotate(45 176.5 811.9)"/>
<ellipse cx="180.0" cy="799.1" rx="12.0" ry="5.0" fill="url(#spg)" transform="rotate(-50 180.0 799.1)" opacity="0.55"/>
<ellipse cx="177.0" cy="825.6" rx="12.0" ry="5.0" fill="url(#spg)" transform="rotate(-50 177.0 825.6)" opacity="0.50"/>
<ellipse cx="170.0" cy="779.6" rx="13.5" ry="8.2" fill="url(#sp)" transform="rotate(45 170.0 779.6)"/>
<ellipse cx="187.8" cy="793.1" rx="9.8" ry="9.8" fill="url(#sp)"/>
<ellipse cx="171.4" cy="805.1" rx="13.5" ry="8.2" fill="url(#sp)" transform="rotate(-45 171.4 805.1)"/>
<ellipse cx="182.8" cy="818.7" rx="9.8" ry="9.8" fill="url(#sp)"/>
<ellipse cx="179.5" cy="837.7" rx="15.0" ry="7.0" fill="url(#spg)" transform="rotate(35 179.5 837.7)"/>
<ellipse cx="176.5" cy="863.0" rx="13.0" ry="7.0" fill="url(#spg)" transform="rotate(45 176.5 863.0)"/>
<ellipse cx="180.0" cy="850.2" rx="12.0" ry="5.0" fill="url(#spg)" transform="rotate(-50 180.0 850.2)" opacity="0.55"/>
<ellipse cx="177.0" cy="876.7" rx="12.0" ry="5.0" fill="url(#spg)" transform="rotate(-50 177.0 876.7)" opacity="0.50"/>
<ellipse cx="170.0" cy="830.7" rx="13.5" ry="8.2" fill="url(#sp)" transform="rotate(45 170.0 830.7)"/>
<ellipse cx="187.8" cy="844.2" rx="9.8" ry="9.8" fill="url(#sp)"/>
<ellipse cx="171.4" cy="856.2" rx="13.5" ry="8.2" fill="url(#sp)" transform="rotate(-45 171.4 856.2)"/>
<ellipse cx="182.8" cy="869.8" rx="9.8" ry="9.8" fill="url(#sp)"/>
<ellipse cx="179.5" cy="888.8" rx="15.0" ry="7.0" fill="url(#spg)" transform="rotate(35 179.5 888.8)"/>
<ellipse cx="176.5" cy="914.1" rx="13.0" ry="7.0" fill="url(#spg)" transform="rotate(45 176.5 914.1)"/>
<ellipse cx="180.0" cy="901.3" rx="12.0" ry="5.0" fill="url(#spg)" transform="rotate(-50 180.0 901.3)" opacity="0.55"/>
<ellipse cx="177.0" cy="927.8" rx="12.0" ry="5.0" fill="url(#spg)" transform="rotate(-50 177.0 927.8)" opacity="0.50"/>
<ellipse cx="170.0" cy="881.8" rx="13.5" ry="8.2" fill="url(#sp)" transform="rotate(45 170.0 881.8)"/>
<ellipse cx="187.8" cy="895.3" rx="9.8" ry="9.8" fill="url(#sp)"/>
<ellipse cx="171.4" cy="907.3" rx="13.5" ry="8.2" fill="url(#sp)" transform="rotate(-45 171.4 907.3)"/>
<ellipse cx="182.8" cy="920.9" rx="9.8" ry="9.8" fill="url(#sp)"/>
<ellipse cx="209.8" cy="735.5" rx="15.0" ry="7.0" fill="url(#spg)" transform="rotate(35 209.8 735.5)"/>
<ellipse cx="206.8" cy="760.8" rx="13.0" ry="7.0" fill="url(#spg)" transform="rotate(45 206.8 760.8)"/>
<ellipse cx="210.3" cy="748.0" rx="12.0" ry="5.0" fill="url(#spg)" transform="rotate(-50 210.3 748.0)" opacity="0.55"/>
<ellipse cx="207.3" cy="774.5" rx="12.0" ry="5.0" fill="url(#spg)" transform="rotate(-50 207.3 774.5)" opacity="0.50"/>
<ellipse cx="200.3" cy="728.5" rx="13.5" ry="8.2" fill="url(#sp)" transform="rotate(45 200.3 728.5)"/>
<ellipse cx="218.1" cy="742.0" rx="9.8" ry="9.8" fill="url(#sp)"/>
<ellipse cx="201.7" cy="754.0" rx="13.5" ry="8.2" fill="url(#sp)" transform="rotate(-45 201.7 754.0)"/>
<ellipse cx="213.1" cy="767.6" rx="9.8" ry="9.8" fill="url(#sp)"/>
<ellipse cx="209.8" cy="786.6" rx="15.0" ry="7.0" fill="url(#spg)" transform="rotate(35 209.8 786.6)"/>
<ellipse cx="206.8" cy="811.9" rx="13.0" ry="7.0" fill="url(#spg)" transform="rotate(45 206.8 811.9)"/>
<ellipse cx="210.3" cy="799.1" rx="12.0" ry="5.0" fill="url(#spg)" transform="rotate(-50 210.3 799.1)" opacity="0.55"/>
<ellipse cx="207.3" cy="825.6" rx="12.0" ry="5.0" fill="url(#spg)" transform="rotate(-50 207.3 825.6)" opacity="0.50"/>
<ellipse cx="200.3" cy="779.6" rx="13.5" ry="8.2" fill="url(#sp)" transform="rotate(45 200.3 779.6)"/>
<ellipse cx="218.1" cy="793.1" rx="9.8" ry="9.8" fill="url(#sp)"/>
<ellipse cx="201.7" cy="805.1" rx="13.5" ry="8.2" fill="url(#sp)" transform="rotate(-45 201.7 805.1)"/>
<ellipse cx="213.1" cy="818.7" rx="9.8" ry="9.8" fill="url(#sp)"/>
<ellipse cx="209.8" cy="837.7" rx="15.0" ry="7.0" fill="url(#spg)" transform="rotate(35 209.8 837.7)"/>
<ellipse cx="206.8" cy="863.0" rx="13.0" ry="7.0" fill="url(#spg)" transform="rotate(45 206.8 863.0)"/>
<ellipse cx="210.3" cy="850.2" rx="12.0" ry="5.0" fill="url(#spg)" transform="rotate(-50 210.3 850.2)" opacity="0.55"/>
<ellipse cx="207.3" cy="876.7" rx="12.0" ry="5.0" fill="url(#spg)" transform="rotate(-50 207.3 876.7)" opacity="0.50"/>
<ellipse cx="200.3" cy="830.7" rx="13.5" ry="8.2" fill="url(#sp)" transform="rotate(45 200.3 830.7)"/>
<ellipse cx="218.1" cy="844.2" rx="9.8" ry="9.8" fill="url(#sp)"/>
<ellipse cx="201.7" cy="856.2" rx="13.5" ry="8.2" fill="url(#sp)" transform="rotate(-45 201.7 856.2)"/>
<ellipse cx="213.1" cy="869.8" rx="9.8" ry="9.8" fill="url(#sp)"/>
<ellipse cx="209.8" cy="888.8" rx="15.0" ry="7.0" fill="url(#spg)" transform="rotate(35 209.8 888.8)"/>
<ellipse cx="206.8" cy="914.1" rx="13.0" ry="7.0" fill="url(#spg)" transform="rotate(45 206.8 914.1)"/>
<ellipse cx="210.3" cy="901.3" rx="12.0" ry="5.0" fill="url(#spg)" transform="rotate(-50 210.3 901.3)" opacity="0.55"/>
<ellipse cx="207.3" cy="927.8" rx="12.0" ry="5.0" fill="url(#spg)" transform="rotate(-50 207.3 927.8)" opacity="0.50"/>
<ellipse cx="200.3" cy="881.8" rx="13.5" ry="8.2" fill="url(#sp)" transform="rotate(45 200.3 881.8)"/>
<ellipse cx="218.1" cy="895.3" rx="9.8" ry="9.8" fill="url(#sp)"/>
<ellipse cx="201.7" cy="907.3" rx="13.5" ry="8.2" fill="url(#sp)" transform="rotate(-45 201.7 907.3)"/>
<ellipse cx="213.1" cy="920.9" rx="9.8" ry="9.8" fill="url(#sp)"/>
<ellipse cx="240.1" cy="735.5" rx="15.0" ry="7.0" fill="url(#spg)" transform="rotate(35 240.1 735.5)"/>
<ellipse cx="237.1" cy="760.8" rx="13.0" ry="7.0" fill="url(#spg)" transform="rotate(45 237.1 760.8)"/>
<ellipse cx="240.6" cy="748.0" rx="12.0" ry="5.0" fill="url(#spg)" transform="rotate(-50 240.6 748.0)" opacity="0.55"/>
<ellipse cx="237.6" cy="774.5" rx="12.0" ry="5.0" fill="url(#spg)" transform="rotate(-50 237.6 774.5)" opacity="0.50"/>
<ellipse cx="230.6" cy="728.5" rx="13.5" ry="8.2" fill="url(#sp)" transform="rotate(45 230.6 728.5)"/>
<ellipse cx="248.4" cy="742.0" rx="9.8" ry="9.8" fill="url(#sp)"/>
<ellipse cx="232.0" cy="754.0" rx="13.5" ry="8.2" fill="url(#sp)" transform="rotate(-45 232.0 754.0)"/>
<ellipse cx="243.4" cy="767.6" rx="9.8" ry="9.8" fill="url(#sp)"/>
<ellipse cx="240.1" cy="786.6" rx="15.0" ry="7.0" fill="url(#spg)" transform="rotate(35 240.1 786.6)"/>
<ellipse cx="237.1" cy="811.9" rx="13.0" ry="7.0" fill="url(#spg)" transform="rotate(45 237.1 811.9)"/>
<ellipse cx="240.6" cy="799.1" rx="12.0" ry="5.0" fill="url(#spg)" transform="rotate(-50 240.6 799.1)" opacity="0.55"/>
<ellipse cx="237.6" cy="825.6" rx="12.0" ry="5.0" fill="url(#spg)" transform="rotate(-50 237.6 825.6)" opacity="0.50"/>
<ellipse cx="230.6" cy="779.6" rx="13.5" ry="8.2" fill="url(#sp)" transform="rotate(45 230.6 779.6)"/>
<ellipse cx="248.4" cy="793.1" rx="9.8" ry="9.8" fill="url(#sp)"/>
<ellipse cx="232.0" cy="805.1" rx="13.5" ry="8.2" fill="url(#sp)" transform="rotate(-45 232.0 805.1)"/>
<ellipse cx="243.4" cy="818.7" rx="9.8" ry="9.8" fill="url(#sp)"/>
<ellipse cx="240.1" cy="837.7" rx="15.0" ry="7.0" fill="url(#spg)" transform="rotate(35 240.1 837.7)"/>
<ellipse cx="237.1" cy="863.0" rx="13.0" ry="7.0" fill="url(#spg)" transform="rotate(45 237.1 863.0)"/>
<ellipse cx="240.6" cy="850.2" rx="12.0" ry="5.0" fill="url(#spg)" transform="rotate(-50 240.6 850.2)" opacity="0.55"/>
<ellipse cx="237.6" cy="876.7" rx="12.0" ry="5.0" fill="url(#spg)" transform="rotate(-50 237.6 876.7)" opacity="0.50"/>
<ellipse cx="230.6" cy="830.7" rx="13.5" ry="8.2" fill="url(#sp)" transform="rotate(45 230.6 830.7)"/>
<ellipse cx="248.4" cy="844.2" rx="9.8" ry="9.8" fill="url(#sp)"/>
<ellipse cx="232.0" cy="856.2" rx="13.5" ry="8.2" fill="url(#sp)" transform="rotate(-45 232.0 856.2)"/>
<ellipse cx="243.4" cy="869.8" rx="9.8" ry="9.8" fill="url(#sp)"/>
<ellipse cx="240.1" cy="888.8" rx="15.0" ry="7.0" fill="url(#spg)" transform="rotate(35 240.1 888.8)"/>
<ellipse cx="237.1" cy="914.1" rx="13.0" ry="7.0" fill="url(#spg)" transform="rotate(45 237.1 914.1)"/>
<ellipse cx="240.6" cy="901.3" rx="12.0" ry="5.0" fill="url(#spg)" transform="rotate(-50 240.6 901.3)" opacity="0.55"/>
<ellipse cx="237.6" cy="927.8" rx="12.0" ry="5.0" fill="url(#spg)" transform="rotate(-50 237.6 927.8)" opacity="0.50"/>
<ellipse cx="230.6" cy="881.8" rx="13.5" ry="8.2" fill="url(#sp)" transform="rotate(45 230.6 881.8)"/>
<ellipse cx="248.4" cy="895.3" rx="9.8" ry="9.8" fill="url(#sp)"/>
<ellipse cx="232.0" cy="907.3" rx="13.5" ry="8.2" fill="url(#sp)" transform="rotate(-45 232.0 907.3)"/>
<ellipse cx="243.4" cy="920.9" rx="9.8" ry="9.8" fill="url(#sp)"/>
<ellipse cx="270.4" cy="735.5" rx="15.0" ry="7.0" fill="url(#spg)" transform="rotate(35 270.4 735.5)"/>
<ellipse cx="267.4" cy="760.8" rx="13.0" ry="7.0" fill="url(#spg)" transform="rotate(45 267.4 760.8)"/>
<ellipse cx="270.9" cy="748.0" rx="12.0" ry="5.0" fill="url(#spg)" transform="rotate(-50 270.9 748.0)" opacity="0.55"/>
<ellipse cx="267.9" cy="774.5" rx="12.0" ry="5.0" fill="url(#spg)" transform="rotate(-50 267.9 774.5)" opacity="0.50"/>
<ellipse cx="260.9" cy="728.5" rx="13.5" ry="8.2" fill="url(#sp)" transform="rotate(45 260.9 728.5)"/>
<ellipse cx="278.7" cy="742.0" rx="9.8" ry="9.8" fill="url(#sp)"/>
<ellipse cx="262.3" cy="754.0" rx="13.5" ry="8.2" fill="url(#sp)" transform="rotate(-45 262.3 754.0)"/>
<ellipse cx="273.7" cy="767.6" rx="9.8" ry="9.8" fill="url(#sp)"/>
<ellipse cx="270.4" cy="786.6" rx="15.0" ry="7.0" fill="url(#spg)" transform="rotate(35 270.4 786.6)"/>
<ellipse cx="267.4" cy="811.9" rx="13.0" ry="7.0" fill="url(#spg)" transform="rotate(45 267.4 811.9)"/>
<ellipse cx="270.9" cy="799.1" rx="12.0" ry="5.0" fill="url(#spg)" transform="rotate(-50 270.9 799.1)" opacity="0.55"/>
<ellipse cx="267.9" cy="825.6" rx="12.0" ry="5.0" fill="url(#spg)" transform="rotate(-50 267.9 825.6)" opacity="0.50"/>
<ellipse cx="260.9" cy="779.6" rx="13.5" ry="8.2" fill="url(#sp)" transform="rotate(45 260.9 779.6)"/>
<ellipse cx="278.7" cy="793.1" rx="9.8" ry="9.8" fill="url(#sp)"/>
<ellipse cx="262.3" cy="805.1" rx="13.5" ry="8.2" fill="url(#sp)" transform="rotate(-45 262.3 805.1)"/>
<ellipse cx="273.7" cy="818.7" rx="9.8" ry="9.8" fill="url(#sp)"/>
<ellipse cx="270.4" cy="837.7" rx="15.0" ry="7.0" fill="url(#spg)" transform="rotate(35 270.4 837.7)"/>
<ellipse cx="267.4" cy="863.0" rx="13.0" ry="7.0" fill="url(#spg)" transform="rotate(45 267.4 863.0)"/>
<ellipse cx="270.9" cy="850.2" rx="12.0" ry="5.0" fill="url(#spg)" transform="rotate(-50 270.9 850.2)" opacity="0.55"/>
<ellipse cx="267.9" cy="876.7" rx="12.0" ry="5.0" fill="url(#spg)" transform="rotate(-50 267.9 876.7)" opacity="0.50"/>
<ellipse cx="260.9" cy="830.7" rx="13.5" ry="8.2" fill="url(#sp)" transform="rotate(45 260.9 830.7)"/>
<ellipse cx="278.7" cy="844.2" rx="9.8" ry="9.8" fill="url(#sp)"/>
<ellipse cx="262.3" cy="856.2" rx="13.5" ry="8.2" fill="url(#sp)" transform="rotate(-45 262.3 856.2)"/>
<ellipse cx="273.7" cy="869.8" rx="9.8" ry="9.8" fill="url(#sp)"/>
<ellipse cx="270.4" cy="888.8" rx="15.0" ry="7.0" fill="url(#spg)" transform="rotate(35 270.4 888.8)"/>
<ellipse cx="267.4" cy="914.1" rx="13.0" ry="7.0" fill="url(#spg)" transform="rotate(45 267.4 914.1)"/>
<ellipse cx="270.9" cy="901.3" rx="12.0" ry="5.0" fill="url(#spg)" transform="rotate(-50 270.9 901.3)" opacity="0.55"/>
<ellipse cx="267.9" cy="927.8" rx="12.0" ry="5.0" fill="url(#spg)" transform="rotate(-50 267.9 927.8)" opacity="0.50"/>
<ellipse cx="260.9" cy="881.8" rx="13.5" ry="8.2" fill="url(#sp)" transform="rotate(45 260.9 881.8)"/>
<ellipse cx="278.7" cy="895.3" rx="9.8" ry="9.8" fill="url(#sp)"/>
<ellipse cx="262.3" cy="907.3" rx="13.5" ry="8.2" fill="url(#sp)" transform="rotate(-45 262.3 907.3)"/>
<ellipse cx="273.7" cy="920.9" rx="9.8" ry="9.8" fill="url(#sp)"/>
<ellipse cx="300.7" cy="735.5" rx="15.0" ry="7.0" fill="url(#spg)" transform="rotate(35 300.7 735.5)"/>
<ellipse cx="297.7" cy="760.8" rx="13.0" ry="7.0" fill="url(#spg)" transform="rotate(45 297.7 760.8)"/>
<ellipse cx="301.2" cy="748.0" rx="12.0" ry="5.0" fill="url(#spg)" transform="rotate(-50 301.2 748.0)" opacity="0.55"/>
<ellipse cx="298.2" cy="774.5" rx="12.0" ry="5.0" fill="url(#spg)" transform="rotate(-50 298.2 774.5)" opacity="0.50"/>
<ellipse cx="291.2" cy="728.5" rx="13.5" ry="8.2" fill="url(#sp)" transform="rotate(45 291.2 728.5)"/>
<ellipse cx="309.0" cy="742.0" rx="9.8" ry="9.8" fill="url(#sp)"/>
<ellipse cx="292.6" cy="754.0" rx="13.5" ry="8.2" fill="url(#sp)" transform="rotate(-45 292.6 754.0)"/>
<ellipse cx="304.0" cy="767.6" rx="9.8" ry="9.8" fill="url(#sp)"/>
<ellipse cx="300.7" cy="786.6" rx="15.0" ry="7.0" fill="url(#spg)" transform="rotate(35 300.7 786.6)"/>
<ellipse cx="297.7" cy="811.9" rx="13.0" ry="7.0" fill="url(#spg)" transform="rotate(45 297.7 811.9)"/>
<ellipse cx="301.2" cy="799.1" rx="12.0" ry="5.0" fill="url(#spg)" transform="rotate(-50 301.2 799.1)" opacity="0.55"/>
<ellipse cx="298.2" cy="825.6" rx="12.0" ry="5.0" fill="url(#spg)" transform="rotate(-50 298.2 825.6)" opacity="0.50"/>
<ellipse cx="291.2" cy="779.6" rx="13.5" ry="8.2" fill="url(#sp)" transform="rotate(45 291.2 779.6)"/>
<ellipse cx="309.0" cy="793.1" rx="9.8" ry="9.8" fill="url(#sp)"/>
<ellipse cx="292.6" cy="805.1" rx="13.5" ry="8.2" fill="url(#sp)" transform="rotate(-45 292.6 805.1)"/>
<ellipse cx="304.0" cy="818.7" rx="9.8" ry="9.8" fill="url(#sp)"/>
<ellipse cx="300.7" cy="837.7" rx="15.0" ry="7.0" fill="url(#spg)" transform="rotate(35 300.7 837.7)"/>
<ellipse cx="297.7" cy="863.0" rx="13.0" ry="7.0" fill="url(#spg)" transform="rotate(45 297.7 863.0)"/>
<ellipse cx="301.2" cy="850.2" rx="12.0" ry="5.0" fill="url(#spg)" transform="rotate(-50 301.2 850.2)" opacity="0.55"/>
<ellipse cx="298.2" cy="876.7" rx="12.0" ry="5.0" fill="url(#spg)" transform="rotate(-50 298.2 876.7)" opacity="0.50"/>
<ellipse cx="291.2" cy="830.7" rx="13.5" ry="8.2" fill="url(#sp)" transform="rotate(45 291.2 830.7)"/>
<ellipse cx="309.0" cy="844.2" rx="9.8" ry="9.8" fill="url(#sp)"/>
<ellipse cx="292.6" cy="856.2" rx="13.5" ry="8.2" fill="url(#sp)" transform="rotate(-45 292.6 856.2)"/>
<ellipse cx="304.0" cy="869.8" rx="9.8" ry="9.8" fill="url(#sp)"/>
<ellipse cx="300.7" cy="888.8" rx="15.0" ry="7.0" fill="url(#spg)" transform="rotate(35 300.7 888.8)"/>
<ellipse cx="297.7" cy="914.1" rx="13.0" ry="7.0" fill="url(#spg)" transform="rotate(45 297.7 914.1)"/>
<ellipse cx="301.2" cy="901.3" rx="12.0" ry="5.0" fill="url(#spg)" transform="rotate(-50 301.2 901.3)" opacity="0.55"/>
<ellipse cx="298.2" cy="927.8" rx="12.0" ry="5.0" fill="url(#spg)" transform="rotate(-50 298.2 927.8)" opacity="0.50"/>
<ellipse cx="291.2" cy="881.8" rx="13.5" ry="8.2" fill="url(#sp)" transform="rotate(45 291.2 881.8)"/>
<ellipse cx="309.0" cy="895.3" rx="9.8" ry="9.8" fill="url(#sp)"/>
<ellipse cx="292.6" cy="907.3" rx="13.5" ry="8.2" fill="url(#sp)" transform="rotate(-45 292.6 907.3)"/>
<ellipse cx="304.0" cy="920.9" rx="9.8" ry="9.8" fill="url(#sp)"/>
<ellipse cx="331.0" cy="735.5" rx="15.0" ry="7.0" fill="url(#spg)" transform="rotate(35 331.0 735.5)"/>
<ellipse cx="328.0" cy="760.8" rx="13.0" ry="7.0" fill="url(#spg)" transform="rotate(45 328.0 760.8)"/>
<ellipse cx="331.5" cy="748.0" rx="12.0" ry="5.0" fill="url(#spg)" transform="rotate(-50 331.5 748.0)" opacity="0.55"/>
<ellipse cx="328.5" cy="774.5" rx="12.0" ry="5.0" fill="url(#spg)" transform="rotate(-50 328.5 774.5)" opacity="0.50"/>
<ellipse cx="339.3" cy="742.0" rx="9.8" ry="9.8" fill="url(#sp)"/>
<ellipse cx="322.9" cy="754.0" rx="13.5" ry="8.2" fill="url(#sp)" transform="rotate(-45 322.9 754.0)"/>
<ellipse cx="334.3" cy="767.6" rx="9.8" ry="9.8" fill="url(#sp)"/>
<ellipse cx="331.0" cy="786.6" rx="15.0" ry="7.0" fill="url(#spg)" transform="rotate(35 331.0 786.6)"/>
<ellipse cx="328.0" cy="811.9" rx="13.0" ry="7.0" fill="url(#spg)" transform="rotate(45 328.0 811.9)"/>
<ellipse cx="331.5" cy="799.1" rx="12.0" ry="5.0" fill="url(#spg)" transform="rotate(-50 331.5 799.1)" opacity="0.55"/>
<ellipse cx="328.5" cy="825.6" rx="12.0" ry="5.0" fill="url(#spg)" transform="rotate(-50 328.5 825.6)" opacity="0.50"/>
<ellipse cx="321.5" cy="779.6" rx="13.5" ry="8.2" fill="url(#sp)" transform="rotate(45 321.5 779.6)"/>
<ellipse cx="339.3" cy="793.1" rx="9.8" ry="9.8" fill="url(#sp)"/>
<ellipse cx="322.9" cy="805.1" rx="13.5" ry="8.2" fill="url(#sp)" transform="rotate(-45 322.9 805.1)"/>
<ellipse cx="334.3" cy="818.7" rx="9.8" ry="9.8" fill="url(#sp)"/>
<ellipse cx="331.0" cy="837.7" rx="15.0" ry="7.0" fill="url(#spg)" transform="rotate(35 331.0 837.7)"/>
<ellipse cx="328.0" cy="863.0" rx="13.0" ry="7.0" fill="url(#spg)" transform="rotate(45 328.0 863.0)"/>
<ellipse cx="331.5" cy="850.2" rx="12.0" ry="5.0" fill="url(#spg)" transform="rotate(-50 331.5 850.2)" opacity="0.55"/>
<ellipse cx="328.5" cy="876.7" rx="12.0" ry="5.0" fill="url(#spg)" transform="rotate(-50 328.5 876.7)" opacity="0.50"/>
<ellipse cx="321.5" cy="830.7" rx="13.5" ry="8.2" fill="url(#sp)" transform="rotate(45 321.5 830.7)"/>
<ellipse cx="339.3" cy="844.2" rx="9.8" ry="9.8" fill="url(#sp)"/>
<ellipse cx="322.9" cy="856.2" rx="13.5" ry="8.2" fill="url(#sp)" transform="rotate(-45 322.9 856.2)"/>
<ellipse cx="334.3" cy="869.8" rx="9.8" ry="9.8" fill="url(#sp)"/>
<ellipse cx="331.0" cy="888.8" rx="15.0" ry="7.0" fill="url(#spg)" transform="rotate(35 331.0 888.8)"/>
<ellipse cx="328.0" cy="914.1" rx="13.0" ry="7.0" fill="url(#spg)" transform="rotate(45 328.0 914.1)"/>
<ellipse cx="331.5" cy="901.3" rx="12.0" ry="5.0" fill="url(#spg)" transform="rotate(-50 331.5 901.3)" opacity="0.55"/>
<ellipse cx="328.5" cy="927.8" rx="12.0" ry="5.0" fill="url(#spg)" transform="rotate(-50 328.5 927.8)" opacity="0.50"/>
<ellipse cx="321.5" cy="881.8" rx="13.5" ry="8.2" fill="url(#sp)" transform="rotate(45 321.5 881.8)"/>
<ellipse cx="339.3" cy="895.3" rx="9.8" ry="9.8" fill="url(#sp)"/>
<ellipse cx="322.9" cy="907.3" rx="13.5" ry="8.2" fill="url(#sp)" transform="rotate(-45 322.9 907.3)"/>
<ellipse cx="334.3" cy="920.9" rx="9.8" ry="9.8" fill="url(#sp)"/>
<ellipse cx="361.3" cy="735.5" rx="15.0" ry="7.0" fill="url(#spg)" transform="rotate(35 361.3 735.5)"/>
<ellipse cx="358.3" cy="760.8" rx="13.0" ry="7.0" fill="url(#spg)" transform="rotate(45 358.3 760.8)"/>
<ellipse cx="361.8" cy="748.0" rx="12.0" ry="5.0" fill="url(#spg)" transform="rotate(-50 361.8 748.0)" opacity="0.55"/>
<ellipse cx="358.8" cy="774.5" rx="12.0" ry="5.0" fill="url(#spg)" transform="rotate(-50 358.8 774.5)" opacity="0.50"/>
<ellipse cx="369.6" cy="742.0" rx="9.8" ry="9.8" fill="url(#sp)"/>
<ellipse cx="353.2" cy="754.0" rx="13.5" ry="8.2" fill="url(#sp)" transform="rotate(-45 353.2 754.0)"/>
<ellipse cx="364.6" cy="767.6" rx="9.8" ry="9.8" fill="url(#sp)"/>
<ellipse cx="361.3" cy="786.6" rx="15.0" ry="7.0" fill="url(#spg)" transform="rotate(35 361.3 786.6)"/>
<ellipse cx="358.3" cy="811.9" rx="13.0" ry="7.0" fill="url(#spg)" transform="rotate(45 358.3 811.9)"/>
<ellipse cx="361.8" cy="799.1" rx="12.0" ry="5.0" fill="url(#spg)" transform="rotate(-50 361.8 799.1)" opacity="0.55"/>
<ellipse cx="358.8" cy="825.6" rx="12.0" ry="5.0" fill="url(#spg)" transform="rotate(-50 358.8 825.6)" opacity="0.50"/>
<ellipse cx="351.8" cy="779.6" rx="13.5" ry="8.2" fill="url(#sp)" transform="rotate(45 351.8 779.6)"/>
<ellipse cx="369.6" cy="793.1" rx="9.8" ry="9.8" fill="url(#sp)"/>
<ellipse cx="353.2" cy="805.1" rx="13.5" ry="8.2" fill="url(#sp)" transform="rotate(-45 353.2 805.1)"/>
<ellipse cx="364.6" cy="818.7" rx="9.8" ry="9.8" fill="url(#sp)"/>
<ellipse cx="361.3" cy="837.7" rx="15.0" ry="7.0" fill="url(#spg)" transform="rotate(35 361.3 837.7)"/>
<ellipse cx="358.3" cy="863.0" rx="13.0" ry="7.0" fill="url(#spg)" transform="rotate(45 358.3 863.0)"/>
<ellipse cx="361.8" cy="850.2" rx="12.0" ry="5.0" fill="url(#spg)" transform="rotate(-50 361.8 850.2)" opacity="0.55"/>
<ellipse cx="358.8" cy="876.7" rx="12.0" ry="5.0" fill="url(#spg)" transform="rotate(-50 358.8 876.7)" opacity="0.50"/>
<ellipse cx="351.8" cy="830.7" rx="13.5" ry="8.2" fill="url(#sp)" transform="rotate(45 351.8 830.7)"/>
<ellipse cx="369.6" cy="844.2" rx="9.8" ry="9.8" fill="url(#sp)"/>
<ellipse cx="353.2" cy="856.2" rx="13.5" ry="8.2" fill="url(#sp)" transform="rotate(-45 353.2 856.2)"/>
<ellipse cx="364.6" cy="869.8" rx="9.8" ry="9.8" fill="url(#sp)"/>
<ellipse cx="361.3" cy="888.8" rx="15.0" ry="7.0" fill="url(#spg)" transform="rotate(35 361.3 888.8)"/>
<ellipse cx="358.3" cy="914.1" rx="13.0" ry="7.0" fill="url(#spg)" transform="rotate(45 358.3 914.1)"/>
<ellipse cx="361.8" cy="901.3" rx="12.0" ry="5.0" fill="url(#spg)" transform="rotate(-50 361.8 901.3)" opacity="0.55"/>
<ellipse cx="358.8" cy="927.8" rx="12.0" ry="5.0" fill="url(#spg)" transform="rotate(-50 358.8 927.8)" opacity="0.50"/>
<ellipse cx="351.8" cy="881.8" rx="13.5" ry="8.2" fill="url(#sp)" transform="rotate(45 351.8 881.8)"/>
<ellipse cx="369.6" cy="895.3" rx="9.8" ry="9.8" fill="url(#sp)"/>
<ellipse cx="353.2" cy="907.3" rx="13.5" ry="8.2" fill="url(#sp)" transform="rotate(-45 353.2 907.3)"/>
<ellipse cx="364.6" cy="920.9" rx="9.8" ry="9.8" fill="url(#sp)"/>
<ellipse cx="391.6" cy="735.5" rx="15.0" ry="7.0" fill="url(#spg)" transform="rotate(35 391.6 735.5)"/>
<ellipse cx="388.6" cy="760.8" rx="13.0" ry="7.0" fill="url(#spg)" transform="rotate(45 388.6 760.8)"/>
<ellipse cx="392.1" cy="748.0" rx="12.0" ry="5.0" fill="url(#spg)" transform="rotate(-50 392.1 748.0)" opacity="0.55"/>
<ellipse cx="389.1" cy="774.5" rx="12.0" ry="5.0" fill="url(#spg)" transform="rotate(-50 389.1 774.5)" opacity="0.50"/>
<ellipse cx="399.9" cy="742.0" rx="9.8" ry="9.8" fill="url(#sp)"/>
<ellipse cx="383.5" cy="754.0" rx="13.5" ry="8.2" fill="url(#sp)" transform="rotate(-45 383.5 754.0)"/>
<ellipse cx="394.9" cy="767.6" rx="9.8" ry="9.8" fill="url(#sp)"/>
<ellipse cx="391.6" cy="786.6" rx="15.0" ry="7.0" fill="url(#spg)" transform="rotate(35 391.6 786.6)"/>
<ellipse cx="388.6" cy="811.9" rx="13.0" ry="7.0" fill="url(#spg)" transform="rotate(45 388.6 811.9)"/>
<ellipse cx="392.1" cy="799.1" rx="12.0" ry="5.0" fill="url(#spg)" transform="rotate(-50 392.1 799.1)" opacity="0.55"/>
<ellipse cx="389.1" cy="825.6" rx="12.0" ry="5.0" fill="url(#spg)" transform="rotate(-50 389.1 825.6)" opacity="0.50"/>
<ellipse cx="382.1" cy="779.6" rx="13.5" ry="8.2" fill="url(#sp)" transform="rotate(45 382.1 779.6)"/>
<ellipse cx="399.9" cy="793.1" rx="9.8" ry="9.8" fill="url(#sp)"/>
<ellipse cx="383.5" cy="805.1" rx="13.5" ry="8.2" fill="url(#sp)" transform="rotate(-45 383.5 805.1)"/>
<ellipse cx="394.9" cy="818.7" rx="9.8" ry="9.8" fill="url(#sp)"/>
<ellipse cx="391.6" cy="837.7" rx="15.0" ry="7.0" fill="url(#spg)" transform="rotate(35 391.6 837.7)"/>
<ellipse cx="388.6" cy="863.0" rx="13.0" ry="7.0" fill="url(#spg)" transform="rotate(45 388.6 863.0)"/>
<ellipse cx="392.1" cy="850.2" rx="12.0" ry="5.0" fill="url(#spg)" transform="rotate(-50 392.1 850.2)" opacity="0.55"/>
<ellipse cx="389.1" cy="876.7" rx="12.0" ry="5.0" fill="url(#spg)" transform="rotate(-50 389.1 876.7)" opacity="0.50"/>
<ellipse cx="382.1" cy="830.7" rx="13.5" ry="8.2" fill="url(#sp)" transform="rotate(45 382.1 830.7)"/>
<ellipse cx="399.9" cy="844.2" rx="9.8" ry="9.8" fill="url(#sp)"/>
<ellipse cx="383.5" cy="856.2" rx="13.5" ry="8.2" fill="url(#sp)" transform="rotate(-45 383.5 856.2)"/>
<ellipse cx="394.9" cy="869.8" rx="9.8" ry="9.8" fill="url(#sp)"/>
<ellipse cx="391.6" cy="888.8" rx="15.0" ry="7.0" fill="url(#spg)" transform="rotate(35 391.6 888.8)"/>
<ellipse cx="388.6" cy="914.1" rx="13.0" ry="7.0" fill="url(#spg)" transform="rotate(45 388.6 914.1)"/>
<ellipse cx="392.1" cy="901.3" rx="12.0" ry="5.0" fill="url(#spg)" transform="rotate(-50 392.1 901.3)" opacity="0.55"/>
<ellipse cx="389.1" cy="927.8" rx="12.0" ry="5.0" fill="url(#spg)" transform="rotate(-50 389.1 927.8)" opacity="0.50"/>
<ellipse cx="382.1" cy="881.8" rx="13.5" ry="8.2" fill="url(#sp)" transform="rotate(45 382.1 881.8)"/>
<ellipse cx="399.9" cy="895.3" rx="9.8" ry="9.8" fill="url(#sp)"/>
<ellipse cx="383.5" cy="907.3" rx="13.5" ry="8.2" fill="url(#sp)" transform="rotate(-45 383.5 907.3)"/>
<ellipse cx="394.9" cy="920.9" rx="9.8" ry="9.8" fill="url(#sp)"/>
<ellipse cx="421.9" cy="735.5" rx="15.0" ry="7.0" fill="url(#spg)" transform="rotate(35 421.9 735.5)"/>
<ellipse cx="418.9" cy="760.8" rx="13.0" ry="7.0" fill="url(#spg)" transform="rotate(45 418.9 760.8)"/>
<ellipse cx="422.4" cy="748.0" rx="12.0" ry="5.0" fill="url(#spg)" transform="rotate(-50 422.4 748.0)" opacity="0.55"/>
<ellipse cx="419.4" cy="774.5" rx="12.0" ry="5.0" fill="url(#spg)" transform="rotate(-50 419.4 774.5)" opacity="0.50"/>
<ellipse cx="430.2" cy="742.0" rx="9.8" ry="9.8" fill="url(#sp)"/>
<ellipse cx="413.8" cy="754.0" rx="13.5" ry="8.2" fill="url(#sp)" transform="rotate(-45 413.8 754.0)"/>
<ellipse cx="425.2" cy="767.6" rx="9.8" ry="9.8" fill="url(#sp)"/>
<ellipse cx="421.9" cy="786.6" rx="15.0" ry="7.0" fill="url(#spg)" transform="rotate(35 421.9 786.6)"/>
<ellipse cx="418.9" cy="811.9" rx="13.0" ry="7.0" fill="url(#spg)" transform="rotate(45 418.9 811.9)"/>
<ellipse cx="422.4" cy="799.1" rx="12.0" ry="5.0" fill="url(#spg)" transform="rotate(-50 422.4 799.1)" opacity="0.55"/>
<ellipse cx="419.4" cy="825.6" rx="12.0" ry="5.0" fill="url(#spg)" transform="rotate(-50 419.4 825.6)" opacity="0.50"/>
<ellipse cx="412.4" cy="779.6" rx="13.5" ry="8.2" fill="url(#sp)" transform="rotate(45 412.4 779.6)"/>
<ellipse cx="430.2" cy="793.1" rx="9.8" ry="9.8" fill="url(#sp)"/>
<ellipse cx="413.8" cy="805.1" rx="13.5" ry="8.2" fill="url(#sp)" transform="rotate(-45 413.8 805.1)"/>
<ellipse cx="425.2" cy="818.7" rx="9.8" ry="9.8" fill="url(#sp)"/>
<ellipse cx="421.9" cy="837.7" rx="15.0" ry="7.0" fill="url(#spg)" transform="rotate(35 421.9 837.7)"/>
<ellipse cx="418.9" cy="863.0" rx="13.0" ry="7.0" fill="url(#spg)" transform="rotate(45 418.9 863.0)"/>
<ellipse cx="422.4" cy="850.2" rx="12.0" ry="5.0" fill="url(#spg)" transform="rotate(-50 422.4 850.2)" opacity="0.55"/>
<ellipse cx="419.4" cy="876.7" rx="12.0" ry="5.0" fill="url(#spg)" transform="rotate(-50 419.4 876.7)" opacity="0.50"/>
<ellipse cx="412.4" cy="830.7" rx="13.5" ry="8.2" fill="url(#sp)" transform="rotate(45 412.4 830.7)"/>
<ellipse cx="430.2" cy="844.2" rx="9.8" ry="9.8" fill="url(#sp)"/>
<ellipse cx="413.8" cy="856.2" rx="13.5" ry="8.2" fill="url(#sp)" transform="rotate(-45 413.8 856.2)"/>
<ellipse cx="425.2" cy="869.8" rx="9.8" ry="9.8" fill="url(#sp)"/>
<ellipse cx="421.9" cy="888.8" rx="15.0" ry="7.0" fill="url(#spg)" transform="rotate(35 421.9 888.8)"/>
<ellipse cx="418.9" cy="914.1" rx="13.0" ry="7.0" fill="url(#spg)" transform="rotate(45 418.9 914.1)"/>
<ellipse cx="422.4" cy="901.3" rx="12.0" ry="5.0" fill="url(#spg)" transform="rotate(-50 422.4 901.3)" opacity="0.55"/>
<ellipse cx="419.4" cy="927.8" rx="12.0" ry="5.0" fill="url(#spg)" transform="rotate(-50 419.4 927.8)" opacity="0.50"/>
<ellipse cx="412.4" cy="881.8" rx="13.5" ry="8.2" fill="url(#sp)" transform="rotate(45 412.4 881.8)"/>
<ellipse cx="430.2" cy="895.3" rx="9.8" ry="9.8" fill="url(#sp)"/>
<ellipse cx="413.8" cy="907.3" rx="13.5" ry="8.2" fill="url(#sp)" transform="rotate(-45 413.8 907.3)"/>
<ellipse cx="425.2" cy="920.9" rx="9.8" ry="9.8" fill="url(#sp)"/>
<ellipse cx="452.2" cy="735.5" rx="15.0" ry="7.0" fill="url(#spg)" transform="rotate(35 452.2 735.5)"/>
<ellipse cx="449.2" cy="760.8" rx="13.0" ry="7.0" fill="url(#spg)" transform="rotate(45 449.2 760.8)"/>
<ellipse cx="452.7" cy="748.0" rx="12.0" ry="5.0" fill="url(#spg)" transform="rotate(-50 452.7 748.0)" opacity="0.55"/>
<ellipse cx="449.7" cy="774.5" rx="12.0" ry="5.0" fill="url(#spg)" transform="rotate(-50 449.7 774.5)" opacity="0.50"/>
<ellipse cx="460.5" cy="742.0" rx="9.8" ry="9.8" fill="url(#sp)"/>
<ellipse cx="444.1" cy="754.0" rx="13.5" ry="8.2" fill="url(#sp)" transform="rotate(-45 444.1 754.0)"/>
<ellipse cx="455.5" cy="767.6" rx="9.8" ry="9.8" fill="url(#sp)"/>
<ellipse cx="452.2" cy="786.6" rx="15.0" ry="7.0" fill="url(#spg)" transform="rotate(35 452.2 786.6)"/>
<ellipse cx="449.2" cy="811.9" rx="13.0" ry="7.0" fill="url(#spg)" transform="rotate(45 449.2 811.9)"/>
<ellipse cx="452.7" cy="799.1" rx="12.0" ry="5.0" fill="url(#spg)" transform="rotate(-50 452.7 799.1)" opacity="0.55"/>
<ellipse cx="449.7" cy="825.6" rx="12.0" ry="5.0" fill="url(#spg)" transform="rotate(-50 449.7 825.6)" opacity="0.50"/>
<ellipse cx="442.7" cy="779.6" rx="13.5" ry="8.2" fill="url(#sp)" transform="rotate(45 442.7 779.6)"/>
<ellipse cx="460.5" cy="793.1" rx="9.8" ry="9.8" fill="url(#sp)"/>
<ellipse cx="444.1" cy="805.1" rx="13.5" ry="8.2" fill="url(#sp)" transform="rotate(-45 444.1 805.1)"/>
<ellipse cx="455.5" cy="818.7" rx="9.8" ry="9.8" fill="url(#sp)"/>
<ellipse cx="452.2" cy="837.7" rx="15.0" ry="7.0" fill="url(#spg)" transform="rotate(35 452.2 837.7)"/>
<ellipse cx="449.2" cy="863.0" rx="13.0" ry="7.0" fill="url(#spg)" transform="rotate(45 449.2 863.0)"/>
<ellipse cx="452.7" cy="850.2" rx="12.0" ry="5.0" fill="url(#spg)" transform="rotate(-50 452.7 850.2)" opacity="0.55"/>
<ellipse cx="449.7" cy="876.7" rx="12.0" ry="5.0" fill="url(#spg)" transform="rotate(-50 449.7 876.7)" opacity="0.50"/>
<ellipse cx="442.7" cy="830.7" rx="13.5" ry="8.2" fill="url(#sp)" transform="rotate(45 442.7 830.7)"/>
<ellipse cx="460.5" cy="844.2" rx="9.8" ry="9.8" fill="url(#sp)"/>
<ellipse cx="444.1" cy="856.2" rx="13.5" ry="8.2" fill="url(#sp)" transform="rotate(-45 444.1 856.2)"/>
<ellipse cx="455.5" cy="869.8" rx="9.8" ry="9.8" fill="url(#sp)"/>
<ellipse cx="452.2" cy="888.8" rx="15.0" ry="7.0" fill="url(#spg)" transform="rotate(35 452.2 888.8)"/>
<ellipse cx="449.2" cy="914.1" rx="13.0" ry="7.0" fill="url(#spg)" transform="rotate(45 449.2 914.1)"/>
<ellipse cx="452.7" cy="901.3" rx="12.0" ry="5.0" fill="url(#spg)" transform="rotate(-50 452.7 901.3)" opacity="0.55"/>
<ellipse cx="449.7" cy="927.8" rx="12.0" ry="5.0" fill="url(#spg)" transform="rotate(-50 449.7 927.8)" opacity="0.50"/>
<ellipse cx="442.7" cy="881.8" rx="13.5" ry="8.2" fill="url(#sp)" transform="rotate(45 442.7 881.8)"/>
<ellipse cx="460.5" cy="895.3" rx="9.8" ry="9.8" fill="url(#sp)"/>
<ellipse cx="444.1" cy="907.3" rx="13.5" ry="8.2" fill="url(#sp)" transform="rotate(-45 444.1 907.3)"/>
<ellipse cx="455.5" cy="920.9" rx="9.8" ry="9.8" fill="url(#sp)"/>
<ellipse cx="482.5" cy="735.5" rx="15.0" ry="7.0" fill="url(#spg)" transform="rotate(35 482.5 735.5)"/>
<ellipse cx="479.5" cy="760.8" rx="13.0" ry="7.0" fill="url(#spg)" transform="rotate(45 479.5 760.8)"/>
<ellipse cx="483.0" cy="748.0" rx="12.0" ry="5.0" fill="url(#spg)" transform="rotate(-50 483.0 748.0)" opacity="0.55"/>
<ellipse cx="480.0" cy="774.5" rx="12.0" ry="5.0" fill="url(#spg)" transform="rotate(-50 480.0 774.5)" opacity="0.50"/>
<ellipse cx="490.8" cy="742.0" rx="9.8" ry="9.8" fill="url(#sp)"/>
<ellipse cx="474.4" cy="754.0" rx="13.5" ry="8.2" fill="url(#sp)" transform="rotate(-45 474.4 754.0)"/>
<ellipse cx="485.8" cy="767.6" rx="9.8" ry="9.8" fill="url(#sp)"/>
<ellipse cx="482.5" cy="786.6" rx="15.0" ry="7.0" fill="url(#spg)" transform="rotate(35 482.5 786.6)"/>
<ellipse cx="479.5" cy="811.9" rx="13.0" ry="7.0" fill="url(#spg)" transform="rotate(45 479.5 811.9)"/>
<ellipse cx="483.0" cy="799.1" rx="12.0" ry="5.0" fill="url(#spg)" transform="rotate(-50 483.0 799.1)" opacity="0.55"/>
<ellipse cx="480.0" cy="825.6" rx="12.0" ry="5.0" fill="url(#spg)" transform="rotate(-50 480.0 825.6)" opacity="0.50"/>
<ellipse cx="473.0" cy="779.6" rx="13.5" ry="8.2" fill="url(#sp)" transform="rotate(45 473.0 779.6)"/>
<ellipse cx="490.8" cy="793.1" rx="9.8" ry="9.8" fill="url(#sp)"/>
<ellipse cx="474.4" cy="805.1" rx="13.5" ry="8.2" fill="url(#sp)" transform="rotate(-45 474.4 805.1)"/>
<ellipse cx="485.8" cy="818.7" rx="9.8" ry="9.8" fill="url(#sp)"/>
<ellipse cx="482.5" cy="837.7" rx="15.0" ry="7.0" fill="url(#spg)" transform="rotate(35 482.5 837.7)"/>
<ellipse cx="479.5" cy="863.0" rx="13.0" ry="7.0" fill="url(#spg)" transform="rotate(45 479.5 863.0)"/>
<ellipse cx="483.0" cy="850.2" rx="12.0" ry="5.0" fill="url(#spg)" transform="rotate(-50 483.0 850.2)" opacity="0.55"/>
<ellipse cx="480.0" cy="876.7" rx="12.0" ry="5.0" fill="url(#spg)" transform="rotate(-50 480.0 876.7)" opacity="0.50"/>
<ellipse cx="473.0" cy="830.7" rx="13.5" ry="8.2" fill="url(#sp)" transform="rotate(45 473.0 830.7)"/>
<ellipse cx="490.8" cy="844.2" rx="9.8" ry="9.8" fill="url(#sp)"/>
<ellipse cx="474.4" cy="856.2" rx="13.5" ry="8.2" fill="url(#sp)" transform="rotate(-45 474.4 856.2)"/>
<ellipse cx="485.8" cy="869.8" rx="9.8" ry="9.8" fill="url(#sp)"/>
<ellipse cx="482.5" cy="888.8" rx="15.0" ry="7.0" fill="url(#spg)" transform="rotate(35 482.5 888.8)"/>
<ellipse cx="479.5" cy="914.1" rx="13.0" ry="7.0" fill="url(#spg)" transform="rotate(45 479.5 914.1)"/>
<ellipse cx="483.0" cy="901.3" rx="12.0" ry="5.0" fill="url(#spg)" transform="rotate(-50 483.0 901.3)" opacity="0.55"/>
<ellipse cx="480.0" cy="927.8" rx="12.0" ry="5.0" fill="url(#spg)" transform="rotate(-50 480.0 927.8)" opacity="0.50"/>
<ellipse cx="473.0" cy="881.8" rx="13.5" ry="8.2" fill="url(#sp)" transform="rotate(45 473.0 881.8)"/>
<ellipse cx="490.8" cy="895.3" rx="9.8" ry="9.8" fill="url(#sp)"/>
<ellipse cx="474.4" cy="907.3" rx="13.5" ry="8.2" fill="url(#sp)" transform="rotate(-45 474.4 907.3)"/>
<ellipse cx="485.8" cy="920.9" rx="9.8" ry="9.8" fill="url(#sp)"/>
<ellipse cx="509.8" cy="760.8" rx="13.0" ry="7.0" fill="url(#spg)" transform="rotate(45 509.8 760.8)"/>
<ellipse cx="513.3" cy="748.0" rx="12.0" ry="5.0" fill="url(#spg)" transform="rotate(-50 513.3 748.0)" opacity="0.55"/>
<ellipse cx="510.3" cy="774.5" rx="12.0" ry="5.0" fill="url(#spg)" transform="rotate(-50 510.3 774.5)" opacity="0.50"/>
<ellipse cx="521.1" cy="742.0" rx="9.8" ry="9.8" fill="url(#sp)"/>
<ellipse cx="504.7" cy="754.0" rx="13.5" ry="8.2" fill="url(#sp)" transform="rotate(-45 504.7 754.0)"/>
<ellipse cx="516.1" cy="767.6" rx="9.8" ry="9.8" fill="url(#sp)"/>
<ellipse cx="512.8" cy="786.6" rx="15.0" ry="7.0" fill="url(#spg)" transform="rotate(35 512.8 786.6)"/>
<ellipse cx="509.8" cy="811.9" rx="13.0" ry="7.0" fill="url(#spg)" transform="rotate(45 509.8 811.9)"/>
<ellipse cx="513.3" cy="799.1" rx="12.0" ry="5.0" fill="url(#spg)" transform="rotate(-50 513.3 799.1)" opacity="0.55"/>
<ellipse cx="510.3" cy="825.6" rx="12.0" ry="5.0" fill="url(#spg)" transform="rotate(-50 510.3 825.6)" opacity="0.50"/>
<ellipse cx="503.3" cy="779.6" rx="13.5" ry="8.2" fill="url(#sp)" transform="rotate(45 503.3 779.6)"/>
<ellipse cx="521.1" cy="793.1" rx="9.8" ry="9.8" fill="url(#sp)"/>
<ellipse cx="504.7" cy="805.1" rx="13.5" ry="8.2" fill="url(#sp)" transform="rotate(-45 504.7 805.1)"/>
<ellipse cx="516.1" cy="818.7" rx="9.8" ry="9.8" fill="url(#sp)"/>
<ellipse cx="512.8" cy="837.7" rx="15.0" ry="7.0" fill="url(#spg)" transform="rotate(35 512.8 837.7)"/>
<ellipse cx="509.8" cy="863.0" rx="13.0" ry="7.0" fill="url(#spg)" transform="rotate(45 509.8 863.0)"/>
<ellipse cx="513.3" cy="850.2" rx="12.0" ry="5.0" fill="url(#spg)" transform="rotate(-50 513.3 850.2)" opacity="0.55"/>
<ellipse cx="510.3" cy="876.7" rx="12.0" ry="5.0" fill="url(#spg)" transform="rotate(-50 510.3 876.7)" opacity="0.50"/>
<ellipse cx="503.3" cy="830.7" rx="13.5" ry="8.2" fill="url(#sp)" transform="rotate(45 503.3 830.7)"/>
<ellipse cx="521.1" cy="844.2" rx="9.8" ry="9.8" fill="url(#sp)"/>
<ellipse cx="504.7" cy="856.2" rx="13.5" ry="8.2" fill="url(#sp)" transform="rotate(-45 504.7 856.2)"/>
<ellipse cx="516.1" cy="869.8" rx="9.8" ry="9.8" fill="url(#sp)"/>
<ellipse cx="512.8" cy="888.8" rx="15.0" ry="7.0" fill="url(#spg)" transform="rotate(35 512.8 888.8)"/>
<ellipse cx="509.8" cy="914.1" rx="13.0" ry="7.0" fill="url(#spg)" transform="rotate(45 509.8 914.1)"/>
<ellipse cx="513.3" cy="901.3" rx="12.0" ry="5.0" fill="url(#spg)" transform="rotate(-50 513.3 901.3)" opacity="0.55"/>
<ellipse cx="510.3" cy="927.8" rx="12.0" ry="5.0" fill="url(#spg)" transform="rotate(-50 510.3 927.8)" opacity="0.50"/>
<ellipse cx="503.3" cy="881.8" rx="13.5" ry="8.2" fill="url(#sp)" transform="rotate(45 503.3 881.8)"/>
<ellipse cx="521.1" cy="895.3" rx="9.8" ry="9.8" fill="url(#sp)"/>
<ellipse cx="504.7" cy="907.3" rx="13.5" ry="8.2" fill="url(#sp)" transform="rotate(-45 504.7 907.3)"/>
<ellipse cx="516.1" cy="920.9" rx="9.8" ry="9.8" fill="url(#sp)"/>
<ellipse cx="540.1" cy="760.8" rx="13.0" ry="7.0" fill="url(#spg)" transform="rotate(45 540.1 760.8)"/>
<ellipse cx="543.6" cy="748.0" rx="12.0" ry="5.0" fill="url(#spg)" transform="rotate(-50 543.6 748.0)" opacity="0.55"/>
<ellipse cx="540.6" cy="774.5" rx="12.0" ry="5.0" fill="url(#spg)" transform="rotate(-50 540.6 774.5)" opacity="0.50"/>
<ellipse cx="551.4" cy="742.0" rx="9.8" ry="9.8" fill="url(#sp)"/>
<ellipse cx="535.0" cy="754.0" rx="13.5" ry="8.2" fill="url(#sp)" transform="rotate(-45 535.0 754.0)"/>
<ellipse cx="546.4" cy="767.6" rx="9.8" ry="9.8" fill="url(#sp)"/>
<ellipse cx="543.1" cy="786.6" rx="15.0" ry="7.0" fill="url(#spg)" transform="rotate(35 543.1 786.6)"/>
<ellipse cx="540.1" cy="811.9" rx="13.0" ry="7.0" fill="url(#spg)" transform="rotate(45 540.1 811.9)"/>
<ellipse cx="543.6" cy="799.1" rx="12.0" ry="5.0" fill="url(#spg)" transform="rotate(-50 543.6 799.1)" opacity="0.55"/>
<ellipse cx="540.6" cy="825.6" rx="12.0" ry="5.0" fill="url(#spg)" transform="rotate(-50 540.6 825.6)" opacity="0.50"/>
<ellipse cx="533.6" cy="779.6" rx="13.5" ry="8.2" fill="url(#sp)" transform="rotate(45 533.6 779.6)"/>
<ellipse cx="551.4" cy="793.1" rx="9.8" ry="9.8" fill="url(#sp)"/>
<ellipse cx="535.0" cy="805.1" rx="13.5" ry="8.2" fill="url(#sp)" transform="rotate(-45 535.0 805.1)"/>
<ellipse cx="546.4" cy="818.7" rx="9.8" ry="9.8" fill="url(#sp)"/>
<ellipse cx="543.1" cy="837.7" rx="15.0" ry="7.0" fill="url(#spg)" transform="rotate(35 543.1 837.7)"/>
<ellipse cx="540.1" cy="863.0" rx="13.0" ry="7.0" fill="url(#spg)" transform="rotate(45 540.1 863.0)"/>
<ellipse cx="543.6" cy="850.2" rx="12.0" ry="5.0" fill="url(#spg)" transform="rotate(-50 543.6 850.2)" opacity="0.55"/>
<ellipse cx="540.6" cy="876.7" rx="12.0" ry="5.0" fill="url(#spg)" transform="rotate(-50 540.6 876.7)" opacity="0.50"/>
<ellipse cx="533.6" cy="830.7" rx="13.5" ry="8.2" fill="url(#sp)" transform="rotate(45 533.6 830.7)"/>
<ellipse cx="551.4" cy="844.2" rx="9.8" ry="9.8" fill="url(#sp)"/>
<ellipse cx="535.0" cy="856.2" rx="13.5" ry="8.2" fill="url(#sp)" transform="rotate(-45 535.0 856.2)"/>
<ellipse cx="546.4" cy="869.8" rx="9.8" ry="9.8" fill="url(#sp)"/>
<ellipse cx="543.1" cy="888.8" rx="15.0" ry="7.0" fill="url(#spg)" transform="rotate(35 543.1 888.8)"/>
<ellipse cx="540.1" cy="914.1" rx="13.0" ry="7.0" fill="url(#spg)" transform="rotate(45 540.1 914.1)"/>
<ellipse cx="543.6" cy="901.3" rx="12.0" ry="5.0" fill="url(#spg)" transform="rotate(-50 543.6 901.3)" opacity="0.55"/>
<ellipse cx="540.6" cy="927.8" rx="12.0" ry="5.0" fill="url(#spg)" transform="rotate(-50 540.6 927.8)" opacity="0.50"/>
<ellipse cx="533.6" cy="881.8" rx="13.5" ry="8.2" fill="url(#sp)" transform="rotate(45 533.6 881.8)"/>
<ellipse cx="551.4" cy="895.3" rx="9.8" ry="9.8" fill="url(#sp)"/>
<ellipse cx="535.0" cy="907.3" rx="13.5" ry="8.2" fill="url(#sp)" transform="rotate(-45 535.0 907.3)"/>
<ellipse cx="546.4" cy="920.9" rx="9.8" ry="9.8" fill="url(#sp)"/>
<ellipse cx="570.4" cy="760.8" rx="13.0" ry="7.0" fill="url(#spg)" transform="rotate(45 570.4 760.8)"/>
<ellipse cx="573.9" cy="748.0" rx="12.0" ry="5.0" fill="url(#spg)" transform="rotate(-50 573.9 748.0)" opacity="0.55"/>
<ellipse cx="570.9" cy="774.5" rx="12.0" ry="5.0" fill="url(#spg)" transform="rotate(-50 570.9 774.5)" opacity="0.50"/>
<ellipse cx="581.7" cy="742.0" rx="9.8" ry="9.8" fill="url(#sp)"/>
<ellipse cx="565.3" cy="754.0" rx="13.5" ry="8.2" fill="url(#sp)" transform="rotate(-45 565.3 754.0)"/>
<ellipse cx="576.7" cy="767.6" rx="9.8" ry="9.8" fill="url(#sp)"/>
<ellipse cx="573.4" cy="786.6" rx="15.0" ry="7.0" fill="url(#spg)" transform="rotate(35 573.4 786.6)"/>
<ellipse cx="570.4" cy="811.9" rx="13.0" ry="7.0" fill="url(#spg)" transform="rotate(45 570.4 811.9)"/>
<ellipse cx="573.9" cy="799.1" rx="12.0" ry="5.0" fill="url(#spg)" transform="rotate(-50 573.9 799.1)" opacity="0.55"/>
<ellipse cx="570.9" cy="825.6" rx="12.0" ry="5.0" fill="url(#spg)" transform="rotate(-50 570.9 825.6)" opacity="0.50"/>
<ellipse cx="563.9" cy="779.6" rx="13.5" ry="8.2" fill="url(#sp)" transform="rotate(45 563.9 779.6)"/>
<ellipse cx="581.7" cy="793.1" rx="9.8" ry="9.8" fill="url(#sp)"/>
<ellipse cx="565.3" cy="805.1" rx="13.5" ry="8.2" fill="url(#sp)" transform="rotate(-45 565.3 805.1)"/>
<ellipse cx="576.7" cy="818.7" rx="9.8" ry="9.8" fill="url(#sp)"/>
<ellipse cx="573.4" cy="837.7" rx="15.0" ry="7.0" fill="url(#spg)" transform="rotate(35 573.4 837.7)"/>
<ellipse cx="570.4" cy="863.0" rx="13.0" ry="7.0" fill="url(#spg)" transform="rotate(45 570.4 863.0)"/>
<ellipse cx="573.9" cy="850.2" rx="12.0" ry="5.0" fill="url(#spg)" transform="rotate(-50 573.9 850.2)" opacity="0.55"/>
<ellipse cx="570.9" cy="876.7" rx="12.0" ry="5.0" fill="url(#spg)" transform="rotate(-50 570.9 876.7)" opacity="0.50"/>
<ellipse cx="563.9" cy="830.7" rx="13.5" ry="8.2" fill="url(#sp)" transform="rotate(45 563.9 830.7)"/>
<ellipse cx="581.7" cy="844.2" rx="9.8" ry="9.8" fill="url(#sp)"/>
<ellipse cx="565.3" cy="856.2" rx="13.5" ry="8.2" fill="url(#sp)" transform="rotate(-45 565.3 856.2)"/>
<ellipse cx="576.7" cy="869.8" rx="9.8" ry="9.8" fill="url(#sp)"/>
<ellipse cx="573.4" cy="888.8" rx="15.0" ry="7.0" fill="url(#spg)" transform="rotate(35 573.4 888.8)"/>
<ellipse cx="570.4" cy="914.1" rx="13.0" ry="7.0" fill="url(#spg)" transform="rotate(45 570.4 914.1)"/>
<ellipse cx="573.9" cy="901.3" rx="12.0" ry="5.0" fill="url(#spg)" transform="rotate(-50 573.9 901.3)" opacity="0.55"/>
<ellipse cx="570.9" cy="927.8" rx="12.0" ry="5.0" fill="url(#spg)" transform="rotate(-50 570.9 927.8)" opacity="0.50"/>
<ellipse cx="563.9" cy="881.8" rx="13.5" ry="8.2" fill="url(#sp)" transform="rotate(45 563.9 881.8)"/>
<ellipse cx="581.7" cy="895.3" rx="9.8" ry="9.8" fill="url(#sp)"/>
<ellipse cx="565.3" cy="907.3" rx="13.5" ry="8.2" fill="url(#sp)" transform="rotate(-45 565.3 907.3)"/>
<ellipse cx="576.7" cy="920.9" rx="9.8" ry="9.8" fill="url(#sp)"/>
<ellipse cx="600.7" cy="760.8" rx="13.0" ry="7.0" fill="url(#spg)" transform="rotate(45 600.7 760.8)"/>
<ellipse cx="604.2" cy="748.0" rx="12.0" ry="5.0" fill="url(#spg)" transform="rotate(-50 604.2 748.0)" opacity="0.55"/>
<ellipse cx="601.2" cy="774.5" rx="12.0" ry="5.0" fill="url(#spg)" transform="rotate(-50 601.2 774.5)" opacity="0.50"/>
<ellipse cx="612.0" cy="742.0" rx="9.8" ry="9.8" fill="url(#sp)"/>
<ellipse cx="595.6" cy="754.0" rx="13.5" ry="8.2" fill="url(#sp)" transform="rotate(-45 595.6 754.0)"/>
<ellipse cx="607.0" cy="767.6" rx="9.8" ry="9.8" fill="url(#sp)"/>
<ellipse cx="603.7" cy="786.6" rx="15.0" ry="7.0" fill="url(#spg)" transform="rotate(35 603.7 786.6)"/>
<ellipse cx="600.7" cy="811.9" rx="13.0" ry="7.0" fill="url(#spg)" transform="rotate(45 600.7 811.9)"/>
<ellipse cx="604.2" cy="799.1" rx="12.0" ry="5.0" fill="url(#spg)" transform="rotate(-50 604.2 799.1)" opacity="0.55"/>
<ellipse cx="601.2" cy="825.6" rx="12.0" ry="5.0" fill="url(#spg)" transform="rotate(-50 601.2 825.6)" opacity="0.50"/>
<ellipse cx="594.2" cy="779.6" rx="13.5" ry="8.2" fill="url(#sp)" transform="rotate(45 594.2 779.6)"/>
<ellipse cx="612.0" cy="793.1" rx="9.8" ry="9.8" fill="url(#sp)"/>
<ellipse cx="595.6" cy="805.1" rx="13.5" ry="8.2" fill="url(#sp)" transform="rotate(-45 595.6 805.1)"/>
<ellipse cx="607.0" cy="818.7" rx="9.8" ry="9.8" fill="url(#sp)"/>
<ellipse cx="603.7" cy="837.7" rx="15.0" ry="7.0" fill="url(#spg)" transform="rotate(35 603.7 837.7)"/>
<ellipse cx="600.7" cy="863.0" rx="13.0" ry="7.0" fill="url(#spg)" transform="rotate(45 600.7 863.0)"/>
<ellipse cx="604.2" cy="850.2" rx="12.0" ry="5.0" fill="url(#spg)" transform="rotate(-50 604.2 850.2)" opacity="0.55"/>
<ellipse cx="601.2" cy="876.7" rx="12.0" ry="5.0" fill="url(#spg)" transform="rotate(-50 601.2 876.7)" opacity="0.50"/>
<ellipse cx="594.2" cy="830.7" rx="13.5" ry="8.2" fill="url(#sp)" transform="rotate(45 594.2 830.7)"/>
<ellipse cx="612.0" cy="844.2" rx="9.8" ry="9.8" fill="url(#sp)"/>
<ellipse cx="595.6" cy="856.2" rx="13.5" ry="8.2" fill="url(#sp)" transform="rotate(-45 595.6 856.2)"/>
<ellipse cx="607.0" cy="869.8" rx="9.8" ry="9.8" fill="url(#sp)"/>
<ellipse cx="603.7" cy="888.8" rx="15.0" ry="7.0" fill="url(#spg)" transform="rotate(35 603.7 888.8)"/>
<ellipse cx="600.7" cy="914.1" rx="13.0" ry="7.0" fill="url(#spg)" transform="rotate(45 600.7 914.1)"/>
<ellipse cx="604.2" cy="901.3" rx="12.0" ry="5.0" fill="url(#spg)" transform="rotate(-50 604.2 901.3)" opacity="0.55"/>
<ellipse cx="601.2" cy="927.8" rx="12.0" ry="5.0" fill="url(#spg)" transform="rotate(-50 601.2 927.8)" opacity="0.50"/>
<ellipse cx="594.2" cy="881.8" rx="13.5" ry="8.2" fill="url(#sp)" transform="rotate(45 594.2 881.8)"/>
<ellipse cx="612.0" cy="895.3" rx="9.8" ry="9.8" fill="url(#sp)"/>
<ellipse cx="595.6" cy="907.3" rx="13.5" ry="8.2" fill="url(#sp)" transform="rotate(-45 595.6 907.3)"/>
<ellipse cx="607.0" cy="920.9" rx="9.8" ry="9.8" fill="url(#sp)"/>
<ellipse cx="631.0" cy="760.8" rx="13.0" ry="7.0" fill="url(#spg)" transform="rotate(45 631.0 760.8)"/>
<ellipse cx="634.5" cy="748.0" rx="12.0" ry="5.0" fill="url(#spg)" transform="rotate(-50 634.5 748.0)" opacity="0.55"/>
<ellipse cx="631.5" cy="774.5" rx="12.0" ry="5.0" fill="url(#spg)" transform="rotate(-50 631.5 774.5)" opacity="0.50"/>
<ellipse cx="642.3" cy="742.0" rx="9.8" ry="9.8" fill="url(#sp)"/>
<ellipse cx="625.9" cy="754.0" rx="13.5" ry="8.2" fill="url(#sp)" transform="rotate(-45 625.9 754.0)"/>
<ellipse cx="637.3" cy="767.6" rx="9.8" ry="9.8" fill="url(#sp)"/>
<ellipse cx="634.0" cy="786.6" rx="15.0" ry="7.0" fill="url(#spg)" transform="rotate(35 634.0 786.6)"/>
<ellipse cx="631.0" cy="811.9" rx="13.0" ry="7.0" fill="url(#spg)" transform="rotate(45 631.0 811.9)"/>
<ellipse cx="634.5" cy="799.1" rx="12.0" ry="5.0" fill="url(#spg)" transform="rotate(-50 634.5 799.1)" opacity="0.55"/>
<ellipse cx="631.5" cy="825.6" rx="12.0" ry="5.0" fill="url(#spg)" transform="rotate(-50 631.5 825.6)" opacity="0.50"/>
<ellipse cx="624.5" cy="779.6" rx="13.5" ry="8.2" fill="url(#sp)" transform="rotate(45 624.5 779.6)"/>
<ellipse cx="642.3" cy="793.1" rx="9.8" ry="9.8" fill="url(#sp)"/>
<ellipse cx="625.9" cy="805.1" rx="13.5" ry="8.2" fill="url(#sp)" transform="rotate(-45 625.9 805.1)"/>
<ellipse cx="637.3" cy="818.7" rx="9.8" ry="9.8" fill="url(#sp)"/>
<ellipse cx="634.0" cy="837.7" rx="15.0" ry="7.0" fill="url(#spg)" transform="rotate(35 634.0 837.7)"/>
<ellipse cx="631.0" cy="863.0" rx="13.0" ry="7.0" fill="url(#spg)" transform="rotate(45 631.0 863.0)"/>
<ellipse cx="634.5" cy="850.2" rx="12.0" ry="5.0" fill="url(#spg)" transform="rotate(-50 634.5 850.2)" opacity="0.55"/>
<ellipse cx="631.5" cy="876.7" rx="12.0" ry="5.0" fill="url(#spg)" transform="rotate(-50 631.5 876.7)" opacity="0.50"/>
<ellipse cx="624.5" cy="830.7" rx="13.5" ry="8.2" fill="url(#sp)" transform="rotate(45 624.5 830.7)"/>
<ellipse cx="642.3" cy="844.2" rx="9.8" ry="9.8" fill="url(#sp)"/>
<ellipse cx="625.9" cy="856.2" rx="13.5" ry="8.2" fill="url(#sp)" transform="rotate(-45 625.9 856.2)"/>
<ellipse cx="637.3" cy="869.8" rx="9.8" ry="9.8" fill="url(#sp)"/>
<ellipse cx="634.0" cy="888.8" rx="15.0" ry="7.0" fill="url(#spg)" transform="rotate(35 634.0 888.8)"/>
<ellipse cx="631.0" cy="914.1" rx="13.0" ry="7.0" fill="url(#spg)" transform="rotate(45 631.0 914.1)"/>
<ellipse cx="634.5" cy="901.3" rx="12.0" ry="5.0" fill="url(#spg)" transform="rotate(-50 634.5 901.3)" opacity="0.55"/>
<ellipse cx="631.5" cy="927.8" rx="12.0" ry="5.0" fill="url(#spg)" transform="rotate(-50 631.5 927.8)" opacity="0.50"/>
<ellipse cx="624.5" cy="881.8" rx="13.5" ry="8.2" fill="url(#sp)" transform="rotate(45 624.5 881.8)"/>
<ellipse cx="642.3" cy="895.3" rx="9.8" ry="9.8" fill="url(#sp)"/>
<ellipse cx="625.9" cy="907.3" rx="13.5" ry="8.2" fill="url(#sp)" transform="rotate(-45 625.9 907.3)"/>
<ellipse cx="637.3" cy="920.9" rx="9.8" ry="9.8" fill="url(#sp)"/>
<ellipse cx="661.3" cy="760.8" rx="13.0" ry="7.0" fill="url(#spg)" transform="rotate(45 661.3 760.8)"/>
<ellipse cx="664.8" cy="748.0" rx="12.0" ry="5.0" fill="url(#spg)" transform="rotate(-50 664.8 748.0)" opacity="0.55"/>
<ellipse cx="661.8" cy="774.5" rx="12.0" ry="5.0" fill="url(#spg)" transform="rotate(-50 661.8 774.5)" opacity="0.50"/>
<ellipse cx="656.2" cy="754.0" rx="13.5" ry="8.2" fill="url(#sp)" transform="rotate(-45 656.2 754.0)"/>
<ellipse cx="667.6" cy="767.6" rx="9.8" ry="9.8" fill="url(#sp)"/>
<ellipse cx="664.3" cy="786.6" rx="15.0" ry="7.0" fill="url(#spg)" transform="rotate(35 664.3 786.6)"/>
<ellipse cx="661.3" cy="811.9" rx="13.0" ry="7.0" fill="url(#spg)" transform="rotate(45 661.3 811.9)"/>
<ellipse cx="664.8" cy="799.1" rx="12.0" ry="5.0" fill="url(#spg)" transform="rotate(-50 664.8 799.1)" opacity="0.55"/>
<ellipse cx="661.8" cy="825.6" rx="12.0" ry="5.0" fill="url(#spg)" transform="rotate(-50 661.8 825.6)" opacity="0.50"/>
<ellipse cx="654.8" cy="779.6" rx="13.5" ry="8.2" fill="url(#sp)" transform="rotate(45 654.8 779.6)"/>
<ellipse cx="672.6" cy="793.1" rx="9.8" ry="9.8" fill="url(#sp)"/>
<ellipse cx="656.2" cy="805.1" rx="13.5" ry="8.2" fill="url(#sp)" transform="rotate(-45 656.2 805.1)"/>
<ellipse cx="667.6" cy="818.7" rx="9.8" ry="9.8" fill="url(#sp)"/>
<ellipse cx="664.3" cy="837.7" rx="15.0" ry="7.0" fill="url(#spg)" transform="rotate(35 664.3 837.7)"/>
<ellipse cx="661.3" cy="863.0" rx="13.0" ry="7.0" fill="url(#spg)" transform="rotate(45 661.3 863.0)"/>
<ellipse cx="664.8" cy="850.2" rx="12.0" ry="5.0" fill="url(#spg)" transform="rotate(-50 664.8 850.2)" opacity="0.55"/>
<ellipse cx="661.8" cy="876.7" rx="12.0" ry="5.0" fill="url(#spg)" transform="rotate(-50 661.8 876.7)" opacity="0.50"/>
<ellipse cx="654.8" cy="830.7" rx="13.5" ry="8.2" fill="url(#sp)" transform="rotate(45 654.8 830.7)"/>
<ellipse cx="672.6" cy="844.2" rx="9.8" ry="9.8" fill="url(#sp)"/>
<ellipse cx="656.2" cy="856.2" rx="13.5" ry="8.2" fill="url(#sp)" transform="rotate(-45 656.2 856.2)"/>
<ellipse cx="667.6" cy="869.8" rx="9.8" ry="9.8" fill="url(#sp)"/>
<ellipse cx="664.3" cy="888.8" rx="15.0" ry="7.0" fill="url(#spg)" transform="rotate(35 664.3 888.8)"/>
<ellipse cx="661.3" cy="914.1" rx="13.0" ry="7.0" fill="url(#spg)" transform="rotate(45 661.3 914.1)"/>
<ellipse cx="664.8" cy="901.3" rx="12.0" ry="5.0" fill="url(#spg)" transform="rotate(-50 664.8 901.3)" opacity="0.55"/>
<ellipse cx="661.8" cy="927.8" rx="12.0" ry="5.0" fill="url(#spg)" transform="rotate(-50 661.8 927.8)" opacity="0.50"/>
<ellipse cx="654.8" cy="881.8" rx="13.5" ry="8.2" fill="url(#sp)" transform="rotate(45 654.8 881.8)"/>
<ellipse cx="672.6" cy="895.3" rx="9.8" ry="9.8" fill="url(#sp)"/>
<ellipse cx="656.2" cy="907.3" rx="13.5" ry="8.2" fill="url(#sp)" transform="rotate(-45 656.2 907.3)"/>
<ellipse cx="667.6" cy="920.9" rx="9.8" ry="9.8" fill="url(#sp)"/>
</g></g>
<defs><radialGradient id="fglow"><stop offset="0" stop-color="#fff" stop-opacity="0.22"/><stop offset="0.6" stop-color="#fff" stop-opacity="0.1"/><stop offset="1" stop-color="#fff" stop-opacity="0"/></radialGradient><radialGradient id="fsp"><stop offset="0" stop-color="#fff" stop-opacity="1"/><stop offset="0.3" stop-color="#fff" stop-opacity="0.6"/><stop offset="1" stop-color="#fff" stop-opacity="0"/></radialGradient><linearGradient id="lblR" x1="0" y1="0" x2="0" y2="1"><stop offset="0" stop-color="#ffffff"/><stop offset="1" stop-color="#f9c3a8"/></linearGradient><linearGradient id="lblG" x1="0" y1="0" x2="0" y2="1"><stop offset="0" stop-color="#ffffff"/><stop offset="1" stop-color="#bfe0b0"/></linearGradient><linearGradient id="lblB" x1="0" y1="0" x2="0" y2="1"><stop offset="0" stop-color="#ffffff"/><stop offset="1" stop-color="#a9cbea"/></linearGradient><linearGradient id="arrY" x1="0" y1="1" x2="0" y2="0"><stop offset="0" stop-color="#e8e860" stop-opacity="0"/><stop offset="0.25" stop-color="#e0e060" stop-opacity="0.5"/><stop offset="1" stop-color="#f0f050" stop-opacity="0.85"/></linearGradient><filter id="glw" x="-50%" y="-50%" width="200%" height="200%"><feGaussianBlur stdDeviation="2"/></filter><filter id="noi" x="0" y="0" width="100%" height="100%"><feTurbulence type="fractalNoise" baseFrequency="0.9" numOctaves="1" seed="4"/><feColorMatrix type="matrix" values="0 0 0 0 1  0 0 0 0 1  0 0 0 0 1  0.9 0 0 0 -0.25"/></filter></defs>
<rect x="395.5" y="489" width="159.5" height="159.39999999999998" fill="#1e1e1e"/>
<rect x="395.5" y="489" width="159.5" height="159.39999999999998" filter="url(#noi)" opacity="0.16"/>
<ellipse cx="476" cy="570" rx="45" ry="55" fill="url(#fglow)"/>
<line x1="443" y1="489" x2="443" y2="648.4" stroke="#e0e0e0" stroke-opacity="0.3" stroke-width="1.1"/>
<line x1="475.1" y1="489" x2="475.1" y2="648.4" stroke="#e0e0e0" stroke-opacity="0.32" stroke-width="1.1"/>
<line x1="508" y1="489" x2="508" y2="648.4" stroke="#e0e0e0" stroke-opacity="0.3" stroke-width="1.1"/>
<line x1="540.1" y1="489" x2="540.1" y2="648.4" stroke="#e0e0e0" stroke-opacity="0.15" stroke-width="1.1"/>
<line x1="410.8" y1="489" x2="410.8" y2="648.4" stroke="#e0e0e0" stroke-opacity="0.1" stroke-width="1.1"/>
<line x1="395.5" y1="569.8" x2="555" y2="569.8" stroke="#e0e0e0" stroke-opacity="0.4" stroke-width="1"/>
<circle cx="443" cy="531.9" r="3.5" fill="url(#fsp)"/>
<circle cx="475.1" cy="531.9" r="4.5" fill="url(#fsp)"/>
<circle cx="508" cy="530.6" r="3.5" fill="url(#fsp)"/>
<circle cx="475.1" cy="552.1" r="4" fill="url(#fsp)"/>
<circle cx="443" cy="569.8" r="5" fill="url(#fsp)"/>
<circle cx="475.1" cy="569.8" r="5" fill="url(#fsp)"/>
<circle cx="508" cy="569.1" r="4.5" fill="url(#fsp)"/>
<circle cx="410.8" cy="571" r="3" fill="url(#fsp)"/>
<circle cx="540.1" cy="567.9" r="3.5" fill="url(#fsp)"/>
<circle cx="475.1" cy="584.9" r="4" fill="url(#fsp)"/>
<circle cx="508" cy="605.1" r="3.5" fill="url(#fsp)"/>
<circle cx="476.4" cy="607.6" r="4" fill="url(#fsp)"/>
<path d="M396.25,648.4 L396.25,489.75 L555,489.75" fill="none" stroke="#d8d8d8" stroke-width="1.5"/>
<g fill="none" stroke="#ff1010" stroke-width="2.8"><circle cx="508" cy="569.1" r="4.4"/><circle cx="476.4" cy="607.6" r="4.4"/></g>
<text x="500.3" y="557.2" font-size="21" fill="#ff1010" textLength="43" lengthAdjust="spacingAndGlyphs" stroke="#ff1010" stroke-width="0.36">120*</text>
<line x1="501" y1="536.5" x2="507" y2="536.5" stroke="#ff1010" stroke-width="2"/>
<text x="412.7" y="609.1" font-size="21" fill="#ff1010" textLength="56.7" lengthAdjust="spacingAndGlyphs" stroke="#ff1010" stroke-width="0.36">0015*</text>
<line x1="441.4" y1="586.4" x2="457.3" y2="586.4" stroke="#ff1010" stroke-width="2"/>
<text x="504.3" y="640" font-size="21" fill="#f0b400" textLength="48" lengthAdjust="spacingAndGlyphs" stroke="#f0b400" stroke-width="0.36">[210]</text>
<rect x="395.5" y="767.7" width="159.5" height="159.69999999999993" fill="#1e1e1e"/>
<rect x="395.5" y="767.7" width="159.5" height="159.69999999999993" filter="url(#noi)" opacity="0.16"/>
<ellipse cx="476" cy="848" rx="30" ry="30" fill="url(#fglow)"/>
<line x1="408.9" y1="767.7" x2="408.9" y2="927.4" stroke="#e0e0e0" stroke-opacity="0.12" stroke-width="1.1"/>
<line x1="425.3" y1="767.7" x2="425.3" y2="927.4" stroke="#e0e0e0" stroke-opacity="0.22" stroke-width="1.1"/>
<line x1="442.3" y1="767.7" x2="442.3" y2="927.4" stroke="#e0e0e0" stroke-opacity="0.28" stroke-width="1.1"/>
<line x1="459.4" y1="767.7" x2="459.4" y2="927.4" stroke="#e0e0e0" stroke-opacity="0.35" stroke-width="1.1"/>
<line x1="476.4" y1="767.7" x2="476.4" y2="927.4" stroke="#e0e0e0" stroke-opacity="0.2" stroke-width="1.1"/>
<line x1="492.8" y1="767.7" x2="492.8" y2="927.4" stroke="#e0e0e0" stroke-opacity="0.38" stroke-width="1.1"/>
<line x1="509.2" y1="767.7" x2="509.2" y2="927.4" stroke="#e0e0e0" stroke-opacity="0.3" stroke-width="1.1"/>
<line x1="526.2" y1="767.7" x2="526.2" y2="927.4" stroke="#e0e0e0" stroke-opacity="0.2" stroke-width="1.1"/>
<line x1="542.6" y1="767.7" x2="542.6" y2="927.4" stroke="#e0e0e0" stroke-opacity="0.12" stroke-width="1.1"/>
<line x1="395.5" y1="818.7" x2="555" y2="818.7" stroke="#e0e0e0" stroke-opacity="0.1" stroke-width="1"/>
<line x1="395.5" y1="828.8" x2="555" y2="828.8" stroke="#e0e0e0" stroke-opacity="0.08" stroke-width="1"/>
<line x1="395.5" y1="839.6" x2="555" y2="839.6" stroke="#e0e0e0" stroke-opacity="0.1" stroke-width="1"/>
<line x1="395.5" y1="848.4" x2="555" y2="848.4" stroke="#e0e0e0" stroke-opacity="0.14" stroke-width="1"/>
<line x1="395.5" y1="859.1" x2="555" y2="859.1" stroke="#e0e0e0" stroke-opacity="0.1" stroke-width="1"/>
<line x1="395.5" y1="868.6" x2="555" y2="868.6" stroke="#e0e0e0" stroke-opacity="0.08" stroke-width="1"/>
<line x1="395.5" y1="878" x2="555" y2="878" stroke="#e0e0e0" stroke-opacity="0.12" stroke-width="1"/>
<circle cx="425.2839116719243" cy="819.9968454258675" r="3.2" fill="url(#fsp)"/>
<circle cx="442.3186119873817" cy="839.5552050473186" r="3.2" fill="url(#fsp)"/>
<circle cx="459.35331230283913" cy="818.7350157728706" r="3" fill="url(#fsp)"/>
<circle cx="459.35331230283913" cy="828.8296529968454" r="3.2" fill="url(#fsp)"/>
<circle cx="492.79179810725554" cy="818.7350157728706" r="3" fill="url(#fsp)"/>
<circle cx="492.79179810725554" cy="828.8296529968454" r="3.2" fill="url(#fsp)"/>
<circle cx="492.79179810725554" cy="838.2933753943217" r="2.6" fill="url(#fsp)"/>
<circle cx="509.19558359621453" cy="837.6624605678234" r="3" fill="url(#fsp)"/>
<circle cx="509.19558359621453" cy="847.7570977917981" r="3" fill="url(#fsp)"/>
<circle cx="442.3186119873817" cy="859.1135646687698" r="3.2" fill="url(#fsp)"/>
<circle cx="459.35331230283913" cy="868.5772870662461" r="3.2" fill="url(#fsp)"/>
<circle cx="492.79179810725554" cy="867.9463722397477" r="3.4" fill="url(#fsp)"/>
<circle cx="459.35331230283913" cy="878.0410094637224" r="3.2" fill="url(#fsp)"/>
<circle cx="492.79179810725554" cy="878.0410094637224" r="3.2" fill="url(#fsp)"/>
<circle cx="425.9148264984227" cy="878.6719242902209" r="3" fill="url(#fsp)"/>
<circle cx="509.19558359621453" cy="857.2208201892745" r="2.6" fill="url(#fsp)"/>
<circle cx="476.38801261829656" cy="789.0820189274448" r="2.6" fill="url(#fsp)"/>
<circle cx="509.19558359621453" cy="797.2839116719243" r="2.6" fill="url(#fsp)"/>
<circle cx="441.68769716088326" cy="799.1766561514196" r="2.6" fill="url(#fsp)"/>
<circle cx="408.8801261829653" cy="850.2807570977918" r="2.4" fill="url(#fsp)"/>
<circle cx="542.6340694006309" cy="846.4952681388013" r="2.2" fill="url(#fsp)"/>
<circle cx="443.5804416403786" cy="898.2302839116719" r="2.6" fill="url(#fsp)"/>
<circle cx="476.38801261829656" cy="907.0630914826498" r="2.6" fill="url(#fsp)"/>
<circle cx="509.19558359621453" cy="896.3375394321766" r="2.6" fill="url(#fsp)"/>
<circle cx="526.2302839116719" cy="876.7791798107255" r="2.4" fill="url(#fsp)"/>
<circle cx="542.6340694006309" cy="826.3059936908518" r="2.2" fill="url(#fsp)"/>
<circle cx="425.2839116719243" cy="838.9242902208202" r="2.4" fill="url(#fsp)"/>
<circle cx="476.38801261829656" cy="828.8296529968454" r="2.2" fill="url(#fsp)"/>
<circle cx="476.38801261829656" cy="867.9463722397477" r="2.2" fill="url(#fsp)"/>
<circle cx="526.2302839116719" cy="838.9242902208202" r="2.2" fill="url(#fsp)"/>
<circle cx="425.2839116719243" cy="860.3753943217665" r="2.2" fill="url(#fsp)"/>
<circle cx="526.2302839116719" cy="857.8517350157729" r="2.2" fill="url(#fsp)"/>
<circle cx="476.4" cy="848" r="6.5" fill="url(#fsp)"/>
<path d="M396.25,927.4 L396.25,768.45 L555,768.45" fill="none" stroke="#d8d8d8" stroke-width="1.5"/>
<g fill="none" stroke="#ff1010" stroke-width="2.6"><circle cx="476.5" cy="829.3" r="5"/><circle cx="492.8" cy="838.3" r="5"/><circle cx="509.7" cy="848.1" r="5"/></g>
<text x="452.6" y="815.5" font-size="19.5" fill="#ff1010" textLength="45" lengthAdjust="spacingAndGlyphs" stroke="#ff1010" stroke-width="0.33">202*</text>
<line x1="454" y1="795.7" x2="459.6" y2="795.7" stroke="#ff1010" stroke-width="1.8"/>
<text x="500.7" y="831.2" font-size="19.5" fill="#ff1010" textLength="37.8" lengthAdjust="spacingAndGlyphs" stroke="#ff1010" stroke-width="0.33">111*</text>
<line x1="501.4" y1="810.7" x2="507" y2="810.7" stroke="#ff1010" stroke-width="1.8"/>
<text x="507" y="876.2" font-size="19.5" fill="#ff1010" textLength="44" lengthAdjust="spacingAndGlyphs" stroke="#ff1010" stroke-width="0.33">020*</text>
<text x="503" y="919.6" font-size="19.5" fill="#f0b400" textLength="48" lengthAdjust="spacingAndGlyphs" stroke="#f0b400" stroke-width="0.33">[101]</text>
<rect x="256.2" y="557" width="7" height="131" fill="url(#arrY)"/>
<polygon points="259.7,528.7 279.6,567.5 259.7,556.1 240.8,567.5" fill="#e8e850" fill-opacity="0.8"/>
<text x="224.7" y="517.3" font-size="26" fill="#ffff00" textLength="73" lengthAdjust="spacingAndGlyphs" stroke="#ffff00" stroke-width="0.44"><tspan font-style="italic">c</tspan>-axis</text>
<g filter="url(#glw)"><circle cx="156.2" cy="536.3" r="7" fill="#d0c040" opacity="0.85"/><circle cx="170.7" cy="536.3" r="7" fill="#d0c040" opacity="0.85"/><circle cx="185.3" cy="536.3" r="7" fill="#d0c040" opacity="0.85"/><circle cx="200.1" cy="536.3" r="7" fill="#d0c040" opacity="0.85"/><circle cx="214.8" cy="536.3" r="7" fill="#d0c040" opacity="0.85"/><circle cx="170.7" cy="547.2" r="7" fill="#d0c040" opacity="0.85"/><circle cx="185.3" cy="547.2" r="7" fill="#d0c040" opacity="0.85"/><circle cx="200.1" cy="547.2" r="7" fill="#d0c040" opacity="0.85"/><circle cx="170.7" cy="560.9" r="7" fill="#d0c040" opacity="0.85"/><circle cx="185.3" cy="560.9" r="7" fill="#d0c040" opacity="0.85"/><circle cx="200.1" cy="560.9" r="7" fill="#d0c040" opacity="0.85"/><circle cx="156.2" cy="574.1" r="7" fill="#d0c040" opacity="0.85"/><circle cx="170.7" cy="574.1" r="7" fill="#d0c040" opacity="0.85"/><circle cx="185.3" cy="574.1" r="7" fill="#d0c040" opacity="0.85"/><circle cx="200.1" cy="574.1" r="7" fill="#d0c040" opacity="0.85"/><circle cx="214.8" cy="574.1" r="7" fill="#d0c040" opacity="0.85"/></g>
<circle cx="156.2" cy="536.3" r="2.8" fill="url(#gPu)"/>
<circle cx="170.7" cy="536.3" r="2.8" fill="url(#gPu)"/>
<circle cx="185.3" cy="536.3" r="2.8" fill="url(#gPu)"/>
<circle cx="200.1" cy="536.3" r="2.8" fill="url(#gPu)"/>
<circle cx="214.8" cy="536.3" r="2.8" fill="url(#gPu)"/>
<circle cx="170.7" cy="547.2" r="3.3" fill="url(#gPk)"/>
<circle cx="185.3" cy="547.2" r="3.3" fill="url(#gPk)"/>
<circle cx="200.1" cy="547.2" r="3.3" fill="url(#gPk)"/>
<circle cx="170.7" cy="560.9" r="2.8" fill="url(#gPu)"/>
<circle cx="185.3" cy="560.9" r="2.8" fill="url(#gPu)"/>
<circle cx="200.1" cy="560.9" r="2.8" fill="url(#gPu)"/>
<circle cx="156.2" cy="574.1" r="3.3" fill="url(#gPk)"/>
<circle cx="170.7" cy="574.1" r="3.3" fill="url(#gPk)"/>
<circle cx="185.3" cy="574.1" r="3.3" fill="url(#gPk)"/>
<circle cx="200.1" cy="574.1" r="3.3" fill="url(#gPk)"/>
<circle cx="214.8" cy="574.1" r="3.3" fill="url(#gPk)"/>
<rect x="144.2" y="588.3" width="82" height="37.5" fill="url(#lblR)" stroke="#ff1010" stroke-width="2.5"/>
<text x="150.9" y="615.8" font-size="24.5" fill="#ff1010" stroke="#ff1010" stroke-width="0.42">Bi<tspan font-size="17" dy="5">2</tspan><tspan dy="-5">Te</tspan><tspan font-size="17" dy="5">3</tspan></text>
<g filter="url(#glw)"><circle cx="143.9" cy="755.6" r="6.5" fill="#70b040" opacity="0.8"/><circle cx="173.4" cy="754.9" r="6.5" fill="#70b040" opacity="0.8"/><circle cx="202.6" cy="754.9" r="6.5" fill="#70b040" opacity="0.8"/><circle cx="153.0" cy="771.0" r="6.5" fill="#70b040" opacity="0.8"/><circle cx="182.7" cy="771.0" r="6.5" fill="#70b040" opacity="0.8"/><circle cx="212.2" cy="770.5" r="6.5" fill="#70b040" opacity="0.8"/><circle cx="137.9" cy="780.1" r="6.5" fill="#70b040" opacity="0.8"/><circle cx="167.6" cy="780.1" r="6.5" fill="#70b040" opacity="0.8"/><circle cx="196.9" cy="780.1" r="6.5" fill="#70b040" opacity="0.8"/><circle cx="158.5" cy="796.1" r="6.5" fill="#70b040" opacity="0.8"/><circle cx="188.2" cy="796.1" r="6.5" fill="#70b040" opacity="0.8"/><circle cx="217.5" cy="796.1" r="6.5" fill="#70b040" opacity="0.8"/><circle cx="143.9" cy="805.7" r="6.5" fill="#70b040" opacity="0.8"/><circle cx="173.4" cy="805.3" r="6.5" fill="#70b040" opacity="0.8"/><circle cx="202.6" cy="805.3" r="6.5" fill="#70b040" opacity="0.8"/><circle cx="153.0" cy="821.3" r="6.5" fill="#70b040" opacity="0.8"/><circle cx="182.7" cy="821.3" r="6.5" fill="#70b040" opacity="0.8"/><circle cx="212.2" cy="820.6" r="6.5" fill="#70b040" opacity="0.8"/><circle cx="158.5" cy="764.6" r="6.5" fill="#70b040" opacity="0.8"/><circle cx="167.6" cy="761.8" r="6.5" fill="#70b040" opacity="0.8"/><circle cx="188.2" cy="764.6" r="6.5" fill="#70b040" opacity="0.8"/><circle cx="197.4" cy="761.8" r="6.5" fill="#70b040" opacity="0.8"/><circle cx="143.9" cy="787.0" r="6.5" fill="#70b040" opacity="0.8"/><circle cx="153.0" cy="789.7" r="6.5" fill="#70b040" opacity="0.8"/><circle cx="172.9" cy="787.0" r="6.5" fill="#70b040" opacity="0.8"/><circle cx="182.7" cy="789.7" r="6.5" fill="#70b040" opacity="0.8"/><circle cx="202.6" cy="787.0" r="6.5" fill="#70b040" opacity="0.8"/><circle cx="212.2" cy="789.7" r="6.5" fill="#70b040" opacity="0.8"/><circle cx="158.5" cy="814.9" r="6.5" fill="#70b040" opacity="0.8"/><circle cx="167.6" cy="812.1" r="6.5" fill="#70b040" opacity="0.8"/><circle cx="188.2" cy="814.9" r="6.5" fill="#70b040" opacity="0.8"/><circle cx="197.4" cy="812.1" r="6.5" fill="#70b040" opacity="0.8"/></g>
<circle cx="143.9" cy="755.6" r="3.3" fill="url(#gOr)"/>
<circle cx="173.4" cy="754.9" r="3.3" fill="url(#gOr)"/>
<circle cx="202.6" cy="754.9" r="3.3" fill="url(#gOr)"/>
<circle cx="153.0" cy="771.0" r="3.3" fill="url(#gOr)"/>
<circle cx="182.7" cy="771.0" r="3.3" fill="url(#gOr)"/>
<circle cx="212.2" cy="770.5" r="3.3" fill="url(#gOr)"/>
<circle cx="137.9" cy="780.1" r="3.3" fill="url(#gOr)"/>
<circle cx="167.6" cy="780.1" r="3.3" fill="url(#gOr)"/>
<circle cx="196.9" cy="780.1" r="3.3" fill="url(#gOr)"/>
<circle cx="158.5" cy="796.1" r="3.3" fill="url(#gOr)"/>
<circle cx="188.2" cy="796.1" r="3.3" fill="url(#gOr)"/>
<circle cx="217.5" cy="796.1" r="3.3" fill="url(#gOr)"/>
<circle cx="143.9" cy="805.7" r="3.3" fill="url(#gOr)"/>
<circle cx="173.4" cy="805.3" r="3.3" fill="url(#gOr)"/>
<circle cx="202.6" cy="805.3" r="3.3" fill="url(#gOr)"/>
<circle cx="153.0" cy="821.3" r="3.3" fill="url(#gOr)"/>
<circle cx="182.7" cy="821.3" r="3.3" fill="url(#gOr)"/>
<circle cx="212.2" cy="820.6" r="3.3" fill="url(#gOr)"/>
<circle cx="158.5" cy="764.6" r="3.3" fill="url(#gTl)"/>
<circle cx="167.6" cy="761.8" r="3.3" fill="url(#gTl)"/>
<circle cx="188.2" cy="764.6" r="3.3" fill="url(#gTl)"/>
<circle cx="197.4" cy="761.8" r="3.3" fill="url(#gTl)"/>
<circle cx="143.9" cy="787.0" r="3.3" fill="url(#gTl)"/>
<circle cx="153.0" cy="789.7" r="3.3" fill="url(#gTl)"/>
<circle cx="172.9" cy="787.0" r="3.3" fill="url(#gTl)"/>
<circle cx="182.7" cy="789.7" r="3.3" fill="url(#gTl)"/>
<circle cx="202.6" cy="787.0" r="3.3" fill="url(#gTl)"/>
<circle cx="212.2" cy="789.7" r="3.3" fill="url(#gTl)"/>
<circle cx="158.5" cy="814.9" r="3.3" fill="url(#gTl)"/>
<circle cx="167.6" cy="812.1" r="3.3" fill="url(#gTl)"/>
<circle cx="188.2" cy="814.9" r="3.3" fill="url(#gTl)"/>
<circle cx="197.4" cy="812.1" r="3.3" fill="url(#gTl)"/>
<rect x="137.9" y="835" width="80.7" height="37.3" fill="url(#lblG)" stroke="#10b040" stroke-width="2.2"/>
<text x="144.3" y="861.3" font-size="23" fill="#10901a" textLength="67.5" lengthAdjust="spacingAndGlyphs" stroke="#10901a" stroke-width="0.39">Ag<tspan font-size="16" dy="5">2</tspan><tspan dy="-5">Te</tspan></text>
<rect x="122.6" y="917.8" width="69.7" height="3.6" fill="#fff" stroke="#000" stroke-width="0.8"/>
<text x="123.7" y="911.6" font-size="20.5" fill="#fff" textLength="42.5" lengthAdjust="spacingAndGlyphs" stroke="#000" stroke-width="1.6" paint-order="stroke" font-weight="bold">1 nm</text>
<defs><clipPath id="dc"><rect x="647" y="489.5" width="436" height="435.70000000000005"/></clipPath><filter id="tbd" x="0" y="0" width="1" height="1"><feGaussianBlur stdDeviation="1.6"/></filter></defs>
<text x="600.8" y="514" font-size="40" fill="#000" font-weight="bold">d</text>
<g clip-path="url(#dc)"><rect x="647" y="489.5" width="436" height="435.70000000000005" fill="#121212"/>
<g filter="url(#tbd)">
<rect x="628.4" y="489.5" width="14" height="200.5" fill="#8a8a8a" opacity="0.32" rx="7"/>
<ellipse cx="635.4" cy="500.8" rx="9.5" ry="12.5" fill="url(#sp)" opacity="0.71"/>
<ellipse cx="635.4" cy="519.7" rx="9.5" ry="12.5" fill="url(#sp)" opacity="0.51"/>
<ellipse cx="635.4" cy="538.6" rx="9.5" ry="12.5" fill="url(#sp)" opacity="0.76"/>
<ellipse cx="635.4" cy="557.5" rx="9.5" ry="12.5" fill="url(#sp)" opacity="0.46"/>
<ellipse cx="635.4" cy="576.4" rx="9.5" ry="12.5" fill="url(#sp)" opacity="0.65"/>
<ellipse cx="635.4" cy="595.3" rx="9.5" ry="12.5" fill="url(#sp)" opacity="0.51"/>
<ellipse cx="635.4" cy="614.2" rx="9.5" ry="12.5" fill="url(#sp)" opacity="0.65"/>
<ellipse cx="635.4" cy="633.1" rx="9.5" ry="12.5" fill="url(#sp)" opacity="0.50"/>
<ellipse cx="635.4" cy="652.0" rx="9.5" ry="12.5" fill="url(#sp)" opacity="0.71"/>
<ellipse cx="635.4" cy="670.9" rx="9.5" ry="12.5" fill="url(#sp)" opacity="0.51"/>
<ellipse cx="635.4" cy="689.8" rx="9.5" ry="12.5" fill="url(#sp)" opacity="0.57"/>
<rect x="651.2" y="489.5" width="14" height="200.5" fill="#8a8a8a" opacity="0.32" rx="7"/>
<ellipse cx="658.2" cy="500.8" rx="9.5" ry="12.5" fill="url(#sp)" opacity="0.68"/>
<ellipse cx="658.2" cy="519.7" rx="9.5" ry="12.5" fill="url(#sp)" opacity="0.44"/>
<ellipse cx="658.2" cy="538.6" rx="9.5" ry="12.5" fill="url(#sp)" opacity="0.74"/>
<ellipse cx="658.2" cy="557.5" rx="9.5" ry="12.5" fill="url(#sp)" opacity="0.49"/>
<ellipse cx="658.2" cy="576.4" rx="9.5" ry="12.5" fill="url(#sp)" opacity="0.56"/>
<ellipse cx="658.2" cy="595.3" rx="9.5" ry="12.5" fill="url(#sp)" opacity="0.57"/>
<ellipse cx="658.2" cy="614.2" rx="9.5" ry="12.5" fill="url(#sp)" opacity="0.81"/>
<ellipse cx="658.2" cy="633.1" rx="9.5" ry="12.5" fill="url(#sp)" opacity="0.52"/>
<ellipse cx="658.2" cy="652.0" rx="9.5" ry="12.5" fill="url(#sp)" opacity="0.70"/>
<ellipse cx="658.2" cy="670.9" rx="9.5" ry="12.5" fill="url(#sp)" opacity="0.42"/>
<ellipse cx="658.2" cy="689.8" rx="9.5" ry="12.5" fill="url(#sp)" opacity="0.56"/>
<rect x="674.0" y="489.5" width="14" height="200.5" fill="#8a8a8a" opacity="0.32" rx="7"/>
<ellipse cx="681.0" cy="500.8" rx="9.5" ry="12.5" fill="url(#sp)" opacity="0.72"/>
<ellipse cx="681.0" cy="519.7" rx="9.5" ry="12.5" fill="url(#sp)" opacity="0.44"/>
<ellipse cx="681.0" cy="538.6" rx="9.5" ry="12.5" fill="url(#sp)" opacity="0.62"/>
<ellipse cx="681.0" cy="557.5" rx="9.5" ry="12.5" fill="url(#sp)" opacity="0.43"/>
<ellipse cx="681.0" cy="576.4" rx="9.5" ry="12.5" fill="url(#sp)" opacity="0.56"/>
<ellipse cx="681.0" cy="595.3" rx="9.5" ry="12.5" fill="url(#sp)" opacity="0.50"/>
<ellipse cx="681.0" cy="614.2" rx="9.5" ry="12.5" fill="url(#sp)" opacity="0.71"/>
<ellipse cx="681.0" cy="633.1" rx="9.5" ry="12.5" fill="url(#sp)" opacity="0.55"/>
<ellipse cx="681.0" cy="652.0" rx="9.5" ry="12.5" fill="url(#sp)" opacity="0.69"/>
<ellipse cx="681.0" cy="670.9" rx="9.5" ry="12.5" fill="url(#sp)" opacity="0.49"/>
<ellipse cx="681.0" cy="689.8" rx="9.5" ry="12.5" fill="url(#sp)" opacity="0.65"/>
<rect x="696.7" y="489.5" width="14" height="200.5" fill="#8a8a8a" opacity="0.32" rx="7"/>
<ellipse cx="703.7" cy="500.8" rx="9.5" ry="12.5" fill="url(#sp)" opacity="0.75"/>
<ellipse cx="703.7" cy="519.7" rx="9.5" ry="12.5" fill="url(#sp)" opacity="0.50"/>
<ellipse cx="703.7" cy="538.6" rx="9.5" ry="12.5" fill="url(#sp)" opacity="0.64"/>
<ellipse cx="703.7" cy="557.5" rx="9.5" ry="12.5" fill="url(#sp)" opacity="0.53"/>
<ellipse cx="703.7" cy="576.4" rx="9.5" ry="12.5" fill="url(#sp)" opacity="0.74"/>
<ellipse cx="703.7" cy="595.3" rx="9.5" ry="12.5" fill="url(#sp)" opacity="0.55"/>
<ellipse cx="703.7" cy="614.2" rx="9.5" ry="12.5" fill="url(#sp)" opacity="0.76"/>
<ellipse cx="703.7" cy="633.1" rx="9.5" ry="12.5" fill="url(#sp)" opacity="0.48"/>
<ellipse cx="703.7" cy="652.0" rx="9.5" ry="12.5" fill="url(#sp)" opacity="0.63"/>
<ellipse cx="703.7" cy="670.9" rx="9.5" ry="12.5" fill="url(#sp)" opacity="0.44"/>
<ellipse cx="703.7" cy="689.8" rx="9.5" ry="12.5" fill="url(#sp)" opacity="0.57"/>
<rect x="719.5" y="489.5" width="14" height="200.5" fill="#8a8a8a" opacity="0.32" rx="7"/>
<ellipse cx="726.5" cy="500.8" rx="9.5" ry="12.5" fill="url(#sp)" opacity="0.77"/>
<ellipse cx="726.5" cy="519.7" rx="9.5" ry="12.5" fill="url(#sp)" opacity="0.49"/>
<ellipse cx="726.5" cy="538.6" rx="9.5" ry="12.5" fill="url(#sp)" opacity="0.75"/>
<ellipse cx="726.5" cy="557.5" rx="9.5" ry="12.5" fill="url(#sp)" opacity="0.45"/>
<ellipse cx="726.5" cy="576.4" rx="9.5" ry="12.5" fill="url(#sp)" opacity="0.73"/>
<ellipse cx="726.5" cy="595.3" rx="9.5" ry="12.5" fill="url(#sp)" opacity="0.55"/>
<ellipse cx="726.5" cy="614.2" rx="9.5" ry="12.5" fill="url(#sp)" opacity="0.62"/>
<ellipse cx="726.5" cy="633.1" rx="9.5" ry="12.5" fill="url(#sp)" opacity="0.46"/>
<ellipse cx="726.5" cy="652.0" rx="9.5" ry="12.5" fill="url(#sp)" opacity="0.76"/>
<ellipse cx="726.5" cy="670.9" rx="9.5" ry="12.5" fill="url(#sp)" opacity="0.46"/>
<ellipse cx="726.5" cy="689.8" rx="9.5" ry="12.5" fill="url(#sp)" opacity="0.73"/>
<rect x="742.3" y="489.5" width="14" height="200.5" fill="#8a8a8a" opacity="0.32" rx="7"/>
<ellipse cx="749.3" cy="500.8" rx="9.5" ry="12.5" fill="url(#sp)" opacity="0.70"/>
<ellipse cx="749.3" cy="519.7" rx="9.5" ry="12.5" fill="url(#sp)" opacity="0.44"/>
<ellipse cx="749.3" cy="538.6" rx="9.5" ry="12.5" fill="url(#sp)" opacity="0.71"/>
<ellipse cx="749.3" cy="557.5" rx="9.5" ry="12.5" fill="url(#sp)" opacity="0.50"/>
<ellipse cx="749.3" cy="576.4" rx="9.5" ry="12.5" fill="url(#sp)" opacity="0.60"/>
<ellipse cx="749.3" cy="595.3" rx="9.5" ry="12.5" fill="url(#sp)" opacity="0.44"/>
<ellipse cx="749.3" cy="614.2" rx="9.5" ry="12.5" fill="url(#sp)" opacity="0.68"/>
<ellipse cx="749.3" cy="633.1" rx="9.5" ry="12.5" fill="url(#sp)" opacity="0.57"/>
<ellipse cx="749.3" cy="652.0" rx="9.5" ry="12.5" fill="url(#sp)" opacity="0.73"/>
<ellipse cx="749.3" cy="670.9" rx="9.5" ry="12.5" fill="url(#sp)" opacity="0.42"/>
<ellipse cx="749.3" cy="689.8" rx="9.5" ry="12.5" fill="url(#sp)" opacity="0.60"/>
<rect x="765.1" y="489.5" width="14" height="200.5" fill="#8a8a8a" opacity="0.32" rx="7"/>
<ellipse cx="772.1" cy="500.8" rx="9.5" ry="12.5" fill="url(#sp)" opacity="0.64"/>
<ellipse cx="772.1" cy="519.7" rx="9.5" ry="12.5" fill="url(#sp)" opacity="0.44"/>
<ellipse cx="772.1" cy="538.6" rx="9.5" ry="12.5" fill="url(#sp)" opacity="0.74"/>
<ellipse cx="772.1" cy="557.5" rx="9.5" ry="12.5" fill="url(#sp)" opacity="0.42"/>
<ellipse cx="772.1" cy="576.4" rx="9.5" ry="12.5" fill="url(#sp)" opacity="0.66"/>
<ellipse cx="772.1" cy="595.3" rx="9.5" ry="12.5" fill="url(#sp)" opacity="0.49"/>
<ellipse cx="772.1" cy="614.2" rx="9.5" ry="12.5" fill="url(#sp)" opacity="0.65"/>
<ellipse cx="772.1" cy="633.1" rx="9.5" ry="12.5" fill="url(#sp)" opacity="0.54"/>
<ellipse cx="772.1" cy="652.0" rx="9.5" ry="12.5" fill="url(#sp)" opacity="0.61"/>
<ellipse cx="772.1" cy="670.9" rx="9.5" ry="12.5" fill="url(#sp)" opacity="0.49"/>
<ellipse cx="772.1" cy="689.8" rx="9.5" ry="12.5" fill="url(#sp)" opacity="0.57"/>
<rect x="787.8" y="489.5" width="14" height="200.5" fill="#8a8a8a" opacity="0.32" rx="7"/>
<ellipse cx="794.8" cy="500.8" rx="9.5" ry="12.5" fill="url(#sp)" opacity="0.70"/>
<ellipse cx="794.8" cy="519.7" rx="9.5" ry="12.5" fill="url(#sp)" opacity="0.46"/>
<ellipse cx="794.8" cy="538.6" rx="9.5" ry="12.5" fill="url(#sp)" opacity="0.64"/>
<ellipse cx="794.8" cy="557.5" rx="9.5" ry="12.5" fill="url(#sp)" opacity="0.53"/>
<ellipse cx="794.8" cy="576.4" rx="9.5" ry="12.5" fill="url(#sp)" opacity="0.70"/>
<ellipse cx="794.8" cy="595.3" rx="9.5" ry="12.5" fill="url(#sp)" opacity="0.47"/>
<ellipse cx="794.8" cy="614.2" rx="9.5" ry="12.5" fill="url(#sp)" opacity="0.80"/>
<ellipse cx="794.8" cy="633.1" rx="9.5" ry="12.5" fill="url(#sp)" opacity="0.46"/>
<ellipse cx="794.8" cy="652.0" rx="9.5" ry="12.5" fill="url(#sp)" opacity="0.66"/>
<ellipse cx="794.8" cy="670.9" rx="9.5" ry="12.5" fill="url(#sp)" opacity="0.51"/>
<ellipse cx="794.8" cy="689.8" rx="9.5" ry="12.5" fill="url(#sp)" opacity="0.67"/>
<rect x="810.6" y="489.5" width="14" height="200.5" fill="#8a8a8a" opacity="0.32" rx="7"/>
<ellipse cx="817.6" cy="500.8" rx="9.5" ry="12.5" fill="url(#sp)" opacity="0.64"/>
<ellipse cx="817.6" cy="519.7" rx="9.5" ry="12.5" fill="url(#sp)" opacity="0.57"/>
<ellipse cx="817.6" cy="538.6" rx="9.5" ry="12.5" fill="url(#sp)" opacity="0.63"/>
<ellipse cx="817.6" cy="557.5" rx="9.5" ry="12.5" fill="url(#sp)" opacity="0.43"/>
<ellipse cx="817.6" cy="576.4" rx="9.5" ry="12.5" fill="url(#sp)" opacity="0.70"/>
<ellipse cx="817.6" cy="595.3" rx="9.5" ry="12.5" fill="url(#sp)" opacity="0.48"/>
<ellipse cx="817.6" cy="614.2" rx="9.5" ry="12.5" fill="url(#sp)" opacity="0.68"/>
<ellipse cx="817.6" cy="633.1" rx="9.5" ry="12.5" fill="url(#sp)" opacity="0.44"/>
<ellipse cx="817.6" cy="652.0" rx="9.5" ry="12.5" fill="url(#sp)" opacity="0.60"/>
<ellipse cx="817.6" cy="670.9" rx="9.5" ry="12.5" fill="url(#sp)" opacity="0.48"/>
<ellipse cx="817.6" cy="689.8" rx="9.5" ry="12.5" fill="url(#sp)" opacity="0.60"/>
<rect x="833.4" y="489.5" width="14" height="200.5" fill="#8a8a8a" opacity="0.32" rx="7"/>
<ellipse cx="840.4" cy="500.8" rx="9.5" ry="12.5" fill="url(#sp)" opacity="0.74"/>
<ellipse cx="840.4" cy="519.7" rx="9.5" ry="12.5" fill="url(#sp)" opacity="0.48"/>
<ellipse cx="840.4" cy="538.6" rx="9.5" ry="12.5" fill="url(#sp)" opacity="0.67"/>
<ellipse cx="840.4" cy="557.5" rx="9.5" ry="12.5" fill="url(#sp)" opacity="0.53"/>
<ellipse cx="840.4" cy="576.4" rx="9.5" ry="12.5" fill="url(#sp)" opacity="0.64"/>
<ellipse cx="840.4" cy="595.3" rx="9.5" ry="12.5" fill="url(#sp)" opacity="0.51"/>
<ellipse cx="840.4" cy="614.2" rx="9.5" ry="12.5" fill="url(#sp)" opacity="0.79"/>
<ellipse cx="840.4" cy="633.1" rx="9.5" ry="12.5" fill="url(#sp)" opacity="0.46"/>
<ellipse cx="840.4" cy="652.0" rx="9.5" ry="12.5" fill="url(#sp)" opacity="0.61"/>
<ellipse cx="840.4" cy="670.9" rx="9.5" ry="12.5" fill="url(#sp)" opacity="0.52"/>
<ellipse cx="840.4" cy="689.8" rx="9.5" ry="12.5" fill="url(#sp)" opacity="0.70"/>
<rect x="856.1" y="489.5" width="14" height="200.5" fill="#8a8a8a" opacity="0.32" rx="7"/>
<ellipse cx="863.1" cy="500.8" rx="9.5" ry="12.5" fill="url(#sp)" opacity="0.67"/>
<ellipse cx="863.1" cy="519.7" rx="9.5" ry="12.5" fill="url(#sp)" opacity="0.46"/>
<ellipse cx="863.1" cy="538.6" rx="9.5" ry="12.5" fill="url(#sp)" opacity="0.73"/>
<ellipse cx="863.1" cy="557.5" rx="9.5" ry="12.5" fill="url(#sp)" opacity="0.53"/>
<ellipse cx="863.1" cy="576.4" rx="9.5" ry="12.5" fill="url(#sp)" opacity="0.59"/>
<ellipse cx="863.1" cy="595.3" rx="9.5" ry="12.5" fill="url(#sp)" opacity="0.57"/>
<ellipse cx="863.1" cy="614.2" rx="9.5" ry="12.5" fill="url(#sp)" opacity="0.80"/>
<ellipse cx="863.1" cy="633.1" rx="9.5" ry="12.5" fill="url(#sp)" opacity="0.52"/>
<ellipse cx="863.1" cy="652.0" rx="9.5" ry="12.5" fill="url(#sp)" opacity="0.67"/>
<ellipse cx="863.1" cy="670.9" rx="9.5" ry="12.5" fill="url(#sp)" opacity="0.41"/>
<ellipse cx="863.1" cy="689.8" rx="9.5" ry="12.5" fill="url(#sp)" opacity="0.56"/>
<rect x="878.9" y="489.5" width="14" height="200.5" fill="#8a8a8a" opacity="0.32" rx="7"/>
<ellipse cx="885.9" cy="500.8" rx="9.5" ry="12.5" fill="url(#sp)" opacity="0.81"/>
<ellipse cx="885.9" cy="519.7" rx="9.5" ry="12.5" fill="url(#sp)" opacity="0.46"/>
<ellipse cx="885.9" cy="538.6" rx="9.5" ry="12.5" fill="url(#sp)" opacity="0.72"/>
<ellipse cx="885.9" cy="557.5" rx="9.5" ry="12.5" fill="url(#sp)" opacity="0.43"/>
<ellipse cx="885.9" cy="576.4" rx="9.5" ry="12.5" fill="url(#sp)" opacity="0.71"/>
<ellipse cx="885.9" cy="595.3" rx="9.5" ry="12.5" fill="url(#sp)" opacity="0.52"/>
<ellipse cx="885.9" cy="614.2" rx="9.5" ry="12.5" fill="url(#sp)" opacity="0.68"/>
<ellipse cx="885.9" cy="633.1" rx="9.5" ry="12.5" fill="url(#sp)" opacity="0.46"/>
<ellipse cx="885.9" cy="652.0" rx="9.5" ry="12.5" fill="url(#sp)" opacity="0.72"/>
<ellipse cx="885.9" cy="670.9" rx="9.5" ry="12.5" fill="url(#sp)" opacity="0.41"/>
<ellipse cx="885.9" cy="689.8" rx="9.5" ry="12.5" fill="url(#sp)" opacity="0.60"/>
<rect x="901.7" y="489.5" width="14" height="200.5" fill="#8a8a8a" opacity="0.32" rx="7"/>
<ellipse cx="908.7" cy="500.8" rx="9.5" ry="12.5" fill="url(#sp)" opacity="0.73"/>
<ellipse cx="908.7" cy="519.7" rx="9.5" ry="12.5" fill="url(#sp)" opacity="0.55"/>
<ellipse cx="908.7" cy="538.6" rx="9.5" ry="12.5" fill="url(#sp)" opacity="0.70"/>
<ellipse cx="908.7" cy="557.5" rx="9.5" ry="12.5" fill="url(#sp)" opacity="0.44"/>
<ellipse cx="908.7" cy="576.4" rx="9.5" ry="12.5" fill="url(#sp)" opacity="0.72"/>
<ellipse cx="908.7" cy="595.3" rx="9.5" ry="12.5" fill="url(#sp)" opacity="0.46"/>
<ellipse cx="908.7" cy="614.2" rx="9.5" ry="12.5" fill="url(#sp)" opacity="0.62"/>
<ellipse cx="908.7" cy="633.1" rx="9.5" ry="12.5" fill="url(#sp)" opacity="0.47"/>
<ellipse cx="908.7" cy="652.0" rx="9.5" ry="12.5" fill="url(#sp)" opacity="0.67"/>
<ellipse cx="908.7" cy="670.9" rx="9.5" ry="12.5" fill="url(#sp)" opacity="0.41"/>
<ellipse cx="908.7" cy="689.8" rx="9.5" ry="12.5" fill="url(#sp)" opacity="0.59"/>
<rect x="924.4" y="489.5" width="14" height="200.5" fill="#8a8a8a" opacity="0.32" rx="7"/>
<ellipse cx="931.4" cy="500.8" rx="9.5" ry="12.5" fill="url(#sp)" opacity="0.69"/>
<ellipse cx="931.4" cy="519.7" rx="9.5" ry="12.5" fill="url(#sp)" opacity="0.51"/>
<ellipse cx="931.4" cy="538.6" rx="9.5" ry="12.5" fill="url(#sp)" opacity="0.61"/>
<ellipse cx="931.4" cy="557.5" rx="9.5" ry="12.5" fill="url(#sp)" opacity="0.45"/>
<ellipse cx="931.4" cy="576.4" rx="9.5" ry="12.5" fill="url(#sp)" opacity="0.72"/>
<ellipse cx="931.4" cy="595.3" rx="9.5" ry="12.5" fill="url(#sp)" opacity="0.57"/>
<ellipse cx="931.4" cy="614.2" rx="9.5" ry="12.5" fill="url(#sp)" opacity="0.75"/>
<ellipse cx="931.4" cy="633.1" rx="9.5" ry="12.5" fill="url(#sp)" opacity="0.53"/>
<ellipse cx="931.4" cy="652.0" rx="9.5" ry="12.5" fill="url(#sp)" opacity="0.70"/>
<ellipse cx="931.4" cy="670.9" rx="9.5" ry="12.5" fill="url(#sp)" opacity="0.42"/>
<ellipse cx="931.4" cy="689.8" rx="9.5" ry="12.5" fill="url(#sp)" opacity="0.56"/>
<rect x="947.2" y="489.5" width="14" height="200.5" fill="#8a8a8a" opacity="0.32" rx="7"/>
<ellipse cx="954.2" cy="500.8" rx="9.5" ry="12.5" fill="url(#sp)" opacity="0.62"/>
<ellipse cx="954.2" cy="519.7" rx="9.5" ry="12.5" fill="url(#sp)" opacity="0.56"/>
<ellipse cx="954.2" cy="538.6" rx="9.5" ry="12.5" fill="url(#sp)" opacity="0.72"/>
<ellipse cx="954.2" cy="557.5" rx="9.5" ry="12.5" fill="url(#sp)" opacity="0.53"/>
<ellipse cx="954.2" cy="576.4" rx="9.5" ry="12.5" fill="url(#sp)" opacity="0.56"/>
<ellipse cx="954.2" cy="595.3" rx="9.5" ry="12.5" fill="url(#sp)" opacity="0.52"/>
<ellipse cx="954.2" cy="614.2" rx="9.5" ry="12.5" fill="url(#sp)" opacity="0.71"/>
<ellipse cx="954.2" cy="633.1" rx="9.5" ry="12.5" fill="url(#sp)" opacity="0.54"/>
<ellipse cx="954.2" cy="652.0" rx="9.5" ry="12.5" fill="url(#sp)" opacity="0.65"/>
<ellipse cx="954.2" cy="670.9" rx="9.5" ry="12.5" fill="url(#sp)" opacity="0.53"/>
<ellipse cx="954.2" cy="689.8" rx="9.5" ry="12.5" fill="url(#sp)" opacity="0.57"/>
<rect x="970.0" y="489.5" width="14" height="200.5" fill="#8a8a8a" opacity="0.32" rx="7"/>
<ellipse cx="977.0" cy="500.8" rx="9.5" ry="12.5" fill="url(#sp)" opacity="0.73"/>
<ellipse cx="977.0" cy="519.7" rx="9.5" ry="12.5" fill="url(#sp)" opacity="0.54"/>
<ellipse cx="977.0" cy="538.6" rx="9.5" ry="12.5" fill="url(#sp)" opacity="0.76"/>
<ellipse cx="977.0" cy="557.5" rx="9.5" ry="12.5" fill="url(#sp)" opacity="0.50"/>
<ellipse cx="977.0" cy="576.4" rx="9.5" ry="12.5" fill="url(#sp)" opacity="0.68"/>
<ellipse cx="977.0" cy="595.3" rx="9.5" ry="12.5" fill="url(#sp)" opacity="0.54"/>
<ellipse cx="977.0" cy="614.2" rx="9.5" ry="12.5" fill="url(#sp)" opacity="0.80"/>
<ellipse cx="977.0" cy="633.1" rx="9.5" ry="12.5" fill="url(#sp)" opacity="0.48"/>
<ellipse cx="977.0" cy="652.0" rx="9.5" ry="12.5" fill="url(#sp)" opacity="0.72"/>
<ellipse cx="977.0" cy="670.9" rx="9.5" ry="12.5" fill="url(#sp)" opacity="0.52"/>
<ellipse cx="977.0" cy="689.8" rx="9.5" ry="12.5" fill="url(#sp)" opacity="0.71"/>
<rect x="992.8" y="489.5" width="14" height="200.5" fill="#8a8a8a" opacity="0.32" rx="7"/>
<ellipse cx="999.8" cy="500.8" rx="9.5" ry="12.5" fill="url(#sp)" opacity="0.70"/>
<ellipse cx="999.8" cy="519.7" rx="9.5" ry="12.5" fill="url(#sp)" opacity="0.54"/>
<ellipse cx="999.8" cy="538.6" rx="9.5" ry="12.5" fill="url(#sp)" opacity="0.75"/>
<ellipse cx="999.8" cy="557.5" rx="9.5" ry="12.5" fill="url(#sp)" opacity="0.48"/>
<ellipse cx="999.8" cy="576.4" rx="9.5" ry="12.5" fill="url(#sp)" opacity="0.67"/>
<ellipse cx="999.8" cy="595.3" rx="9.5" ry="12.5" fill="url(#sp)" opacity="0.49"/>
<ellipse cx="999.8" cy="614.2" rx="9.5" ry="12.5" fill="url(#sp)" opacity="0.73"/>
<ellipse cx="999.8" cy="633.1" rx="9.5" ry="12.5" fill="url(#sp)" opacity="0.52"/>
<ellipse cx="999.8" cy="652.0" rx="9.5" ry="12.5" fill="url(#sp)" opacity="0.60"/>
<ellipse cx="999.8" cy="670.9" rx="9.5" ry="12.5" fill="url(#sp)" opacity="0.48"/>
<ellipse cx="999.8" cy="689.8" rx="9.5" ry="12.5" fill="url(#sp)" opacity="0.74"/>
<rect x="1015.5" y="489.5" width="14" height="200.5" fill="#8a8a8a" opacity="0.32" rx="7"/>
<ellipse cx="1022.5" cy="500.8" rx="9.5" ry="12.5" fill="url(#sp)" opacity="0.80"/>
<ellipse cx="1022.5" cy="519.7" rx="9.5" ry="12.5" fill="url(#sp)" opacity="0.53"/>
<ellipse cx="1022.5" cy="538.6" rx="9.5" ry="12.5" fill="url(#sp)" opacity="0.66"/>
<ellipse cx="1022.5" cy="557.5" rx="9.5" ry="12.5" fill="url(#sp)" opacity="0.50"/>
<ellipse cx="1022.5" cy="576.4" rx="9.5" ry="12.5" fill="url(#sp)" opacity="0.66"/>
<ellipse cx="1022.5" cy="595.3" rx="9.5" ry="12.5" fill="url(#sp)" opacity="0.49"/>
<ellipse cx="1022.5" cy="614.2" rx="9.5" ry="12.5" fill="url(#sp)" opacity="0.79"/>
<ellipse cx="1022.5" cy="633.1" rx="9.5" ry="12.5" fill="url(#sp)" opacity="0.44"/>
<ellipse cx="1022.5" cy="652.0" rx="9.5" ry="12.5" fill="url(#sp)" opacity="0.73"/>
<ellipse cx="1022.5" cy="670.9" rx="9.5" ry="12.5" fill="url(#sp)" opacity="0.40"/>
<ellipse cx="1022.5" cy="689.8" rx="9.5" ry="12.5" fill="url(#sp)" opacity="0.66"/>
<rect x="1038.3" y="489.5" width="14" height="200.5" fill="#8a8a8a" opacity="0.32" rx="7"/>
<ellipse cx="1045.3" cy="500.8" rx="9.5" ry="12.5" fill="url(#sp)" opacity="0.71"/>
<ellipse cx="1045.3" cy="519.7" rx="9.5" ry="12.5" fill="url(#sp)" opacity="0.46"/>
<ellipse cx="1045.3" cy="538.6" rx="9.5" ry="12.5" fill="url(#sp)" opacity="0.72"/>
<ellipse cx="1045.3" cy="557.5" rx="9.5" ry="12.5" fill="url(#sp)" opacity="0.47"/>
<ellipse cx="1045.3" cy="576.4" rx="9.5" ry="12.5" fill="url(#sp)" opacity="0.67"/>
<ellipse cx="1045.3" cy="595.3" rx="9.5" ry="12.5" fill="url(#sp)" opacity="0.56"/>
<ellipse cx="1045.3" cy="614.2" rx="9.5" ry="12.5" fill="url(#sp)" opacity="0.67"/>
<ellipse cx="1045.3" cy="633.1" rx="9.5" ry="12.5" fill="url(#sp)" opacity="0.43"/>
<ellipse cx="1045.3" cy="652.0" rx="9.5" ry="12.5" fill="url(#sp)" opacity="0.64"/>
<ellipse cx="1045.3" cy="670.9" rx="9.5" ry="12.5" fill="url(#sp)" opacity="0.49"/>
<ellipse cx="1045.3" cy="689.8" rx="9.5" ry="12.5" fill="url(#sp)" opacity="0.59"/>
<rect x="1061.1" y="489.5" width="14" height="200.5" fill="#8a8a8a" opacity="0.32" rx="7"/>
<ellipse cx="1068.1" cy="500.8" rx="9.5" ry="12.5" fill="url(#sp)" opacity="0.65"/>
<ellipse cx="1068.1" cy="519.7" rx="9.5" ry="12.5" fill="url(#sp)" opacity="0.56"/>
<ellipse cx="1068.1" cy="538.6" rx="9.5" ry="12.5" fill="url(#sp)" opacity="0.71"/>
<ellipse cx="1068.1" cy="557.5" rx="9.5" ry="12.5" fill="url(#sp)" opacity="0.46"/>
<ellipse cx="1068.1" cy="576.4" rx="9.5" ry="12.5" fill="url(#sp)" opacity="0.72"/>
<ellipse cx="1068.1" cy="595.3" rx="9.5" ry="12.5" fill="url(#sp)" opacity="0.48"/>
<ellipse cx="1068.1" cy="614.2" rx="9.5" ry="12.5" fill="url(#sp)" opacity="0.75"/>
<ellipse cx="1068.1" cy="633.1" rx="9.5" ry="12.5" fill="url(#sp)" opacity="0.46"/>
<ellipse cx="1068.1" cy="652.0" rx="9.5" ry="12.5" fill="url(#sp)" opacity="0.67"/>
<ellipse cx="1068.1" cy="670.9" rx="9.5" ry="12.5" fill="url(#sp)" opacity="0.51"/>
<ellipse cx="1068.1" cy="689.8" rx="9.5" ry="12.5" fill="url(#sp)" opacity="0.72"/>
<rect x="1083.8" y="489.5" width="14" height="200.5" fill="#8a8a8a" opacity="0.32" rx="7"/>
<ellipse cx="1090.8" cy="500.8" rx="9.5" ry="12.5" fill="url(#sp)" opacity="0.80"/>
<ellipse cx="1090.8" cy="519.7" rx="9.5" ry="12.5" fill="url(#sp)" opacity="0.49"/>
<ellipse cx="1090.8" cy="538.6" rx="9.5" ry="12.5" fill="url(#sp)" opacity="0.70"/>
<ellipse cx="1090.8" cy="557.5" rx="9.5" ry="12.5" fill="url(#sp)" opacity="0.44"/>
<ellipse cx="1090.8" cy="576.4" rx="9.5" ry="12.5" fill="url(#sp)" opacity="0.58"/>
<ellipse cx="1090.8" cy="595.3" rx="9.5" ry="12.5" fill="url(#sp)" opacity="0.50"/>
<ellipse cx="1090.8" cy="614.2" rx="9.5" ry="12.5" fill="url(#sp)" opacity="0.79"/>
<ellipse cx="1090.8" cy="633.1" rx="9.5" ry="12.5" fill="url(#sp)" opacity="0.55"/>
<ellipse cx="1090.8" cy="652.0" rx="9.5" ry="12.5" fill="url(#sp)" opacity="0.72"/>
<ellipse cx="1090.8" cy="670.9" rx="9.5" ry="12.5" fill="url(#sp)" opacity="0.53"/>
<ellipse cx="1090.8" cy="689.8" rx="9.5" ry="12.5" fill="url(#sp)" opacity="0.60"/>
<rect x="647" y="686" width="436" height="116" fill="#707070" opacity="0.25"/>
<ellipse cx="638.4" cy="706.4" rx="11.0" ry="16.0" fill="url(#sp)" transform="rotate(-15 638.4 706.4)" opacity="0.85"/>
<ellipse cx="614.1" cy="720.8" rx="11.0" ry="16.0" fill="url(#sp)" transform="rotate(-15 614.1 720.8)" opacity="0.85"/>
<ellipse cx="634.2" cy="742.9" rx="11.0" ry="16.0" fill="url(#sp)" transform="rotate(15 634.2 742.9)" opacity="0.85"/>
<ellipse cx="610.8" cy="758.3" rx="11.0" ry="16.0" fill="url(#sp)" transform="rotate(-15 610.8 758.3)" opacity="0.85"/>
<ellipse cx="636.2" cy="776.0" rx="16.0" ry="10.5" fill="url(#sp)" transform="rotate(40 636.2 776.0)" opacity="0.85"/>
<ellipse cx="684.2" cy="706.4" rx="11.0" ry="16.0" fill="url(#sp)" transform="rotate(-15 684.2 706.4)" opacity="0.85"/>
<ellipse cx="659.9" cy="720.8" rx="11.0" ry="16.0" fill="url(#sp)" transform="rotate(-15 659.9 720.8)" opacity="0.85"/>
<ellipse cx="680.0" cy="742.9" rx="11.0" ry="16.0" fill="url(#sp)" transform="rotate(15 680.0 742.9)" opacity="0.85"/>
<ellipse cx="656.6" cy="758.3" rx="11.0" ry="16.0" fill="url(#sp)" transform="rotate(-15 656.6 758.3)" opacity="0.85"/>
<ellipse cx="682.0" cy="776.0" rx="16.0" ry="10.5" fill="url(#sp)" transform="rotate(40 682.0 776.0)" opacity="0.85"/>
<ellipse cx="730.0" cy="706.4" rx="11.0" ry="16.0" fill="url(#sp)" transform="rotate(-15 730.0 706.4)" opacity="0.85"/>
<ellipse cx="705.7" cy="720.8" rx="11.0" ry="16.0" fill="url(#sp)" transform="rotate(-15 705.7 720.8)" opacity="0.85"/>
<ellipse cx="725.8" cy="742.9" rx="11.0" ry="16.0" fill="url(#sp)" transform="rotate(15 725.8 742.9)" opacity="0.85"/>
<ellipse cx="702.4" cy="758.3" rx="11.0" ry="16.0" fill="url(#sp)" transform="rotate(-15 702.4 758.3)" opacity="0.85"/>
<ellipse cx="727.8" cy="776.0" rx="16.0" ry="10.5" fill="url(#sp)" transform="rotate(40 727.8 776.0)" opacity="0.85"/>
<ellipse cx="775.8" cy="706.4" rx="11.0" ry="16.0" fill="url(#sp)" transform="rotate(-15 775.8 706.4)" opacity="0.85"/>
<ellipse cx="751.5" cy="720.8" rx="11.0" ry="16.0" fill="url(#sp)" transform="rotate(-15 751.5 720.8)" opacity="0.85"/>
<ellipse cx="771.6" cy="742.9" rx="11.0" ry="16.0" fill="url(#sp)" transform="rotate(15 771.6 742.9)" opacity="0.85"/>
<ellipse cx="748.2" cy="758.3" rx="11.0" ry="16.0" fill="url(#sp)" transform="rotate(-15 748.2 758.3)" opacity="0.85"/>
<ellipse cx="773.6" cy="776.0" rx="16.0" ry="10.5" fill="url(#sp)" transform="rotate(40 773.6 776.0)" opacity="0.85"/>
<ellipse cx="821.6" cy="706.4" rx="11.0" ry="16.0" fill="url(#sp)" transform="rotate(-15 821.6 706.4)" opacity="0.85"/>
<ellipse cx="797.3" cy="720.8" rx="11.0" ry="16.0" fill="url(#sp)" transform="rotate(-15 797.3 720.8)" opacity="0.85"/>
<ellipse cx="817.4" cy="742.9" rx="11.0" ry="16.0" fill="url(#sp)" transform="rotate(15 817.4 742.9)" opacity="0.85"/>
<ellipse cx="794.0" cy="758.3" rx="11.0" ry="16.0" fill="url(#sp)" transform="rotate(-15 794.0 758.3)" opacity="0.85"/>
<ellipse cx="819.4" cy="776.0" rx="16.0" ry="10.5" fill="url(#sp)" transform="rotate(40 819.4 776.0)" opacity="0.85"/>
<ellipse cx="867.4" cy="706.4" rx="11.0" ry="16.0" fill="url(#sp)" transform="rotate(-15 867.4 706.4)" opacity="0.85"/>
<ellipse cx="843.1" cy="720.8" rx="11.0" ry="16.0" fill="url(#sp)" transform="rotate(-15 843.1 720.8)" opacity="0.85"/>
<ellipse cx="863.2" cy="742.9" rx="11.0" ry="16.0" fill="url(#sp)" transform="rotate(15 863.2 742.9)" opacity="0.85"/>
<ellipse cx="839.8" cy="758.3" rx="11.0" ry="16.0" fill="url(#sp)" transform="rotate(-15 839.8 758.3)" opacity="0.85"/>
<ellipse cx="865.2" cy="776.0" rx="16.0" ry="10.5" fill="url(#sp)" transform="rotate(40 865.2 776.0)" opacity="0.85"/>
<ellipse cx="913.2" cy="706.4" rx="11.0" ry="16.0" fill="url(#sp)" transform="rotate(-15 913.2 706.4)" opacity="0.85"/>
<ellipse cx="888.9" cy="720.8" rx="11.0" ry="16.0" fill="url(#sp)" transform="rotate(-15 888.9 720.8)" opacity="0.85"/>
<ellipse cx="909.0" cy="742.9" rx="11.0" ry="16.0" fill="url(#sp)" transform="rotate(15 909.0 742.9)" opacity="0.85"/>
<ellipse cx="885.6" cy="758.3" rx="11.0" ry="16.0" fill="url(#sp)" transform="rotate(-15 885.6 758.3)" opacity="0.85"/>
<ellipse cx="911.0" cy="776.0" rx="16.0" ry="10.5" fill="url(#sp)" transform="rotate(40 911.0 776.0)" opacity="0.85"/>
<ellipse cx="959.0" cy="706.4" rx="11.0" ry="16.0" fill="url(#sp)" transform="rotate(-15 959.0 706.4)" opacity="0.85"/>
<ellipse cx="934.7" cy="720.8" rx="11.0" ry="16.0" fill="url(#sp)" transform="rotate(-15 934.7 720.8)" opacity="0.85"/>
<ellipse cx="954.8" cy="742.9" rx="11.0" ry="16.0" fill="url(#sp)" transform="rotate(15 954.8 742.9)" opacity="0.85"/>
<ellipse cx="931.4" cy="758.3" rx="11.0" ry="16.0" fill="url(#sp)" transform="rotate(-15 931.4 758.3)" opacity="0.85"/>
<ellipse cx="956.8" cy="776.0" rx="16.0" ry="10.5" fill="url(#sp)" transform="rotate(40 956.8 776.0)" opacity="0.85"/>
<ellipse cx="1004.8" cy="706.4" rx="11.0" ry="16.0" fill="url(#sp)" transform="rotate(-15 1004.8 706.4)" opacity="0.85"/>
<ellipse cx="980.5" cy="720.8" rx="11.0" ry="16.0" fill="url(#sp)" transform="rotate(-15 980.5 720.8)" opacity="0.85"/>
<ellipse cx="1000.6" cy="742.9" rx="11.0" ry="16.0" fill="url(#sp)" transform="rotate(15 1000.6 742.9)" opacity="0.85"/>
<ellipse cx="977.2" cy="758.3" rx="11.0" ry="16.0" fill="url(#sp)" transform="rotate(-15 977.2 758.3)" opacity="0.85"/>
<ellipse cx="1002.6" cy="776.0" rx="16.0" ry="10.5" fill="url(#sp)" transform="rotate(40 1002.6 776.0)" opacity="0.85"/>
<ellipse cx="1050.6" cy="706.4" rx="11.0" ry="16.0" fill="url(#sp)" transform="rotate(-15 1050.6 706.4)" opacity="0.85"/>
<ellipse cx="1026.3" cy="720.8" rx="11.0" ry="16.0" fill="url(#sp)" transform="rotate(-15 1026.3 720.8)" opacity="0.85"/>
<ellipse cx="1046.4" cy="742.9" rx="11.0" ry="16.0" fill="url(#sp)" transform="rotate(15 1046.4 742.9)" opacity="0.85"/>
<ellipse cx="1023.0" cy="758.3" rx="11.0" ry="16.0" fill="url(#sp)" transform="rotate(-15 1023.0 758.3)" opacity="0.85"/>
<ellipse cx="1048.4" cy="776.0" rx="16.0" ry="10.5" fill="url(#sp)" transform="rotate(40 1048.4 776.0)" opacity="0.85"/>
<ellipse cx="1096.4" cy="706.4" rx="11.0" ry="16.0" fill="url(#sp)" transform="rotate(-15 1096.4 706.4)" opacity="0.85"/>
<ellipse cx="1072.1" cy="720.8" rx="11.0" ry="16.0" fill="url(#sp)" transform="rotate(-15 1072.1 720.8)" opacity="0.85"/>
<ellipse cx="1092.2" cy="742.9" rx="11.0" ry="16.0" fill="url(#sp)" transform="rotate(15 1092.2 742.9)" opacity="0.85"/>
<ellipse cx="1068.8" cy="758.3" rx="11.0" ry="16.0" fill="url(#sp)" transform="rotate(-15 1068.8 758.3)" opacity="0.85"/>
<ellipse cx="1094.2" cy="776.0" rx="16.0" ry="10.5" fill="url(#sp)" transform="rotate(40 1094.2 776.0)" opacity="0.85"/>
<ellipse cx="1142.2" cy="706.4" rx="11.0" ry="16.0" fill="url(#sp)" transform="rotate(-15 1142.2 706.4)" opacity="0.85"/>
<ellipse cx="1117.9" cy="720.8" rx="11.0" ry="16.0" fill="url(#sp)" transform="rotate(-15 1117.9 720.8)" opacity="0.85"/>
<ellipse cx="1138.0" cy="742.9" rx="11.0" ry="16.0" fill="url(#sp)" transform="rotate(15 1138.0 742.9)" opacity="0.85"/>
<ellipse cx="1114.6" cy="758.3" rx="11.0" ry="16.0" fill="url(#sp)" transform="rotate(-15 1114.6 758.3)" opacity="0.85"/>
<ellipse cx="1140.0" cy="776.0" rx="16.0" ry="10.5" fill="url(#sp)" transform="rotate(40 1140.0 776.0)" opacity="0.85"/>
<ellipse cx="618.6" cy="796.1" rx="12.0" ry="12.0" fill="url(#sp)" opacity="0.66"/>
<ellipse cx="642.8" cy="811.0" rx="11.0" ry="11.0" fill="url(#sp)" opacity="0.90"/>
<ellipse cx="634.0" cy="819.8" rx="11.0" ry="11.0" fill="url(#sp)" opacity="0.80"/>
<ellipse cx="610.8" cy="835.3" rx="12.0" ry="12.0" fill="url(#sp)" opacity="0.95"/>
<ellipse cx="634.0" cy="850.2" rx="11.0" ry="11.0" fill="url(#sp)" opacity="0.90"/>
<ellipse cx="641.7" cy="858.5" rx="11.0" ry="11.0" fill="url(#sp)" opacity="0.80"/>
<ellipse cx="618.6" cy="873.9" rx="12.0" ry="12.0" fill="url(#sp)" opacity="0.95"/>
<ellipse cx="642.8" cy="888.8" rx="11.0" ry="11.0" fill="url(#sp)" opacity="0.90"/>
<ellipse cx="634.0" cy="897.6" rx="11.0" ry="11.0" fill="url(#sp)" opacity="0.80"/>
<ellipse cx="610.8" cy="913.1" rx="12.0" ry="12.0" fill="url(#sp)" opacity="0.95"/>
<ellipse cx="634.0" cy="928.0" rx="11.0" ry="11.0" fill="url(#sp)" opacity="0.90"/>
<ellipse cx="641.7" cy="936.3" rx="11.0" ry="11.0" fill="url(#sp)" opacity="0.80"/>
<ellipse cx="618.6" cy="951.7" rx="12.0" ry="12.0" fill="url(#sp)" opacity="0.95"/>
<ellipse cx="642.8" cy="966.6" rx="11.0" ry="11.0" fill="url(#sp)" opacity="0.90"/>
<ellipse cx="634.0" cy="975.4" rx="11.0" ry="11.0" fill="url(#sp)" opacity="0.80"/>
<ellipse cx="610.8" cy="990.9" rx="12.0" ry="12.0" fill="url(#sp)" opacity="0.95"/>
<ellipse cx="634.0" cy="1005.8" rx="11.0" ry="11.0" fill="url(#sp)" opacity="0.90"/>
<ellipse cx="641.7" cy="1014.1" rx="11.0" ry="11.0" fill="url(#sp)" opacity="0.80"/>
<ellipse cx="618.6" cy="1029.5" rx="12.0" ry="12.0" fill="url(#sp)" opacity="0.95"/>
<ellipse cx="664.4" cy="796.1" rx="12.0" ry="12.0" fill="url(#sp)" opacity="0.66"/>
<ellipse cx="688.6" cy="811.0" rx="11.0" ry="11.0" fill="url(#sp)" opacity="0.90"/>
<ellipse cx="679.8" cy="819.8" rx="11.0" ry="11.0" fill="url(#sp)" opacity="0.80"/>
<ellipse cx="656.6" cy="835.3" rx="12.0" ry="12.0" fill="url(#sp)" opacity="0.95"/>
<ellipse cx="679.8" cy="850.2" rx="11.0" ry="11.0" fill="url(#sp)" opacity="0.90"/>
<ellipse cx="687.5" cy="858.5" rx="11.0" ry="11.0" fill="url(#sp)" opacity="0.80"/>
<ellipse cx="664.4" cy="873.9" rx="12.0" ry="12.0" fill="url(#sp)" opacity="0.95"/>
<ellipse cx="688.6" cy="888.8" rx="11.0" ry="11.0" fill="url(#sp)" opacity="0.90"/>
<ellipse cx="679.8" cy="897.6" rx="11.0" ry="11.0" fill="url(#sp)" opacity="0.80"/>
<ellipse cx="656.6" cy="913.1" rx="12.0" ry="12.0" fill="url(#sp)" opacity="0.95"/>
<ellipse cx="679.8" cy="928.0" rx="11.0" ry="11.0" fill="url(#sp)" opacity="0.90"/>
<ellipse cx="687.5" cy="936.3" rx="11.0" ry="11.0" fill="url(#sp)" opacity="0.80"/>
<ellipse cx="664.4" cy="951.7" rx="12.0" ry="12.0" fill="url(#sp)" opacity="0.95"/>
<ellipse cx="688.6" cy="966.6" rx="11.0" ry="11.0" fill="url(#sp)" opacity="0.90"/>
<ellipse cx="679.8" cy="975.4" rx="11.0" ry="11.0" fill="url(#sp)" opacity="0.80"/>
<ellipse cx="656.6" cy="990.9" rx="12.0" ry="12.0" fill="url(#sp)" opacity="0.95"/>
<ellipse cx="679.8" cy="1005.8" rx="11.0" ry="11.0" fill="url(#sp)" opacity="0.90"/>
<ellipse cx="687.5" cy="1014.1" rx="11.0" ry="11.0" fill="url(#sp)" opacity="0.80"/>
<ellipse cx="664.4" cy="1029.5" rx="12.0" ry="12.0" fill="url(#sp)" opacity="0.95"/>
<ellipse cx="710.2" cy="796.1" rx="12.0" ry="12.0" fill="url(#sp)" opacity="0.66"/>
<ellipse cx="734.4" cy="811.0" rx="11.0" ry="11.0" fill="url(#sp)" opacity="0.90"/>
<ellipse cx="725.6" cy="819.8" rx="11.0" ry="11.0" fill="url(#sp)" opacity="0.80"/>
<ellipse cx="702.4" cy="835.3" rx="12.0" ry="12.0" fill="url(#sp)" opacity="0.95"/>
<ellipse cx="725.6" cy="850.2" rx="11.0" ry="11.0" fill="url(#sp)" opacity="0.90"/>
<ellipse cx="733.3" cy="858.5" rx="11.0" ry="11.0" fill="url(#sp)" opacity="0.80"/>
<ellipse cx="710.2" cy="873.9" rx="12.0" ry="12.0" fill="url(#sp)" opacity="0.95"/>
<ellipse cx="734.4" cy="888.8" rx="11.0" ry="11.0" fill="url(#sp)" opacity="0.90"/>
<ellipse cx="725.6" cy="897.6" rx="11.0" ry="11.0" fill="url(#sp)" opacity="0.80"/>
<ellipse cx="702.4" cy="913.1" rx="12.0" ry="12.0" fill="url(#sp)" opacity="0.95"/>
<ellipse cx="725.6" cy="928.0" rx="11.0" ry="11.0" fill="url(#sp)" opacity="0.90"/>
<ellipse cx="733.3" cy="936.3" rx="11.0" ry="11.0" fill="url(#sp)" opacity="0.80"/>
<ellipse cx="710.2" cy="951.7" rx="12.0" ry="12.0" fill="url(#sp)" opacity="0.95"/>
<ellipse cx="734.4" cy="966.6" rx="11.0" ry="11.0" fill="url(#sp)" opacity="0.90"/>
<ellipse cx="725.6" cy="975.4" rx="11.0" ry="11.0" fill="url(#sp)" opacity="0.80"/>
<ellipse cx="702.4" cy="990.9" rx="12.0" ry="12.0" fill="url(#sp)" opacity="0.95"/>
<ellipse cx="725.6" cy="1005.8" rx="11.0" ry="11.0" fill="url(#sp)" opacity="0.90"/>
<ellipse cx="733.3" cy="1014.1" rx="11.0" ry="11.0" fill="url(#sp)" opacity="0.80"/>
<ellipse cx="710.2" cy="1029.5" rx="12.0" ry="12.0" fill="url(#sp)" opacity="0.95"/>
<ellipse cx="756.0" cy="796.1" rx="12.0" ry="12.0" fill="url(#sp)" opacity="0.66"/>
<ellipse cx="780.2" cy="811.0" rx="11.0" ry="11.0" fill="url(#sp)" opacity="0.90"/>
<ellipse cx="771.4" cy="819.8" rx="11.0" ry="11.0" fill="url(#sp)" opacity="0.80"/>
<ellipse cx="748.2" cy="835.3" rx="12.0" ry="12.0" fill="url(#sp)" opacity="0.95"/>
<ellipse cx="771.4" cy="850.2" rx="11.0" ry="11.0" fill="url(#sp)" opacity="0.90"/>
<ellipse cx="779.1" cy="858.5" rx="11.0" ry="11.0" fill="url(#sp)" opacity="0.80"/>
<ellipse cx="756.0" cy="873.9" rx="12.0" ry="12.0" fill="url(#sp)" opacity="0.95"/>
<ellipse cx="780.2" cy="888.8" rx="11.0" ry="11.0" fill="url(#sp)" opacity="0.90"/>
<ellipse cx="771.4" cy="897.6" rx="11.0" ry="11.0" fill="url(#sp)" opacity="0.80"/>
<ellipse cx="748.2" cy="913.1" rx="12.0" ry="12.0" fill="url(#sp)" opacity="0.95"/>
<ellipse cx="771.4" cy="928.0" rx="11.0" ry="11.0" fill="url(#sp)" opacity="0.90"/>
<ellipse cx="779.1" cy="936.3" rx="11.0" ry="11.0" fill="url(#sp)" opacity="0.80"/>
<ellipse cx="756.0" cy="951.7" rx="12.0" ry="12.0" fill="url(#sp)" opacity="0.95"/>
<ellipse cx="780.2" cy="966.6" rx="11.0" ry="11.0" fill="url(#sp)" opacity="0.90"/>
<ellipse cx="771.4" cy="975.4" rx="11.0" ry="11.0" fill="url(#sp)" opacity="0.80"/>
<ellipse cx="748.2" cy="990.9" rx="12.0" ry="12.0" fill="url(#sp)" opacity="0.95"/>
<ellipse cx="771.4" cy="1005.8" rx="11.0" ry="11.0" fill="url(#sp)" opacity="0.90"/>
<ellipse cx="779.1" cy="1014.1" rx="11.0" ry="11.0" fill="url(#sp)" opacity="0.80"/>
<ellipse cx="756.0" cy="1029.5" rx="12.0" ry="12.0" fill="url(#sp)" opacity="0.95"/>
<ellipse cx="801.8" cy="796.1" rx="12.0" ry="12.0" fill="url(#sp)" opacity="0.66"/>
<ellipse cx="826.0" cy="811.0" rx="11.0" ry="11.0" fill="url(#sp)" opacity="0.90"/>
<ellipse cx="817.2" cy="819.8" rx="11.0" ry="11.0" fill="url(#sp)" opacity="0.80"/>
<ellipse cx="794.0" cy="835.3" rx="12.0" ry="12.0" fill="url(#sp)" opacity="0.95"/>
<ellipse cx="817.2" cy="850.2" rx="11.0" ry="11.0" fill="url(#sp)" opacity="0.90"/>
<ellipse cx="824.9" cy="858.5" rx="11.0" ry="11.0" fill="url(#sp)" opacity="0.80"/>
<ellipse cx="801.8" cy="873.9" rx="12.0" ry="12.0" fill="url(#sp)" opacity="0.95"/>
<ellipse cx="826.0" cy="888.8" rx="11.0" ry="11.0" fill="url(#sp)" opacity="0.90"/>
<ellipse cx="817.2" cy="897.6" rx="11.0" ry="11.0" fill="url(#sp)" opacity="0.80"/>
<ellipse cx="794.0" cy="913.1" rx="12.0" ry="12.0" fill="url(#sp)" opacity="0.95"/>
<ellipse cx="817.2" cy="928.0" rx="11.0" ry="11.0" fill="url(#sp)" opacity="0.90"/>
<ellipse cx="824.9" cy="936.3" rx="11.0" ry="11.0" fill="url(#sp)" opacity="0.80"/>
<ellipse cx="801.8" cy="951.7" rx="12.0" ry="12.0" fill="url(#sp)" opacity="0.95"/>
<ellipse cx="826.0" cy="966.6" rx="11.0" ry="11.0" fill="url(#sp)" opacity="0.90"/>
<ellipse cx="817.2" cy="975.4" rx="11.0" ry="11.0" fill="url(#sp)" opacity="0.80"/>
<ellipse cx="794.0" cy="990.9" rx="12.0" ry="12.0" fill="url(#sp)" opacity="0.95"/>
<ellipse cx="817.2" cy="1005.8" rx="11.0" ry="11.0" fill="url(#sp)" opacity="0.90"/>
<ellipse cx="824.9" cy="1014.1" rx="11.0" ry="11.0" fill="url(#sp)" opacity="0.80"/>
<ellipse cx="801.8" cy="1029.5" rx="12.0" ry="12.0" fill="url(#sp)" opacity="0.95"/>
<ellipse cx="847.6" cy="796.1" rx="12.0" ry="12.0" fill="url(#sp)" opacity="0.66"/>
<ellipse cx="871.8" cy="811.0" rx="11.0" ry="11.0" fill="url(#sp)" opacity="0.90"/>
<ellipse cx="863.0" cy="819.8" rx="11.0" ry="11.0" fill="url(#sp)" opacity="0.80"/>
<ellipse cx="839.8" cy="835.3" rx="12.0" ry="12.0" fill="url(#sp)" opacity="0.95"/>
<ellipse cx="863.0" cy="850.2" rx="11.0" ry="11.0" fill="url(#sp)" opacity="0.90"/>
<ellipse cx="870.7" cy="858.5" rx="11.0" ry="11.0" fill="url(#sp)" opacity="0.80"/>
<ellipse cx="847.6" cy="873.9" rx="12.0" ry="12.0" fill="url(#sp)" opacity="0.95"/>
<ellipse cx="871.8" cy="888.8" rx="11.0" ry="11.0" fill="url(#sp)" opacity="0.90"/>
<ellipse cx="863.0" cy="897.6" rx="11.0" ry="11.0" fill="url(#sp)" opacity="0.80"/>
<ellipse cx="839.8" cy="913.1" rx="12.0" ry="12.0" fill="url(#sp)" opacity="0.95"/>
<ellipse cx="863.0" cy="928.0" rx="11.0" ry="11.0" fill="url(#sp)" opacity="0.90"/>
<ellipse cx="870.7" cy="936.3" rx="11.0" ry="11.0" fill="url(#sp)" opacity="0.80"/>
<ellipse cx="847.6" cy="951.7" rx="12.0" ry="12.0" fill="url(#sp)" opacity="0.95"/>
<ellipse cx="871.8" cy="966.6" rx="11.0" ry="11.0" fill="url(#sp)" opacity="0.90"/>
<ellipse cx="863.0" cy="975.4" rx="11.0" ry="11.0" fill="url(#sp)" opacity="0.80"/>
<ellipse cx="839.8" cy="990.9" rx="12.0" ry="12.0" fill="url(#sp)" opacity="0.95"/>
<ellipse cx="863.0" cy="1005.8" rx="11.0" ry="11.0" fill="url(#sp)" opacity="0.90"/>
<ellipse cx="870.7" cy="1014.1" rx="11.0" ry="11.0" fill="url(#sp)" opacity="0.80"/>
<ellipse cx="847.6" cy="1029.5" rx="12.0" ry="12.0" fill="url(#sp)" opacity="0.95"/>
<ellipse cx="893.4" cy="796.1" rx="12.0" ry="12.0" fill="url(#sp)" opacity="0.66"/>
<ellipse cx="917.6" cy="811.0" rx="11.0" ry="11.0" fill="url(#sp)" opacity="0.90"/>
<ellipse cx="908.8" cy="819.8" rx="11.0" ry="11.0" fill="url(#sp)" opacity="0.80"/>
<ellipse cx="885.6" cy="835.3" rx="12.0" ry="12.0" fill="url(#sp)" opacity="0.95"/>
<ellipse cx="908.8" cy="850.2" rx="11.0" ry="11.0" fill="url(#sp)" opacity="0.90"/>
<ellipse cx="916.5" cy="858.5" rx="11.0" ry="11.0" fill="url(#sp)" opacity="0.80"/>
<ellipse cx="893.4" cy="873.9" rx="12.0" ry="12.0" fill="url(#sp)" opacity="0.95"/>
<ellipse cx="917.6" cy="888.8" rx="11.0" ry="11.0" fill="url(#sp)" opacity="0.90"/>
<ellipse cx="908.8" cy="897.6" rx="11.0" ry="11.0" fill="url(#sp)" opacity="0.80"/>
<ellipse cx="885.6" cy="913.1" rx="12.0" ry="12.0" fill="url(#sp)" opacity="0.95"/>
<ellipse cx="908.8" cy="928.0" rx="11.0" ry="11.0" fill="url(#sp)" opacity="0.90"/>
<ellipse cx="916.5" cy="936.3" rx="11.0" ry="11.0" fill="url(#sp)" opacity="0.80"/>
<ellipse cx="893.4" cy="951.7" rx="12.0" ry="12.0" fill="url(#sp)" opacity="0.95"/>
<ellipse cx="917.6" cy="966.6" rx="11.0" ry="11.0" fill="url(#sp)" opacity="0.90"/>
<ellipse cx="908.8" cy="975.4" rx="11.0" ry="11.0" fill="url(#sp)" opacity="0.80"/>
<ellipse cx="885.6" cy="990.9" rx="12.0" ry="12.0" fill="url(#sp)" opacity="0.95"/>
<ellipse cx="908.8" cy="1005.8" rx="11.0" ry="11.0" fill="url(#sp)" opacity="0.90"/>
<ellipse cx="916.5" cy="1014.1" rx="11.0" ry="11.0" fill="url(#sp)" opacity="0.80"/>
<ellipse cx="893.4" cy="1029.5" rx="12.0" ry="12.0" fill="url(#sp)" opacity="0.95"/>
<ellipse cx="939.2" cy="796.1" rx="12.0" ry="12.0" fill="url(#sp)" opacity="0.66"/>
<ellipse cx="963.4" cy="811.0" rx="11.0" ry="11.0" fill="url(#sp)" opacity="0.90"/>
<ellipse cx="954.6" cy="819.8" rx="11.0" ry="11.0" fill="url(#sp)" opacity="0.80"/>
<ellipse cx="931.4" cy="835.3" rx="12.0" ry="12.0" fill="url(#sp)" opacity="0.95"/>
<ellipse cx="954.6" cy="850.2" rx="11.0" ry="11.0" fill="url(#sp)" opacity="0.90"/>
<ellipse cx="962.3" cy="858.5" rx="11.0" ry="11.0" fill="url(#sp)" opacity="0.80"/>
<ellipse cx="939.2" cy="873.9" rx="12.0" ry="12.0" fill="url(#sp)" opacity="0.95"/>
<ellipse cx="963.4" cy="888.8" rx="11.0" ry="11.0" fill="url(#sp)" opacity="0.90"/>
<ellipse cx="954.6" cy="897.6" rx="11.0" ry="11.0" fill="url(#sp)" opacity="0.80"/>
<ellipse cx="931.4" cy="913.1" rx="12.0" ry="12.0" fill="url(#sp)" opacity="0.95"/>
<ellipse cx="954.6" cy="928.0" rx="11.0" ry="11.0" fill="url(#sp)" opacity="0.90"/>
<ellipse cx="962.3" cy="936.3" rx="11.0" ry="11.0" fill="url(#sp)" opacity="0.80"/>
<ellipse cx="939.2" cy="951.7" rx="12.0" ry="12.0" fill="url(#sp)" opacity="0.95"/>
<ellipse cx="963.4" cy="966.6" rx="11.0" ry="11.0" fill="url(#sp)" opacity="0.90"/>
<ellipse cx="954.6" cy="975.4" rx="11.0" ry="11.0" fill="url(#sp)" opacity="0.80"/>
<ellipse cx="931.4" cy="990.9" rx="12.0" ry="12.0" fill="url(#sp)" opacity="0.95"/>
<ellipse cx="954.6" cy="1005.8" rx="11.0" ry="11.0" fill="url(#sp)" opacity="0.90"/>
<ellipse cx="962.3" cy="1014.1" rx="11.0" ry="11.0" fill="url(#sp)" opacity="0.80"/>
<ellipse cx="939.2" cy="1029.5" rx="12.0" ry="12.0" fill="url(#sp)" opacity="0.95"/>
<ellipse cx="985.0" cy="796.1" rx="12.0" ry="12.0" fill="url(#sp)" opacity="0.66"/>
<ellipse cx="1009.2" cy="811.0" rx="11.0" ry="11.0" fill="url(#sp)" opacity="0.90"/>
<ellipse cx="1000.4" cy="819.8" rx="11.0" ry="11.0" fill="url(#sp)" opacity="0.80"/>
<ellipse cx="977.2" cy="835.3" rx="12.0" ry="12.0" fill="url(#sp)" opacity="0.95"/>
<ellipse cx="1000.4" cy="850.2" rx="11.0" ry="11.0" fill="url(#sp)" opacity="0.90"/>
<ellipse cx="1008.1" cy="858.5" rx="11.0" ry="11.0" fill="url(#sp)" opacity="0.80"/>
<ellipse cx="985.0" cy="873.9" rx="12.0" ry="12.0" fill="url(#sp)" opacity="0.95"/>
<ellipse cx="1009.2" cy="888.8" rx="11.0" ry="11.0" fill="url(#sp)" opacity="0.90"/>
<ellipse cx="1000.4" cy="897.6" rx="11.0" ry="11.0" fill="url(#sp)" opacity="0.80"/>
<ellipse cx="977.2" cy="913.1" rx="12.0" ry="12.0" fill="url(#sp)" opacity="0.95"/>
<ellipse cx="1000.4" cy="928.0" rx="11.0" ry="11.0" fill="url(#sp)" opacity="0.90"/>
<ellipse cx="1008.1" cy="936.3" rx="11.0" ry="11.0" fill="url(#sp)" opacity="0.80"/>
<ellipse cx="985.0" cy="951.7" rx="12.0" ry="12.0" fill="url(#sp)" opacity="0.95"/>
<ellipse cx="1009.2" cy="966.6" rx="11.0" ry="11.0" fill="url(#sp)" opacity="0.90"/>
<ellipse cx="1000.4" cy="975.4" rx="11.0" ry="11.0" fill="url(#sp)" opacity="0.80"/>
<ellipse cx="977.2" cy="990.9" rx="12.0" ry="12.0" fill="url(#sp)" opacity="0.95"/>
<ellipse cx="1000.4" cy="1005.8" rx="11.0" ry="11.0" fill="url(#sp)" opacity="0.90"/>
<ellipse cx="1008.1" cy="1014.1" rx="11.0" ry="11.0" fill="url(#sp)" opacity="0.80"/>
<ellipse cx="985.0" cy="1029.5" rx="12.0" ry="12.0" fill="url(#sp)" opacity="0.95"/>
<ellipse cx="1030.8" cy="796.1" rx="12.0" ry="12.0" fill="url(#sp)" opacity="0.66"/>
<ellipse cx="1055.0" cy="811.0" rx="11.0" ry="11.0" fill="url(#sp)" opacity="0.90"/>
<ellipse cx="1046.2" cy="819.8" rx="11.0" ry="11.0" fill="url(#sp)" opacity="0.80"/>
<ellipse cx="1023.0" cy="835.3" rx="12.0" ry="12.0" fill="url(#sp)" opacity="0.95"/>
<ellipse cx="1046.2" cy="850.2" rx="11.0" ry="11.0" fill="url(#sp)" opacity="0.90"/>
<ellipse cx="1053.9" cy="858.5" rx="11.0" ry="11.0" fill="url(#sp)" opacity="0.80"/>
<ellipse cx="1030.8" cy="873.9" rx="12.0" ry="12.0" fill="url(#sp)" opacity="0.95"/>
<ellipse cx="1055.0" cy="888.8" rx="11.0" ry="11.0" fill="url(#sp)" opacity="0.90"/>
<ellipse cx="1046.2" cy="897.6" rx="11.0" ry="11.0" fill="url(#sp)" opacity="0.80"/>
<ellipse cx="1023.0" cy="913.1" rx="12.0" ry="12.0" fill="url(#sp)" opacity="0.95"/>
<ellipse cx="1046.2" cy="928.0" rx="11.0" ry="11.0" fill="url(#sp)" opacity="0.90"/>
<ellipse cx="1053.9" cy="936.3" rx="11.0" ry="11.0" fill="url(#sp)" opacity="0.80"/>
<ellipse cx="1030.8" cy="951.7" rx="12.0" ry="12.0" fill="url(#sp)" opacity="0.95"/>
<ellipse cx="1055.0" cy="966.6" rx="11.0" ry="11.0" fill="url(#sp)" opacity="0.90"/>
<ellipse cx="1046.2" cy="975.4" rx="11.0" ry="11.0" fill="url(#sp)" opacity="0.80"/>
<ellipse cx="1023.0" cy="990.9" rx="12.0" ry="12.0" fill="url(#sp)" opacity="0.95"/>
<ellipse cx="1046.2" cy="1005.8" rx="11.0" ry="11.0" fill="url(#sp)" opacity="0.90"/>
<ellipse cx="1053.9" cy="1014.1" rx="11.0" ry="11.0" fill="url(#sp)" opacity="0.80"/>
<ellipse cx="1030.8" cy="1029.5" rx="12.0" ry="12.0" fill="url(#sp)" opacity="0.95"/>
<ellipse cx="1076.6" cy="796.1" rx="12.0" ry="12.0" fill="url(#sp)" opacity="0.66"/>
<ellipse cx="1100.8" cy="811.0" rx="11.0" ry="11.0" fill="url(#sp)" opacity="0.90"/>
<ellipse cx="1092.0" cy="819.8" rx="11.0" ry="11.0" fill="url(#sp)" opacity="0.80"/>
<ellipse cx="1068.8" cy="835.3" rx="12.0" ry="12.0" fill="url(#sp)" opacity="0.95"/>
<ellipse cx="1092.0" cy="850.2" rx="11.0" ry="11.0" fill="url(#sp)" opacity="0.90"/>
<ellipse cx="1099.7" cy="858.5" rx="11.0" ry="11.0" fill="url(#sp)" opacity="0.80"/>
<ellipse cx="1076.6" cy="873.9" rx="12.0" ry="12.0" fill="url(#sp)" opacity="0.95"/>
<ellipse cx="1100.8" cy="888.8" rx="11.0" ry="11.0" fill="url(#sp)" opacity="0.90"/>
<ellipse cx="1092.0" cy="897.6" rx="11.0" ry="11.0" fill="url(#sp)" opacity="0.80"/>
<ellipse cx="1068.8" cy="913.1" rx="12.0" ry="12.0" fill="url(#sp)" opacity="0.95"/>
<ellipse cx="1092.0" cy="928.0" rx="11.0" ry="11.0" fill="url(#sp)" opacity="0.90"/>
<ellipse cx="1099.7" cy="936.3" rx="11.0" ry="11.0" fill="url(#sp)" opacity="0.80"/>
<ellipse cx="1076.6" cy="951.7" rx="12.0" ry="12.0" fill="url(#sp)" opacity="0.95"/>
<ellipse cx="1100.8" cy="966.6" rx="11.0" ry="11.0" fill="url(#sp)" opacity="0.90"/>
<ellipse cx="1092.0" cy="975.4" rx="11.0" ry="11.0" fill="url(#sp)" opacity="0.80"/>
<ellipse cx="1068.8" cy="990.9" rx="12.0" ry="12.0" fill="url(#sp)" opacity="0.95"/>
<ellipse cx="1092.0" cy="1005.8" rx="11.0" ry="11.0" fill="url(#sp)" opacity="0.90"/>
<ellipse cx="1099.7" cy="1014.1" rx="11.0" ry="11.0" fill="url(#sp)" opacity="0.80"/>
<ellipse cx="1076.6" cy="1029.5" rx="12.0" ry="12.0" fill="url(#sp)" opacity="0.95"/>
<ellipse cx="1122.4" cy="796.1" rx="12.0" ry="12.0" fill="url(#sp)" opacity="0.66"/>
<ellipse cx="1146.6" cy="811.0" rx="11.0" ry="11.0" fill="url(#sp)" opacity="0.90"/>
<ellipse cx="1137.8" cy="819.8" rx="11.0" ry="11.0" fill="url(#sp)" opacity="0.80"/>
<ellipse cx="1114.6" cy="835.3" rx="12.0" ry="12.0" fill="url(#sp)" opacity="0.95"/>
<ellipse cx="1137.8" cy="850.2" rx="11.0" ry="11.0" fill="url(#sp)" opacity="0.90"/>
<ellipse cx="1145.5" cy="858.5" rx="11.0" ry="11.0" fill="url(#sp)" opacity="0.80"/>
<ellipse cx="1122.4" cy="873.9" rx="12.0" ry="12.0" fill="url(#sp)" opacity="0.95"/>
<ellipse cx="1146.6" cy="888.8" rx="11.0" ry="11.0" fill="url(#sp)" opacity="0.90"/>
<ellipse cx="1137.8" cy="897.6" rx="11.0" ry="11.0" fill="url(#sp)" opacity="0.80"/>
<ellipse cx="1114.6" cy="913.1" rx="12.0" ry="12.0" fill="url(#sp)" opacity="0.95"/>
<ellipse cx="1137.8" cy="928.0" rx="11.0" ry="11.0" fill="url(#sp)" opacity="0.90"/>
<ellipse cx="1145.5" cy="936.3" rx="11.0" ry="11.0" fill="url(#sp)" opacity="0.80"/>
<ellipse cx="1122.4" cy="951.7" rx="12.0" ry="12.0" fill="url(#sp)" opacity="0.95"/>
<ellipse cx="1146.6" cy="966.6" rx="11.0" ry="11.0" fill="url(#sp)" opacity="0.90"/>
<ellipse cx="1137.8" cy="975.4" rx="11.0" ry="11.0" fill="url(#sp)" opacity="0.80"/>
<ellipse cx="1114.6" cy="990.9" rx="12.0" ry="12.0" fill="url(#sp)" opacity="0.95"/>
<ellipse cx="1137.8" cy="1005.8" rx="11.0" ry="11.0" fill="url(#sp)" opacity="0.90"/>
<ellipse cx="1145.5" cy="1014.1" rx="11.0" ry="11.0" fill="url(#sp)" opacity="0.80"/>
<ellipse cx="1122.4" cy="1029.5" rx="12.0" ry="12.0" fill="url(#sp)" opacity="0.95"/>
</g></g>
<line x1="650.4" y1="685.5" x2="1083" y2="685.5" stroke="#4a72b2" stroke-width="3.6" stroke-dasharray="12.1,4.7" stroke-linecap="round" opacity="0.9"/>
<line x1="650.4" y1="801.9" x2="1083" y2="801.9" stroke="#4a72b2" stroke-width="3.6" stroke-dasharray="12.1,4.7" stroke-linecap="round" opacity="0.9"/>
<line x1="842.3" y1="543.3" x2="842.3" y2="882" stroke="#f5f000" stroke-width="1.3"/><line x1="863.8" y1="543.3" x2="863.8" y2="885.6" stroke="#f5f000" stroke-width="1.3"/>
<line x1="810" y1="562.4" x2="842" y2="562.4" stroke="#f5f000" stroke-width="1.2"/><path d="M834,558.4 L842,562.4 L834,566.4 L837,562.4 Z" fill="#f5f000"/><line x1="897.4" y1="562.4" x2="865.6" y2="562.4" stroke="#f5f000" stroke-width="1.2"/><path d="M873.6,558.4 L865.6,562.4 L873.6,566.4 L870.6,562.4 Z" fill="#f5f000"/>
<line x1="809.2" y1="855.2" x2="842" y2="855.2" stroke="#f5f000" stroke-width="1.2"/><path d="M834,851.2 L842,855.2 L834,859.2 L837,855.2 Z" fill="#f5f000"/><line x1="895.3" y1="855.2" x2="864.5" y2="855.2" stroke="#f5f000" stroke-width="1.2"/><path d="M872.5,851.2 L864.5,855.2 L872.5,859.2 L869.5,855.2 Z" fill="#f5f000"/>
<text x="816" y="533.8" font-size="26" fill="#f5f000" textLength="83.5" lengthAdjust="spacingAndGlyphs" stroke="#f5f000" stroke-width="0.44">~4.4 Å</text>
<text x="810.2" y="917.3" font-size="26.5" fill="#f5f000" textLength="82" lengthAdjust="spacingAndGlyphs" stroke="#f5f000" stroke-width="0.45">~4.4 Å</text>
<rect x="991.7" y="501.5" width="82.5" height="38" fill="url(#lblR)" stroke="#ff1010" stroke-width="2.5"/>
<text x="999" y="529.2" font-size="24.5" fill="#ff1010" stroke="#ff1010" stroke-width="0.42">Bi<tspan font-size="17" dy="5">2</tspan><tspan dy="-5">Te</tspan><tspan font-size="17" dy="5">3</tspan></text>
<rect x="979.7" y="714.9" width="98.8" height="52.6" fill="url(#lblB)" stroke="#0a70c0" stroke-width="3.5"/>
<text x="1029" y="736.2" font-size="18" fill="#0a6cbf" text-anchor="middle" textLength="81" lengthAdjust="spacingAndGlyphs" stroke="#0a6cbf" stroke-width="0.31">Transition</text>
<text x="1029" y="759.5" font-size="18" fill="#0a6cbf" text-anchor="middle" textLength="38.6" lengthAdjust="spacingAndGlyphs" stroke="#0a6cbf" stroke-width="0.31">layer</text>
<rect x="992" y="874" width="81.5" height="37.6" fill="url(#lblG)" stroke="#10b040" stroke-width="2.2"/>
<text x="999" y="901.1" font-size="24.5" fill="#10901a" textLength="66.7" lengthAdjust="spacingAndGlyphs" stroke="#10901a" stroke-width="0.42">Ag<tspan font-size="17" dy="5">2</tspan><tspan dy="-5">Te</tspan></text>
<defs><radialGradient id="gW" cx="0.4" cy="0.35" r="0.65"><stop offset="0" stop-color="#ffffff"/><stop offset="0.5" stop-color="#e0e0e0"/><stop offset="1" stop-color="#909090"/></radialGradient><radialGradient id="gT2" cx="0.4" cy="0.35" r="0.65"><stop offset="0" stop-color="#80c0c0"/><stop offset="0.5" stop-color="#2a7a7a"/><stop offset="1" stop-color="#1a4a4a"/></radialGradient></defs>
<g stroke="#202020"><line x1="1153.8" y1="492.8" x2="1153.8" y2="735.6" stroke-width="2.2"/><line x1="1171.3" y1="492.8" x2="1171.3" y2="735.6" stroke-width="1.6"/><line x1="1189" y1="492.8" x2="1189" y2="735.6" stroke-width="2.2"/><line x1="1206.4" y1="492.8" x2="1206.4" y2="735.6" stroke-width="1" stroke="#606060"/><line x1="1153.8" y1="492.8" x2="1206.4" y2="492.8" stroke-width="1.8"/><line x1="1153.8" y1="735.6" x2="1206.4" y2="735.6" stroke-width="1.8"/></g>
<circle cx="1119.1" cy="492.8" r="3.6" fill="url(#gW)"/>
<circle cx="1136.6" cy="492.8" r="3.6" fill="url(#gW)"/>
<circle cx="1153.8" cy="492.8" r="3.6" fill="url(#gW)"/>
<circle cx="1171.3" cy="492.8" r="3.6" fill="url(#gW)"/>
<circle cx="1189" cy="492.8" r="3.6" fill="url(#gW)"/>
<circle cx="1206.4" cy="492.8" r="3.6" fill="url(#gW)"/>
<circle cx="1223.7" cy="492.8" r="3.6" fill="url(#gW)"/>
<circle cx="1136.6" cy="508.6" r="4.2" fill="url(#gT2)"/>
<circle cx="1153.8" cy="508.6" r="4.2" fill="url(#gT2)"/>
<circle cx="1171.3" cy="508.6" r="4.2" fill="url(#gT2)"/>
<circle cx="1189" cy="508.6" r="4.2" fill="url(#gT2)"/>
<circle cx="1153.8" cy="522.8" r="3.6" fill="url(#gW)"/>
<circle cx="1171.3" cy="522.8" r="3.6" fill="url(#gW)"/>
<circle cx="1189" cy="522.8" r="3.6" fill="url(#gW)"/>
<circle cx="1206.4" cy="522.8" r="3.6" fill="url(#gW)"/>
<circle cx="1119.1" cy="543.3" r="3.6" fill="url(#gW)"/>
<circle cx="1136.6" cy="543.3" r="3.6" fill="url(#gW)"/>
<circle cx="1153.8" cy="543.3" r="3.6" fill="url(#gW)"/>
<circle cx="1171.3" cy="543.3" r="3.6" fill="url(#gW)"/>
<circle cx="1189" cy="543.3" r="3.6" fill="url(#gW)"/>
<circle cx="1206.4" cy="543.3" r="3.6" fill="url(#gW)"/>
<circle cx="1223.7" cy="543.3" r="3.6" fill="url(#gW)"/>
<circle cx="1136.6" cy="557.4" r="4.2" fill="url(#gT2)"/>
<circle cx="1153.8" cy="557.4" r="4.2" fill="url(#gT2)"/>
<circle cx="1171.3" cy="557.4" r="4.2" fill="url(#gT2)"/>
<circle cx="1189" cy="557.4" r="4.2" fill="url(#gT2)"/>
<circle cx="1153.8" cy="573.9" r="3.6" fill="url(#gW)"/>
<circle cx="1171.3" cy="573.9" r="3.6" fill="url(#gW)"/>
<circle cx="1189" cy="573.9" r="3.6" fill="url(#gW)"/>
<circle cx="1206.4" cy="573.9" r="3.6" fill="url(#gW)"/>
<circle cx="1119.1" cy="589.9" r="4.2" fill="url(#gT2)"/>
<circle cx="1136.6" cy="589.9" r="4.2" fill="url(#gT2)"/>
<circle cx="1153.8" cy="589.9" r="4.2" fill="url(#gT2)"/>
<circle cx="1171.3" cy="589.9" r="4.2" fill="url(#gT2)"/>
<circle cx="1189" cy="589.9" r="4.2" fill="url(#gT2)"/>
<circle cx="1206.4" cy="589.9" r="4.2" fill="url(#gT2)"/>
<circle cx="1223.7" cy="589.9" r="4.2" fill="url(#gT2)"/>
<circle cx="1136.6" cy="604" r="3.6" fill="url(#gW)"/>
<circle cx="1153.8" cy="604" r="3.6" fill="url(#gW)"/>
<circle cx="1171.3" cy="604" r="3.6" fill="url(#gW)"/>
<circle cx="1189" cy="604" r="3.6" fill="url(#gW)"/>
<circle cx="1153.8" cy="624.6" r="3.6" fill="url(#gW)"/>
<circle cx="1171.3" cy="624.6" r="3.6" fill="url(#gW)"/>
<circle cx="1189" cy="624.6" r="3.6" fill="url(#gW)"/>
<circle cx="1206.4" cy="624.6" r="3.6" fill="url(#gW)"/>
<circle cx="1119.1" cy="637.8" r="4.2" fill="url(#gT2)"/>
<circle cx="1136.6" cy="637.8" r="4.2" fill="url(#gT2)"/>
<circle cx="1153.8" cy="637.8" r="4.2" fill="url(#gT2)"/>
<circle cx="1171.3" cy="637.8" r="4.2" fill="url(#gT2)"/>
<circle cx="1189" cy="637.8" r="4.2" fill="url(#gT2)"/>
<circle cx="1206.4" cy="637.8" r="4.2" fill="url(#gT2)"/>
<circle cx="1223.7" cy="637.8" r="4.2" fill="url(#gT2)"/>
<circle cx="1136.6" cy="654.3" r="3.6" fill="url(#gW)"/>
<circle cx="1153.8" cy="654.3" r="3.6" fill="url(#gW)"/>
<circle cx="1171.3" cy="654.3" r="3.6" fill="url(#gW)"/>
<circle cx="1189" cy="654.3" r="3.6" fill="url(#gW)"/>
<circle cx="1153.8" cy="670" r="4.2" fill="url(#gT2)"/>
<circle cx="1171.3" cy="670" r="4.2" fill="url(#gT2)"/>
<circle cx="1189" cy="670" r="4.2" fill="url(#gT2)"/>
<circle cx="1206.4" cy="670" r="4.2" fill="url(#gT2)"/>
<circle cx="1119.1" cy="684.7" r="3.6" fill="url(#gW)"/>
<circle cx="1136.6" cy="684.7" r="3.6" fill="url(#gW)"/>
<circle cx="1153.8" cy="684.7" r="3.6" fill="url(#gW)"/>
<circle cx="1171.3" cy="684.7" r="3.6" fill="url(#gW)"/>
<circle cx="1189" cy="684.7" r="3.6" fill="url(#gW)"/>
<circle cx="1206.4" cy="684.7" r="3.6" fill="url(#gW)"/>
<circle cx="1223.7" cy="684.7" r="3.6" fill="url(#gW)"/>
<circle cx="1136.6" cy="705.4" r="3.6" fill="url(#gW)"/>
<circle cx="1153.8" cy="705.4" r="3.6" fill="url(#gW)"/>
<circle cx="1171.3" cy="705.4" r="3.6" fill="url(#gW)"/>
<circle cx="1189" cy="705.4" r="3.6" fill="url(#gW)"/>
<circle cx="1153.8" cy="719.4" r="4.2" fill="url(#gT2)"/>
<circle cx="1171.3" cy="719.4" r="4.2" fill="url(#gT2)"/>
<circle cx="1189" cy="719.4" r="4.2" fill="url(#gT2)"/>
<circle cx="1206.4" cy="719.4" r="4.2" fill="url(#gT2)"/>
<circle cx="1119.1" cy="735.6" r="3.6" fill="url(#gW)"/>
<circle cx="1136.6" cy="735.6" r="3.6" fill="url(#gW)"/>
<circle cx="1153.8" cy="735.6" r="3.6" fill="url(#gW)"/>
<circle cx="1171.3" cy="735.6" r="3.6" fill="url(#gW)"/>
<circle cx="1189" cy="735.6" r="3.6" fill="url(#gW)"/>
<circle cx="1206.4" cy="735.6" r="3.6" fill="url(#gW)"/>
<circle cx="1223.7" cy="735.6" r="3.6" fill="url(#gW)"/>
<line x1="1117.8" y1="782.6" x2="1124.4" y2="791.0" stroke="#a0a0a0" stroke-width="0.9"/>
<line x1="1124.4" y1="791.0" x2="1124.4" y2="813.7" stroke="#a0a0a0" stroke-width="0.9"/>
<line x1="1124.4" y1="813.7" x2="1117.8" y2="820.5" stroke="#a0a0a0" stroke-width="0.9"/>
<line x1="1135.7" y1="794.6" x2="1142.1" y2="801.4" stroke="#a0a0a0" stroke-width="0.9"/>
<line x1="1142.1" y1="801.4" x2="1142.1" y2="824.4" stroke="#a0a0a0" stroke-width="0.9"/>
<line x1="1142.1" y1="824.4" x2="1135.7" y2="832.2" stroke="#a0a0a0" stroke-width="0.9"/>
<line x1="1117.8" y1="820.5" x2="1117.8" y2="843.4" stroke="#a0a0a0" stroke-width="0.9"/>
<line x1="1117.8" y1="843.4" x2="1124.4" y2="851.8" stroke="#a0a0a0" stroke-width="0.9"/>
<line x1="1124.4" y1="851.8" x2="1124.4" y2="874.5" stroke="#a0a0a0" stroke-width="0.9"/>
<line x1="1124.4" y1="874.5" x2="1117.8" y2="881.3" stroke="#a0a0a0" stroke-width="0.9"/>
<line x1="1135.7" y1="855.4" x2="1142.1" y2="862.2" stroke="#a0a0a0" stroke-width="0.9"/>
<line x1="1142.1" y1="862.2" x2="1142.1" y2="885.2" stroke="#a0a0a0" stroke-width="0.9"/>
<line x1="1142.1" y1="885.2" x2="1135.7" y2="893.0" stroke="#a0a0a0" stroke-width="0.9"/>
<line x1="1117.8" y1="881.3" x2="1117.8" y2="904.2" stroke="#a0a0a0" stroke-width="0.9"/>
<line x1="1135.7" y1="855.4" x2="1135.7" y2="832.2" stroke="#a0a0a0" stroke-width="0.9"/>
<line x1="1117.8" y1="904.2" x2="1124.4" y2="912.6" stroke="#a0a0a0" stroke-width="0.9"/>
<line x1="1135.7" y1="916.2" x2="1142.1" y2="923.0" stroke="#a0a0a0" stroke-width="0.9"/>
<line x1="1135.7" y1="916.2" x2="1135.7" y2="893.0" stroke="#a0a0a0" stroke-width="0.9"/>
<line x1="1153.7" y1="782.6" x2="1160.3" y2="791.0" stroke="#a0a0a0" stroke-width="0.9"/>
<line x1="1160.3" y1="791.0" x2="1160.3" y2="813.7" stroke="#a0a0a0" stroke-width="0.9"/>
<line x1="1160.3" y1="813.7" x2="1153.7" y2="820.5" stroke="#a0a0a0" stroke-width="0.9"/>
<line x1="1171.6" y1="794.6" x2="1178.0" y2="801.4" stroke="#a0a0a0" stroke-width="0.9"/>
<line x1="1178.0" y1="801.4" x2="1178.0" y2="824.4" stroke="#a0a0a0" stroke-width="0.9"/>
<line x1="1178.0" y1="824.4" x2="1171.6" y2="832.2" stroke="#a0a0a0" stroke-width="0.9"/>
<line x1="1153.7" y1="820.5" x2="1153.7" y2="843.4" stroke="#a0a0a0" stroke-width="0.9"/>
<line x1="1153.7" y1="843.4" x2="1160.3" y2="851.8" stroke="#a0a0a0" stroke-width="0.9"/>
<line x1="1160.3" y1="851.8" x2="1160.3" y2="874.5" stroke="#a0a0a0" stroke-width="0.9"/>
<line x1="1160.3" y1="874.5" x2="1153.7" y2="881.3" stroke="#a0a0a0" stroke-width="0.9"/>
<line x1="1171.6" y1="855.4" x2="1178.0" y2="862.2" stroke="#a0a0a0" stroke-width="0.9"/>
<line x1="1178.0" y1="862.2" x2="1178.0" y2="885.2" stroke="#a0a0a0" stroke-width="0.9"/>
<line x1="1178.0" y1="885.2" x2="1171.6" y2="893.0" stroke="#a0a0a0" stroke-width="0.9"/>
<line x1="1153.7" y1="881.3" x2="1153.7" y2="904.2" stroke="#a0a0a0" stroke-width="0.9"/>
<line x1="1171.6" y1="855.4" x2="1171.6" y2="832.2" stroke="#a0a0a0" stroke-width="0.9"/>
<line x1="1153.7" y1="904.2" x2="1160.3" y2="912.6" stroke="#a0a0a0" stroke-width="0.9"/>
<line x1="1171.6" y1="916.2" x2="1178.0" y2="923.0" stroke="#a0a0a0" stroke-width="0.9"/>
<line x1="1171.6" y1="916.2" x2="1171.6" y2="893.0" stroke="#a0a0a0" stroke-width="0.9"/>
<line x1="1189.6" y1="782.6" x2="1196.2" y2="791.0" stroke="#a0a0a0" stroke-width="0.9"/>
<line x1="1196.2" y1="791.0" x2="1196.2" y2="813.7" stroke="#a0a0a0" stroke-width="0.9"/>
<line x1="1196.2" y1="813.7" x2="1189.6" y2="820.5" stroke="#a0a0a0" stroke-width="0.9"/>
<line x1="1207.5" y1="794.6" x2="1213.9" y2="801.4" stroke="#a0a0a0" stroke-width="0.9"/>
<line x1="1213.9" y1="801.4" x2="1213.9" y2="824.4" stroke="#a0a0a0" stroke-width="0.9"/>
<line x1="1213.9" y1="824.4" x2="1207.5" y2="832.2" stroke="#a0a0a0" stroke-width="0.9"/>
<line x1="1189.6" y1="820.5" x2="1189.6" y2="843.4" stroke="#a0a0a0" stroke-width="0.9"/>
<line x1="1189.6" y1="843.4" x2="1196.2" y2="851.8" stroke="#a0a0a0" stroke-width="0.9"/>
<line x1="1196.2" y1="851.8" x2="1196.2" y2="874.5" stroke="#a0a0a0" stroke-width="0.9"/>
<line x1="1196.2" y1="874.5" x2="1189.6" y2="881.3" stroke="#a0a0a0" stroke-width="0.9"/>
<line x1="1207.5" y1="855.4" x2="1213.9" y2="862.2" stroke="#a0a0a0" stroke-width="0.9"/>
<line x1="1213.9" y1="862.2" x2="1213.9" y2="885.2" stroke="#a0a0a0" stroke-width="0.9"/>
<line x1="1213.9" y1="885.2" x2="1207.5" y2="893.0" stroke="#a0a0a0" stroke-width="0.9"/>
<line x1="1189.6" y1="881.3" x2="1189.6" y2="904.2" stroke="#a0a0a0" stroke-width="0.9"/>
<line x1="1207.5" y1="855.4" x2="1207.5" y2="832.2" stroke="#a0a0a0" stroke-width="0.9"/>
<line x1="1189.6" y1="904.2" x2="1196.2" y2="912.6" stroke="#a0a0a0" stroke-width="0.9"/>
<line x1="1207.5" y1="916.2" x2="1213.9" y2="923.0" stroke="#a0a0a0" stroke-width="0.9"/>
<line x1="1207.5" y1="916.2" x2="1207.5" y2="893.0" stroke="#a0a0a0" stroke-width="0.9"/>
<g fill="none" stroke="#b0b0b0" stroke-width="1"><rect x="1166.2" y="792.3" width="36.1" height="121.5"/><line x1="1166.2" y1="853.1" x2="1202.3" y2="853.1"/></g>
<circle cx="1117.8" cy="782.6" r="3.8" fill="url(#gOr)"/>
<circle cx="1117.8" cy="820.5" r="3.5" fill="url(#gW)"/>
<circle cx="1124.4" cy="791.0" r="3.5" fill="url(#gW)"/>
<circle cx="1124.4" cy="813.7" r="3.8" fill="url(#gOr)"/>
<circle cx="1135.7" cy="794.6" r="3.5" fill="url(#gW)"/>
<circle cx="1135.7" cy="832.2" r="3.8" fill="url(#gOr)"/>
<circle cx="1142.1" cy="801.4" r="3.8" fill="url(#gOr)"/>
<circle cx="1142.1" cy="824.4" r="3.5" fill="url(#gW)"/>
<circle cx="1117.8" cy="843.4" r="3.8" fill="url(#gOr)"/>
<circle cx="1117.8" cy="881.3" r="3.5" fill="url(#gW)"/>
<circle cx="1124.4" cy="851.8" r="3.5" fill="url(#gW)"/>
<circle cx="1124.4" cy="874.5" r="3.8" fill="url(#gOr)"/>
<circle cx="1135.7" cy="855.4" r="3.5" fill="url(#gW)"/>
<circle cx="1135.7" cy="893.0" r="3.8" fill="url(#gOr)"/>
<circle cx="1142.1" cy="862.2" r="3.8" fill="url(#gOr)"/>
<circle cx="1142.1" cy="885.2" r="3.5" fill="url(#gW)"/>
<circle cx="1117.8" cy="904.2" r="3.8" fill="url(#gOr)"/>
<circle cx="1124.4" cy="912.6" r="3.5" fill="url(#gW)"/>
<circle cx="1135.7" cy="916.2" r="3.5" fill="url(#gW)"/>
<circle cx="1142.1" cy="923.0" r="3.8" fill="url(#gOr)"/>
<circle cx="1153.7" cy="782.6" r="3.8" fill="url(#gOr)"/>
<circle cx="1153.7" cy="820.5" r="3.5" fill="url(#gW)"/>
<circle cx="1160.3" cy="791.0" r="3.5" fill="url(#gW)"/>
<circle cx="1160.3" cy="813.7" r="3.8" fill="url(#gOr)"/>
<circle cx="1171.6" cy="794.6" r="3.5" fill="url(#gW)"/>
<circle cx="1171.6" cy="832.2" r="3.8" fill="url(#gOr)"/>
<circle cx="1178.0" cy="801.4" r="3.8" fill="url(#gOr)"/>
<circle cx="1178.0" cy="824.4" r="3.5" fill="url(#gW)"/>
<circle cx="1153.7" cy="843.4" r="3.8" fill="url(#gOr)"/>
<circle cx="1153.7" cy="881.3" r="3.5" fill="url(#gW)"/>
<circle cx="1160.3" cy="851.8" r="3.5" fill="url(#gW)"/>
<circle cx="1160.3" cy="874.5" r="3.8" fill="url(#gOr)"/>
<circle cx="1171.6" cy="855.4" r="3.5" fill="url(#gW)"/>
<circle cx="1171.6" cy="893.0" r="3.8" fill="url(#gOr)"/>
<circle cx="1178.0" cy="862.2" r="3.8" fill="url(#gOr)"/>
<circle cx="1178.0" cy="885.2" r="3.5" fill="url(#gW)"/>
<circle cx="1153.7" cy="904.2" r="3.8" fill="url(#gOr)"/>
<circle cx="1160.3" cy="912.6" r="3.5" fill="url(#gW)"/>
<circle cx="1171.6" cy="916.2" r="3.5" fill="url(#gW)"/>
<circle cx="1178.0" cy="923.0" r="3.8" fill="url(#gOr)"/>
<circle cx="1189.6" cy="782.6" r="3.8" fill="url(#gOr)"/>
<circle cx="1189.6" cy="820.5" r="3.5" fill="url(#gW)"/>
<circle cx="1196.2" cy="791.0" r="3.5" fill="url(#gW)"/>
<circle cx="1196.2" cy="813.7" r="3.8" fill="url(#gOr)"/>
<circle cx="1207.5" cy="794.6" r="3.5" fill="url(#gW)"/>
<circle cx="1207.5" cy="832.2" r="3.8" fill="url(#gOr)"/>
<circle cx="1213.9" cy="801.4" r="3.8" fill="url(#gOr)"/>
<circle cx="1213.9" cy="824.4" r="3.5" fill="url(#gW)"/>
<circle cx="1189.6" cy="843.4" r="3.8" fill="url(#gOr)"/>
<circle cx="1189.6" cy="881.3" r="3.5" fill="url(#gW)"/>
<circle cx="1196.2" cy="851.8" r="3.5" fill="url(#gW)"/>
<circle cx="1196.2" cy="874.5" r="3.8" fill="url(#gOr)"/>
<circle cx="1207.5" cy="855.4" r="3.5" fill="url(#gW)"/>
<circle cx="1207.5" cy="893.0" r="3.8" fill="url(#gOr)"/>
<circle cx="1213.9" cy="862.2" r="3.8" fill="url(#gOr)"/>
<circle cx="1213.9" cy="885.2" r="3.5" fill="url(#gW)"/>
<circle cx="1189.6" cy="904.2" r="3.8" fill="url(#gOr)"/>
<circle cx="1196.2" cy="912.6" r="3.5" fill="url(#gW)"/>
<circle cx="1207.5" cy="916.2" r="3.5" fill="url(#gW)"/>
<circle cx="1213.9" cy="923.0" r="3.8" fill="url(#gOr)"/>
<line x1="1152.9" y1="459" x2="1152.9" y2="951.6" stroke="#ff4040" stroke-width="1" opacity="0.85"/><line x1="1172" y1="459" x2="1172" y2="951.6" stroke="#ff4040" stroke-width="1" opacity="0.85"/>
<line x1="1118.5" y1="471" x2="1150.5" y2="471" stroke="#ff4040" stroke-width="1"/><path d="M1142.5,467 L1150.5,471 L1142.5,475 L1145.5,471 Z" fill="#ff4040"/><line x1="1205.5" y1="471" x2="1173.9" y2="471" stroke="#ff4040" stroke-width="1"/><path d="M1181.9,467 L1173.9,471 L1181.9,475 L1178.9,471 Z" fill="#ff4040"/>
<line x1="1118.5" y1="936.7" x2="1150.5" y2="936.7" stroke="#ff4040" stroke-width="1"/><path d="M1142.5,932.7 L1150.5,936.7 L1142.5,940.7 L1145.5,936.7 Z" fill="#ff4040"/><line x1="1205.5" y1="936.7" x2="1173.9" y2="936.7" stroke="#ff4040" stroke-width="1"/><path d="M1181.9,932.7 L1173.9,936.7 L1181.9,940.7 L1178.9,936.7 Z" fill="#ff4040"/>
<text x="1239.3" y="649" font-size="27" fill="#1a70c0" stroke="#1a70c0" stroke-width="0.46">Bi</text>
<text x="1235.5" y="696" font-size="27" fill="#a8a8a8" stroke="#a8a8a8" stroke-width="0.46">Te</text>
<text x="1230" y="834" font-size="27" fill="#f5b400" stroke="#f5b400" stroke-width="0.46">Ag</text>
<text x="1126" y="978.9" font-size="25.5" fill="#ff1010" textLength="73.8" lengthAdjust="spacingAndGlyphs" stroke="#ff1010" stroke-width="0.43">~4.4 Å</text>
<defs><linearGradient id="ebg" x1="0" y1="0" x2="0" y2="1"><stop offset="0" stop-color="#fcefe4"/><stop offset="1" stop-color="#fffaf6"/></linearGradient><linearGradient id="eb1" x1="0" y1="0" x2="0" y2="1"><stop offset="0" stop-color="#10c060"/><stop offset="0.45" stop-color="#0a8a48"/><stop offset="1" stop-color="#001a0a"/></linearGradient><pattern id="hatch" width="5.6" height="5.6" patternUnits="userSpaceOnUse" patternTransform="rotate(45)"><path d="M0,0 L0,5.6 M0,0 L5.6,0" stroke="#fff" stroke-width="0.9" stroke-opacity="0.7"/></pattern>
<linearGradient id="eg0" x1="0" y1="0" x2="0" y2="1"><stop offset="0" stop-color="#ff00ff"/><stop offset="1" stop-color="#080008"/></linearGradient>
<linearGradient id="eg1" x1="0" y1="0" x2="0" y2="1"><stop offset="0" stop-color="#ff8000"/><stop offset="1" stop-color="#080008"/></linearGradient>
<linearGradient id="eg2" x1="0" y1="0" x2="0" y2="1"><stop offset="0" stop-color="#0080ff"/><stop offset="1" stop-color="#080008"/></linearGradient>
<linearGradient id="eg3" x1="0" y1="0" x2="0" y2="1"><stop offset="0" stop-color="#a040ff"/><stop offset="1" stop-color="#080008"/></linearGradient>
<linearGradient id="eg4" x1="0" y1="0" x2="0" y2="1"><stop offset="0" stop-color="#c8c800"/><stop offset="1" stop-color="#080008"/></linearGradient>
<linearGradient id="eg5" x1="0" y1="0" x2="0" y2="1"><stop offset="0" stop-color="#00c0c0"/><stop offset="1" stop-color="#080008"/></linearGradient>
</defs>
<rect x="119.2" y="978.5" width="437.8" height="437.5" fill="url(#ebg)"/>
<line x1="119.2" y1="1079.3" x2="557" y2="1079.3" stroke="#808080" stroke-width="2.6" stroke-dasharray="9,5"/>
<rect x="258" y="987.2" width="293.4" height="83.1" fill="#000"/>
<rect x="254.4" y="983.6" width="293.4" height="83.1" fill="#fff" stroke="#555" stroke-width="1"/>
<text x="518.2" y="1009.2" font-size="23.5" fill="#000" text-anchor="end" textLength="235.2" lengthAdjust="spacingAndGlyphs" stroke="#000" stroke-width="0.40">n-type Bi<tspan font-size="17" dy="7">2</tspan><tspan dy="-7">Te</tspan><tspan font-size="17" dy="7">3</tspan><tspan dy="-7">-based</tspan></text>
<text x="518.2" y="1049.6" font-size="23.5" fill="#000" text-anchor="end" textLength="196.6" lengthAdjust="spacingAndGlyphs" stroke="#000" stroke-width="0.40">flexible thin films</text>
<rect x="144.5" y="1012.1" width="36.6" height="403.2" fill="url(#eb1)" stroke="#18d070" stroke-width="2" rx="1"/>
<rect x="202.5" y="1270.8" width="36.6" height="144.5" fill="url(#eg0)" stroke="#ff00ff" stroke-width="2" rx="1"/>
<rect x="203.5" y="1271.8" width="34.6" height="143.5" fill="url(#hatch)"/>
<rect x="261" y="1274.2" width="36.6" height="141.1" fill="url(#eg1)" stroke="#ff8000" stroke-width="2" rx="1"/>
<rect x="262" y="1275.2" width="34.6" height="140.1" fill="url(#hatch)"/>
<rect x="319.6" y="1311.1" width="36.6" height="104.2" fill="url(#eg2)" stroke="#0080ff" stroke-width="2" rx="1"/>
<rect x="320.6" y="1312.1" width="34.6" height="103.2" fill="url(#hatch)"/>
<rect x="377.8" y="1331.3" width="36.6" height="84.0" fill="url(#eg3)" stroke="#a040ff" stroke-width="2" rx="1"/>
<rect x="378.8" y="1332.3" width="34.6" height="83.0" fill="url(#hatch)"/>
<rect x="436.2" y="1338.0" width="36.6" height="77.3" fill="url(#eg4)" stroke="#c8c800" stroke-width="2" rx="1"/>
<rect x="437.2" y="1339.0" width="34.6" height="76.3" fill="url(#hatch)"/>
<rect x="494.3" y="1348.1" width="36.6" height="67.2" fill="url(#eg5)" stroke="#00c0c0" stroke-width="2" rx="1"/>
<rect x="495.3" y="1349.1" width="34.6" height="66.2" fill="url(#hatch)"/>
<text x="161.6" y="1005.5" font-size="27" fill="#10b860" text-anchor="middle" textLength="37" lengthAdjust="spacingAndGlyphs" stroke="#10b860" stroke-width="0.46">1.2</text>
<g transform="rotate(-90 171.7 1384.0)"><text x="171.7" y="1384" font-size="25" fill="#ffffff" textLength="312" lengthAdjust="spacingAndGlyphs" stroke="#ffffff" stroke-width="0.43">Ag-doped  Bi<tspan font-size="17" dy="4">2</tspan><tspan dy="-4">Te</tspan><tspan font-size="17" dy="4">3</tspan><tspan dy="-4">, </tspan><tspan font-weight="bold">this work</tspan></text></g>
<g transform="rotate(-90 229.0 1261.6)"><text x="229.0" y="1261.6" font-size="25" fill="#ff20ff" stroke="#ff20ff" stroke-width="0.43">Bi<tspan font-size="17" dy="4">2</tspan><tspan dy="-4">Te</tspan><tspan font-size="17" dy="4">3</tspan></text></g>
<g transform="rotate(-90 277.4 1263.7)"><text x="277.4" y="1263.7" font-size="25" fill="#f08020" textLength="167" lengthAdjust="spacingAndGlyphs" stroke="#f08020" stroke-width="0.43">Nanocrystalline</text></g>
<g transform="rotate(-90 309.8 1208.0)"><text x="309.8" y="1208" font-size="25" fill="#f08020" stroke="#f08020" stroke-width="0.43">Bi<tspan font-size="17" dy="4">2</tspan><tspan dy="-4">Te</tspan><tspan font-size="17" dy="4">3</tspan></text></g>
<g transform="rotate(-90 347.4 1305.5)"><text x="347.4" y="1305.5" font-size="25" fill="#1080ff" textLength="205.5" lengthAdjust="spacingAndGlyphs" stroke="#1080ff" stroke-width="0.43">Bi<tspan font-size="17" dy="4">2</tspan><tspan dy="-4">Te</tspan><tspan font-size="17" dy="4">3</tspan><tspan dy="-4"> + 1 wt.% Se</tspan></text></g>
<g transform="rotate(-90 403.5 1324.7)"><text x="403.5" y="1324.7" font-size="25" fill="#a040f0" textLength="135.7" lengthAdjust="spacingAndGlyphs" stroke="#a040f0" stroke-width="0.43">Bi<tspan font-size="17" dy="4">2</tspan><tspan dy="-4">Te</tspan><tspan font-size="17" dy="4">3</tspan><tspan dy="-4">/CNTs</tspan></text></g>
<g transform="rotate(-90 462.5 1330.3)"><text x="462.5" y="1330.3" font-size="25" fill="#c0c000" textLength="136.9" lengthAdjust="spacingAndGlyphs" stroke="#c0c000" stroke-width="0.43">Bi<tspan font-size="17" dy="4">2</tspan><tspan dy="-4">Te</tspan><tspan font-size="17" dy="4">3</tspan><tspan dy="-4">/CNTs</tspan></text></g>
<g transform="rotate(-90 521.5 1334.8)"><text x="521.5" y="1334.8" font-size="25" fill="#10c0c0" textLength="240.1" lengthAdjust="spacingAndGlyphs" stroke="#10c0c0" stroke-width="0.43">Screen-Printed Bi<tspan font-size="17" dy="4">2</tspan><tspan dy="-4">Te</tspan><tspan font-size="17" dy="4">3</tspan></text></g>
<rect x="119.2" y="978.5" width="437.8" height="437.5" fill="none" stroke="#000" stroke-width="2.5"/>
<line x1="119.2" y1="1415.3" x2="126.2" y2="1415.3" stroke="#000" stroke-width="2"/>
<text x="112.8" y="1424.1" font-size="25" fill="#000" text-anchor="end" textLength="41.5" lengthAdjust="spacingAndGlyphs" stroke="#000" stroke-width="0.43">0.0</text>
<line x1="119.2" y1="1381.7" x2="123.2" y2="1381.7" stroke="#000" stroke-width="2"/>
<line x1="119.2" y1="1348.1" x2="126.2" y2="1348.1" stroke="#000" stroke-width="2"/>
<text x="112.8" y="1356.8999999999999" font-size="25" fill="#000" text-anchor="end" textLength="41.5" lengthAdjust="spacingAndGlyphs" stroke="#000" stroke-width="0.43">0.2</text>
<line x1="119.2" y1="1314.5" x2="123.2" y2="1314.5" stroke="#000" stroke-width="2"/>
<line x1="119.2" y1="1280.9" x2="126.2" y2="1280.9" stroke="#000" stroke-width="2"/>
<text x="112.8" y="1289.6999999999998" font-size="25" fill="#000" text-anchor="end" textLength="41.5" lengthAdjust="spacingAndGlyphs" stroke="#000" stroke-width="0.43">0.4</text>
<line x1="119.2" y1="1247.3" x2="123.2" y2="1247.3" stroke="#000" stroke-width="2"/>
<line x1="119.2" y1="1213.7" x2="126.2" y2="1213.7" stroke="#000" stroke-width="2"/>
<text x="112.8" y="1222.4999999999998" font-size="25" fill="#000" text-anchor="end" textLength="41.5" lengthAdjust="spacingAndGlyphs" stroke="#000" stroke-width="0.43">0.6</text>
<line x1="119.2" y1="1180.1" x2="123.2" y2="1180.1" stroke="#000" stroke-width="2"/>
<line x1="119.2" y1="1146.5" x2="126.2" y2="1146.5" stroke="#000" stroke-width="2"/>
<text x="112.8" y="1155.3" font-size="25" fill="#000" text-anchor="end" textLength="41.5" lengthAdjust="spacingAndGlyphs" stroke="#000" stroke-width="0.43">0.8</text>
<line x1="119.2" y1="1112.9" x2="123.2" y2="1112.9" stroke="#000" stroke-width="2"/>
<line x1="119.2" y1="1079.3" x2="126.2" y2="1079.3" stroke="#000" stroke-width="2"/>
<text x="112.8" y="1088.1" font-size="25" fill="#000" text-anchor="end" textLength="41.5" lengthAdjust="spacingAndGlyphs" stroke="#000" stroke-width="0.43">1.0</text>
<line x1="119.2" y1="1045.7" x2="123.2" y2="1045.7" stroke="#000" stroke-width="2"/>
<line x1="119.2" y1="1012.1" x2="126.2" y2="1012.1" stroke="#000" stroke-width="2"/>
<text x="112.8" y="1020.8999999999999" font-size="25" fill="#000" text-anchor="end" textLength="41.5" lengthAdjust="spacingAndGlyphs" stroke="#000" stroke-width="0.43">1.2</text>
<text x="38.3" y="1009" font-size="40" fill="#000" font-weight="bold">e</text>
<g transform="rotate(-90 64 1209)"><text x="64" y="1209" font-size="37" fill="#000" font-style="italic" textLength="46" lengthAdjust="spacingAndGlyphs" stroke="#000" stroke-width="0.50">ZT</text></g>
<text x="269.4" y="1456" font-size="34" fill="#000" textLength="141.4" lengthAdjust="spacingAndGlyphs" stroke="#000" stroke-width="0.50">Materials</text>
<defs><linearGradient id="fbg" x1="0" y1="0" x2="0" y2="1"><stop offset="0" stop-color="#fce3fa"/><stop offset="0.75" stop-color="#fdf2fc"/><stop offset="1" stop-color="#fffcff"/></linearGradient><linearGradient id="ibg" x1="0" y1="0" x2="0" y2="1"><stop offset="0" stop-color="#c6f8f8"/><stop offset="1" stop-color="#ffffff"/></linearGradient><radialGradient id="ball" cx="0.38" cy="0.35" r="0.65"><stop offset="0" stop-color="#ffffff"/><stop offset="0.18" stop-color="#ffb0b0"/><stop offset="0.45" stop-color="#ff1010"/><stop offset="1" stop-color="#e00000"/></radialGradient><linearGradient id="cuL" x1="0" y1="0" x2="0.3" y2="1"><stop offset="0" stop-color="#b8745a"/><stop offset="0.6" stop-color="#a46048"/><stop offset="1" stop-color="#8a5040"/></linearGradient><linearGradient id="cuR" x1="0" y1="0" x2="0.3" y2="1"><stop offset="0" stop-color="#b8806a"/><stop offset="1" stop-color="#9a6050"/></linearGradient><linearGradient id="chb" x1="0" y1="0" x2="0" y2="1"><stop offset="0" stop-color="#3e3c3a"/><stop offset="0.45" stop-color="#555351"/><stop offset="1" stop-color="#6a6866"/></linearGradient><linearGradient id="kap" x1="0" y1="0" x2="1" y2="0"><stop offset="0" stop-color="#b06418"/><stop offset="0.5" stop-color="#a05810"/><stop offset="1" stop-color="#c07420"/></linearGradient><clipPath id="fph"><rect x="661.9" y="991.3" width="215.3" height="161.5"/></clipPath><filter id="pbl"><feGaussianBlur stdDeviation="0.8"/></filter></defs>
<rect x="646.8" y="977.5" width="437.79999999999995" height="438.0999999999999" fill="url(#fbg)"/>
<g clip-path="url(#fph)"><g filter="url(#pbl)">
<rect x="661.9" y="991.3" width="215.3" height="161.5" fill="url(#chb)"/>
<ellipse cx="834" cy="1006" rx="24" ry="26" fill="#2e2c2a" opacity="0.85"/>
<ellipse cx="765" cy="1125" rx="75" ry="45" fill="#74726e" opacity="0.55"/>
<ellipse cx="757" cy="1103" rx="27" ry="21" fill="#888682" opacity="0.6"/>
<ellipse cx="757" cy="1103" rx="21.5" ry="16.5" fill="#0a0a0a"/>
<polygon points="661,1015.4 704.2,1009.9 684,1152.9 661,1152.9" fill="url(#cuL)"/>
<polygon points="704.2,1009.9 714,1016 694,1152.9 684,1152.9" fill="#6e4a40"/>
<line x1="706.4" y1="1029.8" x2="699.8" y2="1054.1" stroke="#e8e0e0" stroke-width="1.2"/><line x1="682" y1="1119" x2="673" y2="1151" stroke="#e0d8d8" stroke-width="1.2"/>
<polygon points="842.4,1011 878,1014 878,1152.9 867.8,1152.9" fill="url(#cuR)"/>
<polygon points="838,1031 842.4,1011 867.8,1152.9 858,1152.9" fill="#6a4a40"/>
<line x1="837.5" y1="1031" x2="845" y2="1057" stroke="#f0e8e8" stroke-width="1.3"/><line x1="846" y1="1113" x2="853" y2="1152" stroke="#e8e0e0" stroke-width="1.2"/><line x1="860" y1="1121" x2="868" y2="1152" stroke="#f0e8e8" stroke-width="1.2"/>
<rect x="667.7" y="990" width="32.1" height="31" rx="2" fill="#ddd5bf"/><ellipse cx="683.7" cy="1021" rx="16" ry="3.2" fill="#b88a70"/><rect x="688" y="992" width="4" height="12" fill="#f4f0e4" opacity="0.8"/>
<rect x="846.8" y="990" width="29.3" height="31" rx="2" fill="#ddd5bf"/><ellipse cx="861.4" cy="1022" rx="14.6" ry="3.2" fill="#b88a70"/>
<line x1="704.9" y1="1012" x2="731.2" y2="1034" stroke="#d84848" stroke-width="1.6"/>
<path d="M698.7,1054.1 C712,1046 722,1036 733,1028 C745,1020 757,1015.4 769.5,1015.4 C785,1015.6 800,1024 815,1036 C828,1046 838,1053 844.6,1056.3 L860.1,1120.5 C845,1113 830,1102 815,1091 C800,1081 785,1075 769.5,1075.1 C755,1075.5 740,1083 725,1094 C710,1105 695,1114 682.1,1118.2 Z" fill="url(#kap)"/>
<polygon points="703,1062 713,1057 703,1108 694,1112" fill="#d4d6dc"/>
<polygon points="722,1050 732,1044 724,1095 715,1100" fill="#d4d6dc"/>
<polygon points="736,1037 748,1031 742,1081 731,1086" fill="#d4d6dc"/>
<polygon points="756,1025 770,1024 767,1070 754,1073" fill="#d4d6dc"/>
<polygon points="787,1027 797,1031 796,1072 786,1071" fill="#d4d6dc"/>
<polygon points="804,1037 811,1042 817,1086 809,1082" fill="#d4d6dc"/>
<polygon points="825,1052 833,1058 840,1102 832,1098" fill="#d4d6dc"/>
<rect x="797" y="1045" width="12" height="28" rx="3" fill="#d8ccb0" transform="rotate(-18 803 1059)"/>
</g></g>
<rect x="661.9" y="991.3" width="215.3" height="161.5" fill="none" stroke="#20b4e8" stroke-width="2.2"/>
<text x="663.7" y="1174.3" font-size="16.5" fill="#198a19" textLength="208" lengthAdjust="spacingAndGlyphs" stroke="#198a19" stroke-width="0.28">n-legs: Ag-doped  Bi<tspan font-size="12" dy="4">2</tspan><tspan dy="-4">Te</tspan><tspan font-size="12" dy="4">3</tspan></text>
<text x="663.7" y="1197.7" font-size="16.5" fill="#b020c0" textLength="123.6" lengthAdjust="spacingAndGlyphs" stroke="#b020c0" stroke-width="0.28">p-legs: Sb<tspan font-size="12" dy="4">2</tspan><tspan dy="-4">Te</tspan><tspan font-size="12" dy="4">3</tspan></text>
<polyline points="704.3,1361.6 761.3,1295.2 848,1220.8 931.7,1117.8 1018.7,1035.3" fill="none" stroke="#ff0000" stroke-width="2.6"/>
<polygon points="1013.3,1044.4 976.1,1054.3 997,1057 1002.4,1080.6" fill="#ffa8c4" opacity="0.85"/>
<circle cx="704.3" cy="1361.6" r="11" fill="url(#ball)"/>
<circle cx="761.3" cy="1295.2" r="11" fill="url(#ball)"/>
<circle cx="848" cy="1220.8" r="11" fill="url(#ball)"/>
<circle cx="931.7" cy="1117.8" r="11" fill="url(#ball)"/>
<circle cx="1018.7" cy="1035.3" r="11" fill="url(#ball)"/>
<text x="954.3" y="1004.1" font-size="22" fill="#ff1010" textLength="123.4" lengthAdjust="spacingAndGlyphs" stroke="#ff1010" stroke-width="0.37">&gt;2 mW cm<tspan font-size="15" dy="-9">-2</tspan></text>
<rect x="909.8" y="1190.4" width="164.5" height="171.89999999999986" fill="url(#ibg)" stroke="#303030" stroke-width="1.6"/>
<line x1="909.8" y1="1347.9" x2="914.8" y2="1347.9" stroke="#303030" stroke-width="1.2"/>
<text x="906.4" y="1353.6000000000001" font-size="16" fill="#000" text-anchor="end" stroke="#000" stroke-width="0.27">0</text>
<line x1="909.8" y1="1333.7" x2="912.8" y2="1333.7" stroke="#303030" stroke-width="1.2"/>
<line x1="909.8" y1="1319.4" x2="914.8" y2="1319.4" stroke="#303030" stroke-width="1.2"/>
<text x="906.4" y="1325.1000000000001" font-size="16" fill="#000" text-anchor="end" stroke="#000" stroke-width="0.27">10</text>
<line x1="909.8" y1="1305.2" x2="912.8" y2="1305.2" stroke="#303030" stroke-width="1.2"/>
<line x1="909.8" y1="1290.9" x2="914.8" y2="1290.9" stroke="#303030" stroke-width="1.2"/>
<text x="906.4" y="1296.6000000000001" font-size="16" fill="#000" text-anchor="end" stroke="#000" stroke-width="0.27">20</text>
<line x1="909.8" y1="1276.7" x2="912.8" y2="1276.7" stroke="#303030" stroke-width="1.2"/>
<line x1="909.8" y1="1262.4" x2="914.8" y2="1262.4" stroke="#303030" stroke-width="1.2"/>
<text x="906.4" y="1268.1000000000001" font-size="16" fill="#000" text-anchor="end" stroke="#000" stroke-width="0.27">30</text>
<line x1="909.8" y1="1248.2" x2="912.8" y2="1248.2" stroke="#303030" stroke-width="1.2"/>
<line x1="909.8" y1="1233.9" x2="914.8" y2="1233.9" stroke="#303030" stroke-width="1.2"/>
<text x="906.4" y="1239.6000000000001" font-size="16" fill="#000" text-anchor="end" stroke="#000" stroke-width="0.27">40</text>
<line x1="909.8" y1="1219.7" x2="912.8" y2="1219.7" stroke="#303030" stroke-width="1.2"/>
<line x1="909.8" y1="1205.4" x2="914.8" y2="1205.4" stroke="#303030" stroke-width="1.2"/>
<text x="906.4" y="1211.1000000000001" font-size="16" fill="#000" text-anchor="end" stroke="#000" stroke-width="0.27">50</text>
<line x1="918.5" y1="1362.3" x2="918.5" y2="1359.3" stroke="#303030" stroke-width="1.2"/>
<line x1="942.7" y1="1362.3" x2="942.7" y2="1357.3" stroke="#303030" stroke-width="1.2"/>
<text x="942.7" y="1380.3" font-size="17" fill="#000" text-anchor="middle" stroke="#000" stroke-width="0.29">600</text>
<line x1="967.0" y1="1362.3" x2="967.0" y2="1359.3" stroke="#303030" stroke-width="1.2"/>
<line x1="991.2" y1="1362.3" x2="991.2" y2="1357.3" stroke="#303030" stroke-width="1.2"/>
<text x="991.2" y="1380.3" font-size="17" fill="#000" text-anchor="middle" stroke="#000" stroke-width="0.29">1200</text>
<line x1="1015.5" y1="1362.3" x2="1015.5" y2="1359.3" stroke="#303030" stroke-width="1.2"/>
<line x1="1039.7" y1="1362.3" x2="1039.7" y2="1357.3" stroke="#303030" stroke-width="1.2"/>
<text x="1039.7" y="1380.3" font-size="17" fill="#000" text-anchor="middle" stroke="#000" stroke-width="0.29">1800</text>
<line x1="1064.0" y1="1362.3" x2="1064.0" y2="1359.3" stroke="#303030" stroke-width="1.2"/>
<text x="927.2" y="1399.2" font-size="16.5" fill="#000" textLength="129.7" lengthAdjust="spacingAndGlyphs" stroke="#000" stroke-width="0.28">Bending cycles</text>
<g transform="rotate(-90 879.9 1304)"><text x="879.9" y="1304" font-size="16" fill="#000" textLength="92" lengthAdjust="spacingAndGlyphs" stroke="#000" stroke-width="0.27">Δ<tspan font-style="italic">R</tspan>/<tspan font-style="italic">R</tspan><tspan font-size="11" dy="4">0</tspan><tspan dy="-4">  (%)</tspan></text></g>
<text x="994.4" y="1225.4" font-size="20" fill="#10b0e0" text-anchor="middle" textLength="64.4" lengthAdjust="spacingAndGlyphs" stroke="#10b0e0" stroke-width="0.34">Device</text>
<text x="994.4" y="1252.9" font-size="20" fill="#10b0e0" text-anchor="middle" textLength="87.8" lengthAdjust="spacingAndGlyphs" stroke="#10b0e0" stroke-width="0.34">Flexibility</text>
<text x="944.2" y="1306.8" font-size="17" fill="#7a1010" textLength="87" lengthAdjust="spacingAndGlyphs" stroke="#7a1010" stroke-width="0.29"><tspan font-style="italic">r</tspan> = 18 mm</text>
<polyline points="926.3,1339 958.8,1335.2 991.9,1332.9 1024.7,1324.2 1057.4,1321" fill="none" stroke="#ff0000" stroke-width="2"/>
<circle cx="926.3" cy="1339" r="6.2" fill="url(#ball)"/>
<circle cx="958.8" cy="1335.2" r="6.2" fill="url(#ball)"/>
<circle cx="991.9" cy="1332.9" r="6.2" fill="url(#ball)"/>
<circle cx="1024.7" cy="1324.2" r="6.2" fill="url(#ball)"/>
<circle cx="1057.4" cy="1321" r="6.2" fill="url(#ball)"/>
<rect x="646.8" y="977.5" width="437.79999999999995" height="438.0999999999999" fill="none" stroke="#000" stroke-width="2.5"/>
<line x1="646.8" y1="1375.3" x2="653.8" y2="1375.3" stroke="#000" stroke-width="2"/>
<text x="636.5" y="1383.9" font-size="25.5" fill="#000" text-anchor="end" textLength="14.5" lengthAdjust="spacingAndGlyphs" stroke="#000" stroke-width="0.43">4</text>
<line x1="646.8" y1="1334.5" x2="650.8" y2="1334.5" stroke="#000" stroke-width="2"/>
<line x1="646.8" y1="1293.7" x2="653.8" y2="1293.7" stroke="#000" stroke-width="2"/>
<text x="636.5" y="1302.3" font-size="25.5" fill="#000" text-anchor="end" textLength="14.5" lengthAdjust="spacingAndGlyphs" stroke="#000" stroke-width="0.43">8</text>
<line x1="646.8" y1="1252.9" x2="650.8" y2="1252.9" stroke="#000" stroke-width="2"/>
<line x1="646.8" y1="1212.1" x2="653.8" y2="1212.1" stroke="#000" stroke-width="2"/>
<text x="636.5" y="1220.7" font-size="25.5" fill="#000" text-anchor="end" textLength="29.5" lengthAdjust="spacingAndGlyphs" stroke="#000" stroke-width="0.43">12</text>
<line x1="646.8" y1="1171.3" x2="650.8" y2="1171.3" stroke="#000" stroke-width="2"/>
<line x1="646.8" y1="1130.5" x2="653.8" y2="1130.5" stroke="#000" stroke-width="2"/>
<text x="636.5" y="1139.1" font-size="25.5" fill="#000" text-anchor="end" textLength="29.5" lengthAdjust="spacingAndGlyphs" stroke="#000" stroke-width="0.43">16</text>
<line x1="646.8" y1="1089.7" x2="650.8" y2="1089.7" stroke="#000" stroke-width="2"/>
<line x1="646.8" y1="1048.9" x2="653.8" y2="1048.9" stroke="#000" stroke-width="2"/>
<text x="636.5" y="1057.5" font-size="25.5" fill="#000" text-anchor="end" textLength="29.5" lengthAdjust="spacingAndGlyphs" stroke="#000" stroke-width="0.43">20</text>
<line x1="646.8" y1="1008.1" x2="650.8" y2="1008.1" stroke="#000" stroke-width="2"/>
<line x1="647.3" y1="1415.6" x2="647.3" y2="1411.6" stroke="#000" stroke-width="2"/>
<line x1="685.3" y1="1415.6" x2="685.3" y2="1408.6" stroke="#000" stroke-width="2"/>
<text x="685.3" y="1445.5" font-size="25.5" fill="#000" text-anchor="middle" textLength="29.5" lengthAdjust="spacingAndGlyphs" stroke="#000" stroke-width="0.43">20</text>
<line x1="723.3" y1="1415.6" x2="723.3" y2="1411.6" stroke="#000" stroke-width="2"/>
<line x1="761.3" y1="1415.6" x2="761.3" y2="1408.6" stroke="#000" stroke-width="2"/>
<text x="761.3" y="1445.5" font-size="25.5" fill="#000" text-anchor="middle" textLength="29.5" lengthAdjust="spacingAndGlyphs" stroke="#000" stroke-width="0.43">30</text>
<line x1="799.3" y1="1415.6" x2="799.3" y2="1411.6" stroke="#000" stroke-width="2"/>
<line x1="837.3" y1="1415.6" x2="837.3" y2="1408.6" stroke="#000" stroke-width="2"/>
<text x="837.3" y="1445.5" font-size="25.5" fill="#000" text-anchor="middle" textLength="29.5" lengthAdjust="spacingAndGlyphs" stroke="#000" stroke-width="0.43">40</text>
<line x1="875.3" y1="1415.6" x2="875.3" y2="1411.6" stroke="#000" stroke-width="2"/>
<line x1="913.3" y1="1415.6" x2="913.3" y2="1408.6" stroke="#000" stroke-width="2"/>
<text x="913.3" y="1445.5" font-size="25.5" fill="#000" text-anchor="middle" textLength="29.5" lengthAdjust="spacingAndGlyphs" stroke="#000" stroke-width="0.43">50</text>
<line x1="951.3" y1="1415.6" x2="951.3" y2="1411.6" stroke="#000" stroke-width="2"/>
<line x1="989.3" y1="1415.6" x2="989.3" y2="1408.6" stroke="#000" stroke-width="2"/>
<text x="989.3" y="1445.5" font-size="25.5" fill="#000" text-anchor="middle" textLength="29.5" lengthAdjust="spacingAndGlyphs" stroke="#000" stroke-width="0.43">60</text>
<line x1="1027.3" y1="1415.6" x2="1027.3" y2="1411.6" stroke="#000" stroke-width="2"/>
<line x1="1065.3" y1="1415.6" x2="1065.3" y2="1408.6" stroke="#000" stroke-width="2"/>
<text x="1065.3" y="1445.5" font-size="25.5" fill="#000" text-anchor="middle" textLength="29.5" lengthAdjust="spacingAndGlyphs" stroke="#000" stroke-width="0.43">70</text>
<text x="585.6" y="1006.4" font-size="38" fill="#000" font-weight="bold">f</text>
<text x="808.9" y="1481" font-size="30" fill="#000" textLength="94" lengthAdjust="spacingAndGlyphs" stroke="#000" stroke-width="0.50">Δ<tspan font-style="italic">T</tspan> (K)</text>
<g transform="rotate(-90 601 1308.5)"><text x="601" y="1308.5" font-size="32" fill="#000" textLength="287.5" lengthAdjust="spacingAndGlyphs" stroke="#000" stroke-width="0.50"><tspan font-style="italic">ω</tspan><tspan font-size="22" dy="6">out</tspan><tspan dy="-6"> (×100 μW cm</tspan><tspan font-size="22" dy="-12">-2</tspan><tspan dy="12">)</tspan></text></g>
</svg></body></html>
